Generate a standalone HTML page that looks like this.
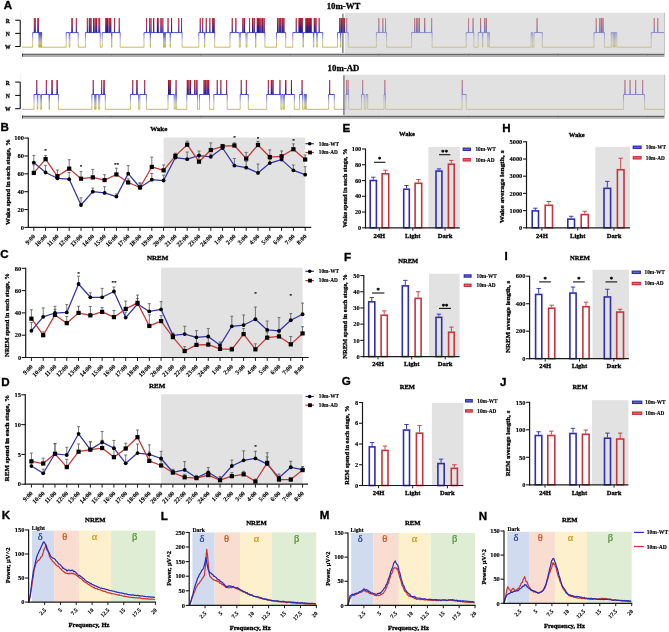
<!DOCTYPE html>
<html><head><meta charset="utf-8"><title>Sleep figure</title>
<style>html,body{margin:0;padding:0;background:#fff;overflow:hidden;width:669px;height:632px;}svg{display:block;will-change:transform;filter:blur(0.35px);}</style>
</head><body>
<svg width="669" height="632" viewBox="0 0 669 632">
<rect x="0" y="0" width="669" height="632" fill="#fff"/>
<text x="3.87" y="9.1" font-size="11.6" font-family="'Liberation Sans', sans-serif" font-weight="bold" text-anchor="start" fill="#000" stroke="#000" stroke-width="0.35">A</text>
<defs><linearGradient id="gA1" gradientUnits="userSpaceOnUse" x1="0" y1="18.1" x2="0" y2="47.2">
<stop offset="0" stop-color="#c02636"/><stop offset="0.22" stop-color="#a82a5c"/><stop offset="0.40" stop-color="#4a2a9c"/><stop offset="0.48" stop-color="#1e1eb0"/><stop offset="0.52" stop-color="#4a4ad2"/><stop offset="0.62" stop-color="#7474c8"/><stop offset="0.74" stop-color="#a4a4bc"/><stop offset="0.86" stop-color="#c4c080"/><stop offset="0.97" stop-color="#bab238"/><stop offset="1" stop-color="#b8b032"/>
</linearGradient></defs>
<line x1="20.7" y1="11" x2="20.7" y2="58.3" stroke="#ececec" stroke-width="0.8"/>
<line x1="20.2" y1="20.2" x2="20.2" y2="46.5" stroke="#000" stroke-width="1"/>
<line x1="15.2" y1="20.2" x2="20.2" y2="20.2" stroke="#000" stroke-width="1"/>
<text x="7.7" y="22.7" font-size="7" font-family="'Liberation Serif', serif" font-weight="bold" text-anchor="middle" fill="#000" transform="translate(7.7 0) scale(0.8 1) translate(-7.7 0)" stroke="#000" stroke-width="0.29">R</text>
<line x1="15.2" y1="33.4" x2="20.2" y2="33.4" stroke="#000" stroke-width="1"/>
<text x="7.7" y="35.9" font-size="7" font-family="'Liberation Serif', serif" font-weight="bold" text-anchor="middle" fill="#000" transform="translate(7.7 0) scale(0.8 1) translate(-7.7 0)" stroke="#000" stroke-width="0.29">N</text>
<line x1="15.2" y1="46.5" x2="20.2" y2="46.5" stroke="#000" stroke-width="1"/>
<text x="7.7" y="49" font-size="7" font-family="'Liberation Serif', serif" font-weight="bold" text-anchor="middle" fill="#000" transform="translate(7.7 0) scale(0.8 1) translate(-7.7 0)" stroke="#000" stroke-width="0.29">W</text>
<path d="M22.2 47.2 L32.7 47.2 L32.7 32.6 L34.3 32.6 L34.3 18.1 L34.42 18.1 L34.42 32.6 L35.2 32.6 L35.2 18.1 L35.32 18.1 L35.32 32.6 L37.8 32.6 L37.8 18.1 L37.92 18.1 L37.92 32.6 L38.4 32.6 L38.4 18.1 L38.52 18.1 L38.52 32.6 L38.9 32.6 L38.9 47.2 L39.2 47.2 L39.2 32.6 L39.5 32.6 L39.5 47.2 L39.8 47.2 L39.8 32.6 L40.1 32.6 L40.1 47.2 L40.4 47.2 L40.4 32.6 L40.7 32.6 L40.7 47.2 L41 47.2 L41 32.6 L41.2 32.6 L41.2 47.2 L41.5 47.2 L41.5 32.6 L41.7 32.6 L41.7 47.2 L66.2 47.2 L66.2 32.6 L69.2 32.6 L69.2 47.2 L69.9 47.2 L69.9 32.6 L72 32.6 L72 18.1 L72.12 18.1 L72.12 32.6 L76.3 32.6 L76.3 18.1 L76.42 18.1 L76.42 32.6 L78.2 32.6 L78.2 47.2 L85.4 47.2 L85.4 32.6 L87.3 32.6 L87.3 18.1 L87.42 18.1 L87.42 32.6 L89.3 32.6 L89.3 18.1 L89.42 18.1 L89.42 32.6 L90.85 32.6 L90.85 18.1 L90.97 18.1 L90.97 32.6 L93.5 32.6 L93.5 18.1 L93.62 18.1 L93.62 32.6 L95.05 32.6 L95.05 18.1 L95.17 18.1 L95.17 32.6 L96.6 32.6 L96.6 18.1 L96.72 18.1 L96.72 32.6 L98.9 32.6 L98.9 18.1 L99.02 18.1 L99.02 32.6 L99.6 32.6 L99.6 18.1 L99.72 18.1 L99.72 32.6 L100.2 32.6 L100.2 47.2 L102.2 47.2 L102.2 32.6 L105.9 32.6 L105.9 18.1 L106.02 18.1 L106.02 32.6 L107.45 32.6 L107.45 18.1 L107.57 18.1 L107.57 32.6 L109.1 32.6 L109.1 18.1 L109.22 18.1 L109.22 32.6 L110.65 32.6 L110.65 18.1 L110.77 18.1 L110.77 32.6 L111.5 32.6 L111.5 47.2 L111.9 47.2 L111.9 32.6 L114.5 32.6 L114.5 18.1 L114.62 18.1 L114.62 32.6 L119.2 32.6 L119.2 18.1 L119.32 18.1 L119.32 32.6 L120.2 32.6 L120.2 47.2 L144 47.2 L144 32.6 L146.5 32.6 L146.5 18.1 L146.62 18.1 L146.62 32.6 L149.6 32.6 L149.6 18.1 L149.72 18.1 L149.72 32.6 L150.2 32.6 L150.2 47.2 L150.5 47.2 L150.5 32.6 L150.9 32.6 L150.9 18.1 L151.02 18.1 L151.02 32.6 L153.6 32.6 L153.6 18.1 L153.72 18.1 L153.72 32.6 L157.4 32.6 L157.4 18.1 L157.52 18.1 L157.52 32.6 L161 32.6 L161 18.1 L161.12 18.1 L161.12 32.6 L162.8 32.6 L162.8 18.1 L162.92 18.1 L162.92 32.6 L163.5 32.6 L163.5 47.2 L163.9 47.2 L163.9 32.6 L164.3 32.6 L164.3 47.2 L164.7 47.2 L164.7 32.6 L165 32.6 L165 47.2 L165.4 47.2 L165.4 32.6 L168 32.6 L168 18.1 L168.12 18.1 L168.12 32.6 L170.1 32.6 L170.1 47.2 L170.6 47.2 L170.6 32.6 L171.5 32.6 L171.5 18.1 L171.62 18.1 L171.62 32.6 L178.7 32.6 L178.7 18.1 L178.82 18.1 L178.82 32.6 L181.5 32.6 L181.5 18.1 L181.62 18.1 L181.62 32.6 L182.1 32.6 L182.1 47.2 L198.8 47.2 L198.8 32.6 L200.2 32.6 L200.2 18.1 L200.32 18.1 L200.32 32.6 L202.6 32.6 L202.6 18.1 L202.72 18.1 L202.72 32.6 L204.4 32.6 L204.4 47.2 L204.8 47.2 L204.8 32.6 L206.2 32.6 L206.2 18.1 L206.32 18.1 L206.32 32.6 L209.8 32.6 L209.8 18.1 L209.92 18.1 L209.92 32.6 L212.8 32.6 L212.8 18.1 L212.92 18.1 L212.92 32.6 L214.7 32.6 L214.7 47.2 L230 47.2 L230 32.6 L232.2 32.6 L232.2 18.1 L232.32 18.1 L232.32 32.6 L235.8 32.6 L235.8 18.1 L235.92 18.1 L235.92 32.6 L239.3 32.6 L239.3 47.2 L240.3 47.2 L240.3 32.6 L242.9 32.6 L242.9 18.1 L243.02 18.1 L243.02 32.6 L244.45 32.6 L244.45 18.1 L244.57 18.1 L244.57 32.6 L246 32.6 L246 47.2 L247 47.2 L247 32.6 L249.5 32.6 L249.5 18.1 L249.62 18.1 L249.62 32.6 L252.5 32.6 L252.5 18.1 L252.62 18.1 L252.62 32.6 L254.05 32.6 L254.05 18.1 L254.17 18.1 L254.17 32.6 L255.5 32.6 L255.5 47.2 L255.9 47.2 L255.9 32.6 L257.3 32.6 L257.3 18.1 L257.42 18.1 L257.42 32.6 L258.85 32.6 L258.85 18.1 L258.97 18.1 L258.97 32.6 L260.9 32.6 L260.9 18.1 L261.02 18.1 L261.02 32.6 L262.45 32.6 L262.45 18.1 L262.57 18.1 L262.57 32.6 L264 32.6 L264 18.1 L264.12 18.1 L264.12 32.6 L264.9 32.6 L264.9 47.2 L276.5 47.2 L276.5 32.6 L277.6 32.6 L277.6 18.1 L277.72 18.1 L277.72 32.6 L279.15 32.6 L279.15 18.1 L279.27 18.1 L279.27 32.6 L280.7 32.6 L280.7 18.1 L280.82 18.1 L280.82 32.6 L282.25 32.6 L282.25 18.1 L282.37 18.1 L282.37 32.6 L283.8 32.6 L283.8 18.1 L283.92 18.1 L283.92 32.6 L285.7 32.6 L285.7 47.2 L292.8 47.2 L292.8 32.6 L296.2 32.6 L296.2 18.1 L296.32 18.1 L296.32 32.6 L299.1 32.6 L299.1 18.1 L299.22 18.1 L299.22 32.6 L300.65 32.6 L300.65 18.1 L300.77 18.1 L300.77 32.6 L302.2 32.6 L302.2 18.1 L302.32 18.1 L302.32 32.6 L303 32.6 L303 47.2 L303.4 47.2 L303.4 32.6 L306 32.6 L306 18.1 L306.12 18.1 L306.12 32.6 L307.55 32.6 L307.55 18.1 L307.67 18.1 L307.67 32.6 L309.1 32.6 L309.1 18.1 L309.22 18.1 L309.22 32.6 L310.65 32.6 L310.65 18.1 L310.77 18.1 L310.77 32.6 L313.4 32.6 L313.4 47.2 L313.8 47.2 L313.8 32.6 L314.3 32.6 L314.3 18.1 L314.42 18.1 L314.42 32.6 L315.85 32.6 L315.85 18.1 L315.97 18.1 L315.97 32.6 L316.8 32.6 L316.8 47.2 L317.2 47.2 L317.2 32.6 L319.1 32.6 L319.1 18.1 L319.22 18.1 L319.22 32.6 L322.7 32.6 L322.7 47.2 L337.5 47.2 L337.5 32.6 L339.5 32.6 L339.5 18.1 L339.62 18.1 L339.62 32.6 L340.4 32.6 L340.4 47.2 L340.8 47.2 L340.8 32.6 L341 32.6 L341 18.1 L341.12 18.1 L341.12 32.6 L342.55 32.6 L342.55 18.1 L342.67 18.1 L342.67 32.6 L344.1 32.6 L344.1 18.1 L344.22 18.1 L344.22 32.6 L346.6 32.6 L346.6 18.1 L346.72 18.1 L346.72 32.6 L348.2 32.6 L348.2 47.2 L376.4 47.2 L376.4 32.6 L378.8 32.6 L378.8 18.1 L378.92 18.1 L378.92 32.6 L382.8 32.6 L382.8 18.1 L382.92 18.1 L382.92 32.6 L385.5 32.6 L385.5 18.1 L385.62 18.1 L385.62 32.6 L386.6 32.6 L386.6 47.2 L411.6 47.2 L411.6 32.6 L414.5 32.6 L414.5 18.1 L414.62 18.1 L414.62 32.6 L416.3 32.6 L416.3 18.1 L416.42 18.1 L416.42 32.6 L417.85 32.6 L417.85 18.1 L417.97 18.1 L417.97 32.6 L419.4 32.6 L419.4 18.1 L419.52 18.1 L419.52 32.6 L424.6 32.6 L424.6 18.1 L424.72 18.1 L424.72 32.6 L431.6 32.6 L431.6 18.1 L431.72 18.1 L431.72 32.6 L432.1 32.6 L432.1 47.2 L466.2 47.2 L466.2 32.6 L468.5 32.6 L468.5 18.1 L468.62 18.1 L468.62 32.6 L473 32.6 L473 18.1 L473.12 18.1 L473.12 32.6 L473.9 32.6 L473.9 47.2 L478.2 47.2 L478.2 32.6 L480.5 32.6 L480.5 18.1 L480.62 18.1 L480.62 32.6 L482.4 32.6 L482.4 47.2 L482.8 47.2 L482.8 32.6 L484.7 32.6 L484.7 18.1 L484.82 18.1 L484.82 32.6 L486.25 32.6 L486.25 18.1 L486.37 18.1 L486.37 32.6 L487.8 32.6 L487.8 47.2 L488.2 47.2 L488.2 32.6 L489.5 32.6 L489.5 47.2 L531.1 47.2 L531.1 32.6 L532.4 32.6 L532.4 47.2 L534 47.2 L534 32.6 L537 32.6 L537 18.1 L537.12 18.1 L537.12 32.6 L542.3 32.6 L542.3 47.2 L594 47.2 L594 32.6 L596.2 32.6 L596.2 18.1 L596.32 18.1 L596.32 32.6 L599.8 32.6 L599.8 18.1 L599.92 18.1 L599.92 32.6 L601.35 32.6 L601.35 18.1 L601.47 18.1 L601.47 32.6 L602.9 32.6 L602.9 18.1 L603.02 18.1 L603.02 32.6 L604.4 32.6 L604.4 47.2 L611.3 47.2 L611.3 32.6 L613 32.6 L613 47.2 L613.7 47.2 L613.7 32.6 L614.6 32.6 L614.6 47.2 L615.3 47.2 L615.3 32.6 L616.8 32.6 L616.8 47.2 L651.2 47.2 L651.2 32.6 L654.2 32.6 L654.2 18.1 L654.32 18.1 L654.32 32.6 L657.7 32.6 L657.7 18.1 L657.82 18.1 L657.82 32.6 L664.2 32.6" fill="none" stroke="url(#gA1)" stroke-width="0.85" stroke-linejoin="miter"/>
<defs><linearGradient id="gA1d" gradientUnits="userSpaceOnUse" x1="0" y1="18.1" x2="0" y2="32.6">
<stop offset="0" stop-color="#a8101c"/><stop offset="0.35" stop-color="#8a0c2c"/><stop offset="0.65" stop-color="#2a0a70"/><stop offset="1" stop-color="#10108e"/></linearGradient></defs>
<path d="M72.06 32.6 V18.1 M89.36 32.6 V18.1 M90.91 32.6 V18.1 M93.56 32.6 V18.1 M95.11 32.6 V18.1 M96.66 32.6 V18.1 M105.9 32.6 V18.1 M106.5 32.6 V18.1 M107.1 32.6 V18.1 M107.7 32.6 V18.1 M109.16 32.6 V18.1 M110.71 32.6 V18.1 M153.66 32.6 V18.1 M157.4 32.6 V18.1 M158 32.6 V18.1 M158.6 32.6 V18.1 M161.06 32.6 V18.1 M171.56 32.6 V18.1 M212.8 32.6 V18.1 M213.4 32.6 V18.1 M214 32.6 V18.1 M214.6 32.6 V18.1 M242.96 32.6 V18.1 M244.51 32.6 V18.1 M252.56 32.6 V18.1 M254.11 32.6 V18.1 M257.3 32.6 V18.1 M257.9 32.6 V18.1 M258.5 32.6 V18.1 M259.1 32.6 V18.1 M259.7 32.6 V18.1 M260.96 32.6 V18.1 M262.51 32.6 V18.1 M264.06 32.6 V18.1 M277.66 32.6 V18.1 M279.21 32.6 V18.1 M280.76 32.6 V18.1 M282.31 32.6 V18.1 M283.86 32.6 V18.1 M299.1 32.6 V18.1 M299.7 32.6 V18.1 M300.3 32.6 V18.1 M300.9 32.6 V18.1 M301.5 32.6 V18.1 M302.1 32.6 V18.1 M306 32.6 V18.1 M306.6 32.6 V18.1 M307.2 32.6 V18.1 M307.8 32.6 V18.1 M308.4 32.6 V18.1 M309 32.6 V18.1 M309.6 32.6 V18.1 M310.2 32.6 V18.1 M310.8 32.6 V18.1 M311.4 32.6 V18.1 M314.36 32.6 V18.1 M315.91 32.6 V18.1 M341 32.6 V18.1 M341.6 32.6 V18.1 M342.2 32.6 V18.1 M342.8 32.6 V18.1 M343.4 32.6 V18.1 M344 32.6 V18.1 M344.6 32.6 V18.1 M416.36 32.6 V18.1 M417.91 32.6 V18.1 M419.46 32.6 V18.1 M424.66 32.6 V18.1 M480.56 32.6 V18.1 M484.76 32.6 V18.1 M486.31 32.6 V18.1 M599.86 32.6 V18.1 M601.41 32.6 V18.1 M602.96 32.6 V18.1" fill="none" stroke="url(#gA1d)" stroke-width="0.75" stroke-opacity="0.85"/>
<rect x="344.8" y="12.8" width="319.4" height="40.8" fill="#c6c6c6" fill-opacity="0.52"/>
<line x1="664.6" y1="12.8" x2="664.6" y2="53.6" stroke="#b8b8b8" stroke-width="0.9"/>
<line x1="342.9" y1="13.4" x2="342.9" y2="53.1" stroke="#6a6a6a" stroke-width="1.2"/>
<line x1="22.1" y1="55.8" x2="664.5" y2="55.8" stroke="#b0b0b0" stroke-width="2.2"/>
<line x1="22.1" y1="54.3" x2="664.5" y2="54.3" stroke="#404040" stroke-width="1.1"/>
<line x1="22.5" y1="53.7" x2="22.5" y2="56.5" stroke="#333" stroke-width="0.9"/>
<line x1="111.2" y1="53.8" x2="111.2" y2="56.1" stroke="#777" stroke-width="0.5"/>
<line x1="200.6" y1="53.8" x2="200.6" y2="56.1" stroke="#777" stroke-width="0.5"/>
<line x1="290.4" y1="53.8" x2="290.4" y2="56.1" stroke="#777" stroke-width="0.5"/>
<line x1="378.6" y1="53.8" x2="378.6" y2="56.1" stroke="#777" stroke-width="0.5"/>
<line x1="468.5" y1="53.8" x2="468.5" y2="56.1" stroke="#777" stroke-width="0.5"/>
<line x1="557.8" y1="53.8" x2="557.8" y2="56.1" stroke="#777" stroke-width="0.5"/>
<line x1="647.2" y1="53.8" x2="647.2" y2="56.1" stroke="#777" stroke-width="0.5"/>
<text x="343.5" y="9.4" font-size="8.8" font-family="'Liberation Serif', serif" font-weight="bold" text-anchor="middle" fill="#000" stroke="#000" stroke-width="0.3">10m-WT</text>
<defs><linearGradient id="gA2" gradientUnits="userSpaceOnUse" x1="0" y1="80" x2="0" y2="109.3">
<stop offset="0" stop-color="#c02636"/><stop offset="0.22" stop-color="#a82a5c"/><stop offset="0.40" stop-color="#4a2a9c"/><stop offset="0.48" stop-color="#1e1eb0"/><stop offset="0.52" stop-color="#4a4ad2"/><stop offset="0.62" stop-color="#7474c8"/><stop offset="0.74" stop-color="#a4a4bc"/><stop offset="0.86" stop-color="#c4c080"/><stop offset="0.97" stop-color="#bab238"/><stop offset="1" stop-color="#b8b032"/>
</linearGradient></defs>
<line x1="20.7" y1="73" x2="20.7" y2="120.2" stroke="#ececec" stroke-width="0.8"/>
<line x1="20.2" y1="82.1" x2="20.2" y2="108.7" stroke="#000" stroke-width="1"/>
<line x1="15.2" y1="82.1" x2="20.2" y2="82.1" stroke="#000" stroke-width="1"/>
<text x="7.7" y="84.6" font-size="7" font-family="'Liberation Serif', serif" font-weight="bold" text-anchor="middle" fill="#000" transform="translate(7.7 0) scale(0.8 1) translate(-7.7 0)" stroke="#000" stroke-width="0.29">R</text>
<line x1="15.2" y1="95.4" x2="20.2" y2="95.4" stroke="#000" stroke-width="1"/>
<text x="7.7" y="97.9" font-size="7" font-family="'Liberation Serif', serif" font-weight="bold" text-anchor="middle" fill="#000" transform="translate(7.7 0) scale(0.8 1) translate(-7.7 0)" stroke="#000" stroke-width="0.29">N</text>
<line x1="15.2" y1="108.7" x2="20.2" y2="108.7" stroke="#000" stroke-width="1"/>
<text x="7.7" y="111.2" font-size="7" font-family="'Liberation Serif', serif" font-weight="bold" text-anchor="middle" fill="#000" transform="translate(7.7 0) scale(0.8 1) translate(-7.7 0)" stroke="#000" stroke-width="0.29">W</text>
<path d="M21.8 109.3 L34 109.3 L34 94.5 L36.7 94.5 L36.7 80 L36.82 80 L36.82 94.5 L37.3 94.5 L37.3 109.3 L37.8 109.3 L37.8 94.5 L40.3 94.5 L40.3 109.3 L41.5 109.3 L41.5 94.5 L46.3 94.5 L46.3 80 L46.42 80 L46.42 94.5 L49.1 94.5 L49.1 109.3 L49.5 109.3 L49.5 94.5 L52 94.5 L52 80 L52.12 80 L52.12 94.5 L57.1 94.5 L57.1 80 L57.22 80 L57.22 94.5 L58.4 94.5 L58.4 109.3 L91.9 109.3 L91.9 94.5 L93.2 94.5 L93.2 80 L93.32 80 L93.32 94.5 L94.7 94.5 L94.7 109.3 L95.2 109.3 L95.2 94.5 L95.6 94.5 L95.6 109.3 L96 109.3 L96 94.5 L98.6 94.5 L98.6 109.3 L99.7 109.3 L99.7 94.5 L101.6 94.5 L101.6 80 L101.72 80 L101.72 94.5 L104 94.5 L104 80 L104.12 80 L104.12 94.5 L105.3 94.5 L105.3 109.3 L130.4 109.3 L130.4 94.5 L132.7 94.5 L132.7 80 L132.82 80 L132.82 94.5 L136.9 94.5 L136.9 80 L137.02 80 L137.02 94.5 L138.6 94.5 L138.6 109.3 L139.8 109.3 L139.8 94.5 L144.6 94.5 L144.6 80 L144.72 80 L144.72 94.5 L146.4 94.5 L146.4 109.3 L168 109.3 L168 94.5 L168.5 94.5 L168.5 80 L168.62 80 L168.62 94.5 L170.05 94.5 L170.05 80 L170.17 80 L170.17 94.5 L174.2 94.5 L174.2 109.3 L175.3 109.3 L175.3 94.5 L176 94.5 L176 80 L176.12 80 L176.12 94.5 L176.6 94.5 L176.6 109.3 L186.8 109.3 L186.8 94.5 L187.3 94.5 L187.3 80 L187.42 80 L187.42 94.5 L188.85 94.5 L188.85 80 L188.97 80 L188.97 94.5 L190.4 94.5 L190.4 80 L190.52 80 L190.52 94.5 L194.5 94.5 L194.5 80 L194.62 80 L194.62 94.5 L196 94.5 L196 80 L196.12 80 L196.12 94.5 L197 94.5 L197 80 L197.12 80 L197.12 94.5 L197.5 94.5 L197.5 109.3 L199.5 109.3 L199.5 94.5 L204.1 94.5 L204.1 80 L204.22 80 L204.22 94.5 L205.65 94.5 L205.65 80 L205.77 80 L205.77 94.5 L207.1 94.5 L207.1 80 L207.22 80 L207.22 94.5 L208.65 94.5 L208.65 80 L208.77 80 L208.77 94.5 L209.6 94.5 L209.6 109.3 L213.8 109.3 L213.8 94.5 L217.2 94.5 L217.2 80 L217.32 80 L217.32 94.5 L220.8 94.5 L220.8 80 L220.92 80 L220.92 94.5 L226.6 94.5 L226.6 80 L226.72 80 L226.72 94.5 L227.2 94.5 L227.2 109.3 L240.2 109.3 L240.2 94.5 L241.2 94.5 L241.2 80 L241.32 80 L241.32 94.5 L246.3 94.5 L246.3 80 L246.42 80 L246.42 94.5 L248.3 94.5 L248.3 109.3 L266.7 109.3 L266.7 94.5 L268.3 94.5 L268.3 80 L268.42 80 L268.42 94.5 L271.3 94.5 L271.3 80 L271.42 80 L271.42 94.5 L272.85 94.5 L272.85 80 L272.97 80 L272.97 94.5 L279.9 94.5 L279.9 80 L280.02 80 L280.02 94.5 L280.9 94.5 L280.9 109.3 L282 109.3 L282 94.5 L283.4 94.5 L283.4 109.3 L284.4 109.3 L284.4 94.5 L285.7 94.5 L285.7 80 L285.82 80 L285.82 94.5 L291.4 94.5 L291.4 80 L291.52 80 L291.52 94.5 L294.3 94.5 L294.3 109.3 L299.6 109.3 L299.6 94.5 L302 94.5 L302 80 L302.12 80 L302.12 94.5 L302.6 94.5 L302.6 109.3 L304.2 109.3 L304.2 94.5 L305 94.5 L305 109.3 L305.5 109.3 L305.5 94.5 L306.4 94.5 L306.4 109.3 L328.6 109.3 L328.6 94.5 L329.6 94.5 L329.6 80 L329.72 80 L329.72 94.5 L334.3 94.5 L334.3 109.3 L345.9 109.3 L345.9 94.5 L346.5 94.5 L346.5 80 L346.62 80 L346.62 94.5 L348.1 94.5 L348.1 80 L348.22 80 L348.22 94.5 L348.7 94.5 L348.7 109.3 L361.5 109.3 L361.5 94.5 L362.6 94.5 L362.6 80 L362.72 80 L362.72 94.5 L364.2 94.5 L364.2 109.3 L366 109.3 L366 94.5 L367.7 94.5 L367.7 109.3 L384 109.3 L384 94.5 L384.8 94.5 L384.8 80 L384.92 80 L384.92 94.5 L385.5 94.5 L385.5 109.3 L462 109.3 L462 94.5 L462.2 94.5 L462.2 80 L462.32 80 L462.32 94.5 L466.2 94.5 L466.2 109.3 L623.5 109.3 L623.5 94.5 L624.9 94.5 L624.9 80 L625.02 80 L625.02 94.5 L630 94.5 L630 80 L630.12 80 L630.12 94.5 L635.6 94.5 L635.6 80 L635.72 80 L635.72 94.5 L642.6 94.5 L642.6 80 L642.72 80 L642.72 94.5 L644.6 94.5 L644.6 109.3 L664.3 109.3" fill="none" stroke="url(#gA2)" stroke-width="0.85" stroke-linejoin="miter"/>
<defs><linearGradient id="gA2d" gradientUnits="userSpaceOnUse" x1="0" y1="80" x2="0" y2="94.5">
<stop offset="0" stop-color="#a8101c"/><stop offset="0.35" stop-color="#8a0c2c"/><stop offset="0.65" stop-color="#2a0a70"/><stop offset="1" stop-color="#10108e"/></linearGradient></defs>
<path d="M52.06 94.5 V80 M57.16 94.5 V80 M104.06 94.5 V80 M136.96 94.5 V80 M168.5 94.5 V80 M169.1 94.5 V80 M169.7 94.5 V80 M170.3 94.5 V80 M187.36 94.5 V80 M188.91 94.5 V80 M190.46 94.5 V80 M204.16 94.5 V80 M205.71 94.5 V80 M207.16 94.5 V80 M208.71 94.5 V80 M271.36 94.5 V80 M272.91 94.5 V80 M285.76 94.5 V80 M291.46 94.5 V80" fill="none" stroke="url(#gA2d)" stroke-width="0.75" stroke-opacity="0.85"/>
<rect x="343.8" y="74.7" width="320.5" height="40.7" fill="#c6c6c6" fill-opacity="0.52"/>
<line x1="664.7" y1="74.7" x2="664.7" y2="115.4" stroke="#b8b8b8" stroke-width="0.9"/>
<line x1="343.9" y1="75.3" x2="343.9" y2="114.9" stroke="#6a6a6a" stroke-width="1.2"/>
<line x1="22.1" y1="117.7" x2="664.5" y2="117.7" stroke="#b0b0b0" stroke-width="2.2"/>
<line x1="22.1" y1="116.2" x2="664.5" y2="116.2" stroke="#404040" stroke-width="1.1"/>
<line x1="22.5" y1="115.6" x2="22.5" y2="118.4" stroke="#333" stroke-width="0.9"/>
<line x1="111.2" y1="115.7" x2="111.2" y2="118" stroke="#777" stroke-width="0.5"/>
<line x1="200.6" y1="115.7" x2="200.6" y2="118" stroke="#777" stroke-width="0.5"/>
<line x1="290.4" y1="115.7" x2="290.4" y2="118" stroke="#777" stroke-width="0.5"/>
<line x1="378.6" y1="115.7" x2="378.6" y2="118" stroke="#777" stroke-width="0.5"/>
<line x1="468.5" y1="115.7" x2="468.5" y2="118" stroke="#777" stroke-width="0.5"/>
<line x1="557.8" y1="115.7" x2="557.8" y2="118" stroke="#777" stroke-width="0.5"/>
<line x1="647.2" y1="115.7" x2="647.2" y2="118" stroke="#777" stroke-width="0.5"/>
<text x="343.5" y="70.6" font-size="8.8" font-family="'Liberation Serif', serif" font-weight="bold" text-anchor="middle" fill="#000" stroke="#000" stroke-width="0.3">10m-AD</text>
<rect x="163.6" y="137.6" width="141.6" height="89.8" fill="#e2e2e2"/>
<line x1="33.8" y1="162.57" x2="33.8" y2="155.42" stroke="#555" stroke-width="0.8"/>
<line x1="32.3" y1="155.42" x2="35.3" y2="155.42" stroke="#555" stroke-width="0.8"/>
<line x1="45.6" y1="172.48" x2="45.6" y2="165.34" stroke="#555" stroke-width="0.8"/>
<line x1="44.1" y1="165.34" x2="47.1" y2="165.34" stroke="#555" stroke-width="0.8"/>
<line x1="57.4" y1="178.28" x2="57.4" y2="174.71" stroke="#555" stroke-width="0.8"/>
<line x1="55.9" y1="174.71" x2="58.9" y2="174.71" stroke="#555" stroke-width="0.8"/>
<line x1="69.2" y1="179.18" x2="69.2" y2="172.48" stroke="#555" stroke-width="0.8"/>
<line x1="67.7" y1="172.48" x2="70.7" y2="172.48" stroke="#555" stroke-width="0.8"/>
<line x1="81" y1="204.99" x2="81" y2="197.84" stroke="#555" stroke-width="0.8"/>
<line x1="79.5" y1="197.84" x2="82.5" y2="197.84" stroke="#555" stroke-width="0.8"/>
<line x1="92.8" y1="191.68" x2="92.8" y2="188.11" stroke="#555" stroke-width="0.8"/>
<line x1="91.3" y1="188.11" x2="94.3" y2="188.11" stroke="#555" stroke-width="0.8"/>
<line x1="104.6" y1="192.93" x2="104.6" y2="186.68" stroke="#555" stroke-width="0.8"/>
<line x1="103.1" y1="186.68" x2="106.1" y2="186.68" stroke="#555" stroke-width="0.8"/>
<line x1="116.4" y1="196.59" x2="116.4" y2="193.91" stroke="#555" stroke-width="0.8"/>
<line x1="114.9" y1="193.91" x2="117.9" y2="193.91" stroke="#555" stroke-width="0.8"/>
<line x1="128.2" y1="173.64" x2="128.2" y2="165.6" stroke="#555" stroke-width="0.8"/>
<line x1="126.7" y1="165.6" x2="129.7" y2="165.6" stroke="#555" stroke-width="0.8"/>
<line x1="140" y1="187.48" x2="140" y2="183.02" stroke="#555" stroke-width="0.8"/>
<line x1="138.5" y1="183.02" x2="141.5" y2="183.02" stroke="#555" stroke-width="0.8"/>
<line x1="151.8" y1="179.71" x2="151.8" y2="173.46" stroke="#555" stroke-width="0.8"/>
<line x1="150.3" y1="173.46" x2="153.3" y2="173.46" stroke="#555" stroke-width="0.8"/>
<line x1="163.6" y1="180.52" x2="163.6" y2="175.16" stroke="#555" stroke-width="0.8"/>
<line x1="162.1" y1="175.16" x2="165.1" y2="175.16" stroke="#555" stroke-width="0.8"/>
<line x1="175.4" y1="157.57" x2="175.4" y2="154.89" stroke="#555" stroke-width="0.8"/>
<line x1="173.9" y1="154.89" x2="176.9" y2="154.89" stroke="#555" stroke-width="0.8"/>
<line x1="187.2" y1="159.17" x2="187.2" y2="152.03" stroke="#555" stroke-width="0.8"/>
<line x1="185.7" y1="152.03" x2="188.7" y2="152.03" stroke="#555" stroke-width="0.8"/>
<line x1="199" y1="155.51" x2="199" y2="151.05" stroke="#555" stroke-width="0.8"/>
<line x1="197.5" y1="151.05" x2="200.5" y2="151.05" stroke="#555" stroke-width="0.8"/>
<line x1="210.8" y1="156.76" x2="210.8" y2="154.08" stroke="#555" stroke-width="0.8"/>
<line x1="209.3" y1="154.08" x2="212.3" y2="154.08" stroke="#555" stroke-width="0.8"/>
<line x1="222.6" y1="148.01" x2="222.6" y2="146.23" stroke="#555" stroke-width="0.8"/>
<line x1="221.1" y1="146.23" x2="224.1" y2="146.23" stroke="#555" stroke-width="0.8"/>
<line x1="234.4" y1="165.6" x2="234.4" y2="158.46" stroke="#555" stroke-width="0.8"/>
<line x1="232.9" y1="158.46" x2="235.9" y2="158.46" stroke="#555" stroke-width="0.8"/>
<line x1="246.2" y1="167.66" x2="246.2" y2="161.41" stroke="#555" stroke-width="0.8"/>
<line x1="244.7" y1="161.41" x2="247.7" y2="161.41" stroke="#555" stroke-width="0.8"/>
<line x1="258" y1="172.93" x2="258" y2="164" stroke="#555" stroke-width="0.8"/>
<line x1="256.5" y1="164" x2="259.5" y2="164" stroke="#555" stroke-width="0.8"/>
<line x1="269.8" y1="163.1" x2="269.8" y2="159.53" stroke="#555" stroke-width="0.8"/>
<line x1="268.3" y1="159.53" x2="271.3" y2="159.53" stroke="#555" stroke-width="0.8"/>
<line x1="281.6" y1="159.62" x2="281.6" y2="156.94" stroke="#555" stroke-width="0.8"/>
<line x1="280.1" y1="156.94" x2="283.1" y2="156.94" stroke="#555" stroke-width="0.8"/>
<line x1="293.4" y1="170.34" x2="293.4" y2="164.98" stroke="#555" stroke-width="0.8"/>
<line x1="291.9" y1="164.98" x2="294.9" y2="164.98" stroke="#555" stroke-width="0.8"/>
<line x1="305.2" y1="174.71" x2="305.2" y2="166.68" stroke="#555" stroke-width="0.8"/>
<line x1="303.7" y1="166.68" x2="306.7" y2="166.68" stroke="#555" stroke-width="0.8"/>
<line x1="33.8" y1="172.93" x2="33.8" y2="164.89" stroke="#555" stroke-width="0.8"/>
<line x1="32.3" y1="164.89" x2="35.3" y2="164.89" stroke="#555" stroke-width="0.8"/>
<line x1="45.6" y1="159.17" x2="45.6" y2="155.6" stroke="#555" stroke-width="0.8"/>
<line x1="44.1" y1="155.6" x2="47.1" y2="155.6" stroke="#555" stroke-width="0.8"/>
<line x1="57.4" y1="176.32" x2="57.4" y2="170.07" stroke="#555" stroke-width="0.8"/>
<line x1="55.9" y1="170.07" x2="58.9" y2="170.07" stroke="#555" stroke-width="0.8"/>
<line x1="69.2" y1="168.64" x2="69.2" y2="159.71" stroke="#555" stroke-width="0.8"/>
<line x1="67.7" y1="159.71" x2="70.7" y2="159.71" stroke="#555" stroke-width="0.8"/>
<line x1="81" y1="178.73" x2="81" y2="171.59" stroke="#555" stroke-width="0.8"/>
<line x1="79.5" y1="171.59" x2="82.5" y2="171.59" stroke="#555" stroke-width="0.8"/>
<line x1="92.8" y1="177.39" x2="92.8" y2="169.36" stroke="#555" stroke-width="0.8"/>
<line x1="91.3" y1="169.36" x2="94.3" y2="169.36" stroke="#555" stroke-width="0.8"/>
<line x1="104.6" y1="180.07" x2="104.6" y2="174.71" stroke="#555" stroke-width="0.8"/>
<line x1="103.1" y1="174.71" x2="106.1" y2="174.71" stroke="#555" stroke-width="0.8"/>
<line x1="116.4" y1="174.45" x2="116.4" y2="168.19" stroke="#555" stroke-width="0.8"/>
<line x1="114.9" y1="168.19" x2="117.9" y2="168.19" stroke="#555" stroke-width="0.8"/>
<line x1="128.2" y1="182.48" x2="128.2" y2="178.91" stroke="#555" stroke-width="0.8"/>
<line x1="126.7" y1="178.91" x2="129.7" y2="178.91" stroke="#555" stroke-width="0.8"/>
<line x1="140" y1="187.48" x2="140" y2="183.02" stroke="#555" stroke-width="0.8"/>
<line x1="138.5" y1="183.02" x2="141.5" y2="183.02" stroke="#555" stroke-width="0.8"/>
<line x1="151.8" y1="166.94" x2="151.8" y2="157.12" stroke="#555" stroke-width="0.8"/>
<line x1="150.3" y1="157.12" x2="153.3" y2="157.12" stroke="#555" stroke-width="0.8"/>
<line x1="163.6" y1="170.34" x2="163.6" y2="164.98" stroke="#555" stroke-width="0.8"/>
<line x1="162.1" y1="164.98" x2="165.1" y2="164.98" stroke="#555" stroke-width="0.8"/>
<line x1="175.4" y1="155.87" x2="175.4" y2="153.19" stroke="#555" stroke-width="0.8"/>
<line x1="173.9" y1="153.19" x2="176.9" y2="153.19" stroke="#555" stroke-width="0.8"/>
<line x1="187.2" y1="144.71" x2="187.2" y2="141.14" stroke="#555" stroke-width="0.8"/>
<line x1="185.7" y1="141.14" x2="188.7" y2="141.14" stroke="#555" stroke-width="0.8"/>
<line x1="199" y1="161.68" x2="199" y2="154.53" stroke="#555" stroke-width="0.8"/>
<line x1="197.5" y1="154.53" x2="200.5" y2="154.53" stroke="#555" stroke-width="0.8"/>
<line x1="210.8" y1="150.07" x2="210.8" y2="142.92" stroke="#555" stroke-width="0.8"/>
<line x1="209.3" y1="142.92" x2="212.3" y2="142.92" stroke="#555" stroke-width="0.8"/>
<line x1="222.6" y1="146.23" x2="222.6" y2="144.44" stroke="#555" stroke-width="0.8"/>
<line x1="221.1" y1="144.44" x2="224.1" y2="144.44" stroke="#555" stroke-width="0.8"/>
<line x1="234.4" y1="145.51" x2="234.4" y2="142.83" stroke="#555" stroke-width="0.8"/>
<line x1="232.9" y1="142.83" x2="235.9" y2="142.83" stroke="#555" stroke-width="0.8"/>
<line x1="246.2" y1="158.64" x2="246.2" y2="152.39" stroke="#555" stroke-width="0.8"/>
<line x1="244.7" y1="152.39" x2="247.7" y2="152.39" stroke="#555" stroke-width="0.8"/>
<line x1="258" y1="144.98" x2="258" y2="141.4" stroke="#555" stroke-width="0.8"/>
<line x1="256.5" y1="141.4" x2="259.5" y2="141.4" stroke="#555" stroke-width="0.8"/>
<line x1="269.8" y1="157.03" x2="269.8" y2="149.89" stroke="#555" stroke-width="0.8"/>
<line x1="268.3" y1="149.89" x2="271.3" y2="149.89" stroke="#555" stroke-width="0.8"/>
<line x1="281.6" y1="156.32" x2="281.6" y2="150.96" stroke="#555" stroke-width="0.8"/>
<line x1="280.1" y1="150.96" x2="283.1" y2="150.96" stroke="#555" stroke-width="0.8"/>
<line x1="293.4" y1="149.26" x2="293.4" y2="143.9" stroke="#555" stroke-width="0.8"/>
<line x1="291.9" y1="143.9" x2="294.9" y2="143.9" stroke="#555" stroke-width="0.8"/>
<line x1="305.2" y1="159.53" x2="305.2" y2="155.07" stroke="#555" stroke-width="0.8"/>
<line x1="303.7" y1="155.07" x2="306.7" y2="155.07" stroke="#555" stroke-width="0.8"/>
<polyline points="33.8,162.57 45.6,172.48 57.4,178.28 69.2,179.18 81,204.99 92.8,191.68 104.6,192.93 116.4,196.59 128.2,173.64 140,187.48 151.8,179.71 163.6,180.52 175.4,157.57 187.2,159.17 199,155.51 210.8,156.76 222.6,148.01 234.4,165.6 246.2,167.66 258,172.93 269.8,163.1 281.6,159.62 293.4,170.34 305.2,174.71" fill="none" stroke="#3333a6" stroke-width="1.25" stroke-linejoin="round"/>
<polyline points="33.8,172.93 45.6,159.17 57.4,176.32 69.2,168.64 81,178.73 92.8,177.39 104.6,180.07 116.4,174.45 128.2,182.48 140,187.48 151.8,166.94 163.6,170.34 175.4,155.87 187.2,144.71 199,161.68 210.8,150.07 222.6,146.23 234.4,145.51 246.2,158.64 258,144.98 269.8,157.03 281.6,156.32 293.4,149.26 305.2,159.53" fill="none" stroke="#c83434" stroke-width="1.25" stroke-linejoin="round"/>
<rect x="31.7" y="170.83" width="4.2" height="4.2" fill="#000"/>
<rect x="43.5" y="157.07" width="4.2" height="4.2" fill="#000"/>
<rect x="55.3" y="174.22" width="4.2" height="4.2" fill="#000"/>
<rect x="67.1" y="166.54" width="4.2" height="4.2" fill="#000"/>
<rect x="78.9" y="176.63" width="4.2" height="4.2" fill="#000"/>
<rect x="90.7" y="175.29" width="4.2" height="4.2" fill="#000"/>
<rect x="102.5" y="177.97" width="4.2" height="4.2" fill="#000"/>
<rect x="114.3" y="172.35" width="4.2" height="4.2" fill="#000"/>
<rect x="126.1" y="180.38" width="4.2" height="4.2" fill="#000"/>
<rect x="137.9" y="185.38" width="4.2" height="4.2" fill="#000"/>
<rect x="149.7" y="164.84" width="4.2" height="4.2" fill="#000"/>
<rect x="161.5" y="168.24" width="4.2" height="4.2" fill="#000"/>
<rect x="173.3" y="153.77" width="4.2" height="4.2" fill="#000"/>
<rect x="185.1" y="142.61" width="4.2" height="4.2" fill="#000"/>
<rect x="196.9" y="159.58" width="4.2" height="4.2" fill="#000"/>
<rect x="208.7" y="147.97" width="4.2" height="4.2" fill="#000"/>
<rect x="220.5" y="144.13" width="4.2" height="4.2" fill="#000"/>
<rect x="232.3" y="143.41" width="4.2" height="4.2" fill="#000"/>
<rect x="244.1" y="156.54" width="4.2" height="4.2" fill="#000"/>
<rect x="255.9" y="142.88" width="4.2" height="4.2" fill="#000"/>
<rect x="267.7" y="154.93" width="4.2" height="4.2" fill="#000"/>
<rect x="279.5" y="154.22" width="4.2" height="4.2" fill="#000"/>
<rect x="291.3" y="147.16" width="4.2" height="4.2" fill="#000"/>
<rect x="303.1" y="157.43" width="4.2" height="4.2" fill="#000"/>
<circle cx="33.8" cy="162.57" r="1.9" fill="#000"/>
<circle cx="45.6" cy="172.48" r="1.9" fill="#000"/>
<circle cx="57.4" cy="178.28" r="1.9" fill="#000"/>
<circle cx="69.2" cy="179.18" r="1.9" fill="#000"/>
<circle cx="81" cy="204.99" r="1.9" fill="#000"/>
<circle cx="92.8" cy="191.68" r="1.9" fill="#000"/>
<circle cx="104.6" cy="192.93" r="1.9" fill="#000"/>
<circle cx="116.4" cy="196.59" r="1.9" fill="#000"/>
<circle cx="128.2" cy="173.64" r="1.9" fill="#000"/>
<circle cx="140" cy="187.48" r="1.9" fill="#000"/>
<circle cx="151.8" cy="179.71" r="1.9" fill="#000"/>
<circle cx="163.6" cy="180.52" r="1.9" fill="#000"/>
<circle cx="175.4" cy="157.57" r="1.9" fill="#000"/>
<circle cx="187.2" cy="159.17" r="1.9" fill="#000"/>
<circle cx="199" cy="155.51" r="1.9" fill="#000"/>
<circle cx="210.8" cy="156.76" r="1.9" fill="#000"/>
<circle cx="222.6" cy="148.01" r="1.9" fill="#000"/>
<circle cx="234.4" cy="165.6" r="1.9" fill="#000"/>
<circle cx="246.2" cy="167.66" r="1.9" fill="#000"/>
<circle cx="258" cy="172.93" r="1.9" fill="#000"/>
<circle cx="269.8" cy="163.1" r="1.9" fill="#000"/>
<circle cx="281.6" cy="159.62" r="1.9" fill="#000"/>
<circle cx="293.4" cy="170.34" r="1.9" fill="#000"/>
<circle cx="305.2" cy="174.71" r="1.9" fill="#000"/>
<line x1="28.3" y1="137.6" x2="28.3" y2="228" stroke="#1a1a1a" stroke-width="1.2"/>
<line x1="27.7" y1="227.4" x2="311.3" y2="227.4" stroke="#1a1a1a" stroke-width="1.2"/>
<line x1="24.3" y1="227.4" x2="28.3" y2="227.4" stroke="#1a1a1a" stroke-width="1.1"/>
<text x="23.9" y="229.6" font-size="6.5" font-family="'Liberation Serif', serif" font-weight="bold" text-anchor="end" fill="#000" stroke="#000" stroke-width="0.14">0</text>
<line x1="24.3" y1="209.54" x2="28.3" y2="209.54" stroke="#1a1a1a" stroke-width="1.1"/>
<text x="23.9" y="211.74" font-size="6.5" font-family="'Liberation Serif', serif" font-weight="bold" text-anchor="end" fill="#000" stroke="#000" stroke-width="0.14">20</text>
<line x1="24.3" y1="191.68" x2="28.3" y2="191.68" stroke="#1a1a1a" stroke-width="1.1"/>
<text x="23.9" y="193.88" font-size="6.5" font-family="'Liberation Serif', serif" font-weight="bold" text-anchor="end" fill="#000" stroke="#000" stroke-width="0.14">40</text>
<line x1="24.3" y1="173.82" x2="28.3" y2="173.82" stroke="#1a1a1a" stroke-width="1.1"/>
<text x="23.9" y="176.02" font-size="6.5" font-family="'Liberation Serif', serif" font-weight="bold" text-anchor="end" fill="#000" stroke="#000" stroke-width="0.14">60</text>
<line x1="24.3" y1="155.96" x2="28.3" y2="155.96" stroke="#1a1a1a" stroke-width="1.1"/>
<text x="23.9" y="158.16" font-size="6.5" font-family="'Liberation Serif', serif" font-weight="bold" text-anchor="end" fill="#000" stroke="#000" stroke-width="0.14">80</text>
<line x1="24.3" y1="138.1" x2="28.3" y2="138.1" stroke="#1a1a1a" stroke-width="1.1"/>
<text x="23.9" y="140.3" font-size="6.5" font-family="'Liberation Serif', serif" font-weight="bold" text-anchor="end" fill="#000" stroke="#000" stroke-width="0.14">100</text>
<line x1="33.8" y1="227.4" x2="33.8" y2="230.8" stroke="#1a1a1a" stroke-width="1"/>
<text x="35.7" y="236.9" font-size="6.2" font-family="'Liberation Serif', serif" font-weight="bold" text-anchor="end" fill="#000" transform="rotate(-45 35.7 236.9)" stroke="#000" stroke-width="0.12">9:00</text>
<line x1="45.6" y1="227.4" x2="45.6" y2="230.8" stroke="#1a1a1a" stroke-width="1"/>
<text x="47.5" y="236.9" font-size="6.2" font-family="'Liberation Serif', serif" font-weight="bold" text-anchor="end" fill="#000" transform="rotate(-45 47.5 236.9)" stroke="#000" stroke-width="0.12">10:00</text>
<line x1="57.4" y1="227.4" x2="57.4" y2="230.8" stroke="#1a1a1a" stroke-width="1"/>
<text x="59.3" y="236.9" font-size="6.2" font-family="'Liberation Serif', serif" font-weight="bold" text-anchor="end" fill="#000" transform="rotate(-45 59.3 236.9)" stroke="#000" stroke-width="0.12">11:00</text>
<line x1="69.2" y1="227.4" x2="69.2" y2="230.8" stroke="#1a1a1a" stroke-width="1"/>
<text x="71.1" y="236.9" font-size="6.2" font-family="'Liberation Serif', serif" font-weight="bold" text-anchor="end" fill="#000" transform="rotate(-45 71.1 236.9)" stroke="#000" stroke-width="0.12">12:00</text>
<line x1="81" y1="227.4" x2="81" y2="230.8" stroke="#1a1a1a" stroke-width="1"/>
<text x="82.9" y="236.9" font-size="6.2" font-family="'Liberation Serif', serif" font-weight="bold" text-anchor="end" fill="#000" transform="rotate(-45 82.9 236.9)" stroke="#000" stroke-width="0.12">13:00</text>
<line x1="92.8" y1="227.4" x2="92.8" y2="230.8" stroke="#1a1a1a" stroke-width="1"/>
<text x="94.7" y="236.9" font-size="6.2" font-family="'Liberation Serif', serif" font-weight="bold" text-anchor="end" fill="#000" transform="rotate(-45 94.7 236.9)" stroke="#000" stroke-width="0.12">14:00</text>
<line x1="104.6" y1="227.4" x2="104.6" y2="230.8" stroke="#1a1a1a" stroke-width="1"/>
<text x="106.5" y="236.9" font-size="6.2" font-family="'Liberation Serif', serif" font-weight="bold" text-anchor="end" fill="#000" transform="rotate(-45 106.5 236.9)" stroke="#000" stroke-width="0.12">15:00</text>
<line x1="116.4" y1="227.4" x2="116.4" y2="230.8" stroke="#1a1a1a" stroke-width="1"/>
<text x="118.3" y="236.9" font-size="6.2" font-family="'Liberation Serif', serif" font-weight="bold" text-anchor="end" fill="#000" transform="rotate(-45 118.3 236.9)" stroke="#000" stroke-width="0.12">16:00</text>
<line x1="128.2" y1="227.4" x2="128.2" y2="230.8" stroke="#1a1a1a" stroke-width="1"/>
<text x="130.1" y="236.9" font-size="6.2" font-family="'Liberation Serif', serif" font-weight="bold" text-anchor="end" fill="#000" transform="rotate(-45 130.1 236.9)" stroke="#000" stroke-width="0.12">17:00</text>
<line x1="140" y1="227.4" x2="140" y2="230.8" stroke="#1a1a1a" stroke-width="1"/>
<text x="141.9" y="236.9" font-size="6.2" font-family="'Liberation Serif', serif" font-weight="bold" text-anchor="end" fill="#000" transform="rotate(-45 141.9 236.9)" stroke="#000" stroke-width="0.12">18:00</text>
<line x1="151.8" y1="227.4" x2="151.8" y2="230.8" stroke="#1a1a1a" stroke-width="1"/>
<text x="153.7" y="236.9" font-size="6.2" font-family="'Liberation Serif', serif" font-weight="bold" text-anchor="end" fill="#000" transform="rotate(-45 153.7 236.9)" stroke="#000" stroke-width="0.12">19:00</text>
<line x1="163.6" y1="227.4" x2="163.6" y2="230.8" stroke="#1a1a1a" stroke-width="1"/>
<text x="165.5" y="236.9" font-size="6.2" font-family="'Liberation Serif', serif" font-weight="bold" text-anchor="end" fill="#000" transform="rotate(-45 165.5 236.9)" stroke="#000" stroke-width="0.12">20:00</text>
<line x1="175.4" y1="227.4" x2="175.4" y2="230.8" stroke="#1a1a1a" stroke-width="1"/>
<text x="177.3" y="236.9" font-size="6.2" font-family="'Liberation Serif', serif" font-weight="bold" text-anchor="end" fill="#000" transform="rotate(-45 177.3 236.9)" stroke="#000" stroke-width="0.12">21:00</text>
<line x1="187.2" y1="227.4" x2="187.2" y2="230.8" stroke="#1a1a1a" stroke-width="1"/>
<text x="189.1" y="236.9" font-size="6.2" font-family="'Liberation Serif', serif" font-weight="bold" text-anchor="end" fill="#000" transform="rotate(-45 189.1 236.9)" stroke="#000" stroke-width="0.12">22:00</text>
<line x1="199" y1="227.4" x2="199" y2="230.8" stroke="#1a1a1a" stroke-width="1"/>
<text x="200.9" y="236.9" font-size="6.2" font-family="'Liberation Serif', serif" font-weight="bold" text-anchor="end" fill="#000" transform="rotate(-45 200.9 236.9)" stroke="#000" stroke-width="0.12">23:00</text>
<line x1="210.8" y1="227.4" x2="210.8" y2="230.8" stroke="#1a1a1a" stroke-width="1"/>
<text x="212.7" y="236.9" font-size="6.2" font-family="'Liberation Serif', serif" font-weight="bold" text-anchor="end" fill="#000" transform="rotate(-45 212.7 236.9)" stroke="#000" stroke-width="0.12">24:00</text>
<line x1="222.6" y1="227.4" x2="222.6" y2="230.8" stroke="#1a1a1a" stroke-width="1"/>
<text x="224.5" y="236.9" font-size="6.2" font-family="'Liberation Serif', serif" font-weight="bold" text-anchor="end" fill="#000" transform="rotate(-45 224.5 236.9)" stroke="#000" stroke-width="0.12">1:00</text>
<line x1="234.4" y1="227.4" x2="234.4" y2="230.8" stroke="#1a1a1a" stroke-width="1"/>
<text x="236.3" y="236.9" font-size="6.2" font-family="'Liberation Serif', serif" font-weight="bold" text-anchor="end" fill="#000" transform="rotate(-45 236.3 236.9)" stroke="#000" stroke-width="0.12">2:00</text>
<line x1="246.2" y1="227.4" x2="246.2" y2="230.8" stroke="#1a1a1a" stroke-width="1"/>
<text x="248.1" y="236.9" font-size="6.2" font-family="'Liberation Serif', serif" font-weight="bold" text-anchor="end" fill="#000" transform="rotate(-45 248.1 236.9)" stroke="#000" stroke-width="0.12">3:00</text>
<line x1="258" y1="227.4" x2="258" y2="230.8" stroke="#1a1a1a" stroke-width="1"/>
<text x="259.9" y="236.9" font-size="6.2" font-family="'Liberation Serif', serif" font-weight="bold" text-anchor="end" fill="#000" transform="rotate(-45 259.9 236.9)" stroke="#000" stroke-width="0.12">4:00</text>
<line x1="269.8" y1="227.4" x2="269.8" y2="230.8" stroke="#1a1a1a" stroke-width="1"/>
<text x="271.7" y="236.9" font-size="6.2" font-family="'Liberation Serif', serif" font-weight="bold" text-anchor="end" fill="#000" transform="rotate(-45 271.7 236.9)" stroke="#000" stroke-width="0.12">5:00</text>
<line x1="281.6" y1="227.4" x2="281.6" y2="230.8" stroke="#1a1a1a" stroke-width="1"/>
<text x="283.5" y="236.9" font-size="6.2" font-family="'Liberation Serif', serif" font-weight="bold" text-anchor="end" fill="#000" transform="rotate(-45 283.5 236.9)" stroke="#000" stroke-width="0.12">6:00</text>
<line x1="293.4" y1="227.4" x2="293.4" y2="230.8" stroke="#1a1a1a" stroke-width="1"/>
<text x="295.3" y="236.9" font-size="6.2" font-family="'Liberation Serif', serif" font-weight="bold" text-anchor="end" fill="#000" transform="rotate(-45 295.3 236.9)" stroke="#000" stroke-width="0.12">7:00</text>
<line x1="305.2" y1="227.4" x2="305.2" y2="230.8" stroke="#1a1a1a" stroke-width="1"/>
<text x="307.1" y="236.9" font-size="6.2" font-family="'Liberation Serif', serif" font-weight="bold" text-anchor="end" fill="#000" transform="rotate(-45 307.1 236.9)" stroke="#000" stroke-width="0.12">8:00</text>
<text x="45.6" y="151.5" font-size="5" font-family="'Liberation Serif', serif" font-weight="bold" text-anchor="middle" fill="#000" stroke="#000" stroke-width="0.12">*</text>
<text x="81" y="167.5" font-size="5" font-family="'Liberation Serif', serif" font-weight="bold" text-anchor="middle" fill="#000" stroke="#000" stroke-width="0.12">*</text>
<text x="116.4" y="165.5" font-size="5" font-family="'Liberation Serif', serif" font-weight="bold" text-anchor="middle" fill="#000" stroke="#000" stroke-width="0.12">**</text>
<text x="234.4" y="139.3" font-size="5" font-family="'Liberation Serif', serif" font-weight="bold" text-anchor="middle" fill="#000" stroke="#000" stroke-width="0.12">*</text>
<text x="258" y="139.5" font-size="5" font-family="'Liberation Serif', serif" font-weight="bold" text-anchor="middle" fill="#000" stroke="#000" stroke-width="0.12">*</text>
<text x="293.4" y="142" font-size="5" font-family="'Liberation Serif', serif" font-weight="bold" text-anchor="middle" fill="#000" stroke="#000" stroke-width="0.12">*</text>
<text x="158.8" y="131" font-size="7" font-family="'Liberation Serif', serif" font-weight="bold" text-anchor="middle" fill="#000" stroke="#000" stroke-width="0.29">Wake</text>
<text x="9.7" y="182" font-size="6.9" font-family="'Liberation Serif', serif" font-weight="bold" text-anchor="middle" fill="#000" transform="rotate(-90 9.7 182)" textLength="85.8" lengthAdjust="spacingAndGlyphs" stroke="#000" stroke-width="0.29">Wake spend in each stage, %</text>
<line x1="305.4" y1="143.7" x2="313.9" y2="143.7" stroke="#3333a6" stroke-width="1.2"/>
<circle cx="309.7" cy="143.7" r="1.8" fill="#000"/>
<text x="318.8" y="145.5" font-size="5.3" font-family="'Liberation Serif', serif" font-weight="bold" text-anchor="start" fill="#000" stroke="#000" stroke-width="0.13">10m-WT</text>
<line x1="305.4" y1="152.5" x2="313.9" y2="152.5" stroke="#c83434" stroke-width="1.2"/>
<rect x="308.1" y="150.6" width="3.8" height="3.8" fill="#000"/>
<text x="318.8" y="154.3" font-size="5.3" font-family="'Liberation Serif', serif" font-weight="bold" text-anchor="start" fill="#000" stroke="#000" stroke-width="0.13">10m-AD</text>
<rect x="161.09" y="267.6" width="141.48" height="89.9" fill="#e2e2e2"/>
<line x1="31.4" y1="330.74" x2="31.4" y2="322.38" stroke="#555" stroke-width="0.8"/>
<line x1="29.9" y1="322.38" x2="32.9" y2="322.38" stroke="#555" stroke-width="0.8"/>
<line x1="43.19" y1="316.8" x2="43.19" y2="307.88" stroke="#555" stroke-width="0.8"/>
<line x1="41.69" y1="307.88" x2="44.69" y2="307.88" stroke="#555" stroke-width="0.8"/>
<line x1="54.98" y1="313.01" x2="54.98" y2="306.32" stroke="#555" stroke-width="0.8"/>
<line x1="53.48" y1="306.32" x2="56.48" y2="306.32" stroke="#555" stroke-width="0.8"/>
<line x1="66.77" y1="312.45" x2="66.77" y2="304.65" stroke="#555" stroke-width="0.8"/>
<line x1="65.27" y1="304.65" x2="68.27" y2="304.65" stroke="#555" stroke-width="0.8"/>
<line x1="78.56" y1="284.02" x2="78.56" y2="276.22" stroke="#555" stroke-width="0.8"/>
<line x1="77.06" y1="276.22" x2="80.06" y2="276.22" stroke="#555" stroke-width="0.8"/>
<line x1="90.35" y1="297.29" x2="90.35" y2="292.83" stroke="#555" stroke-width="0.8"/>
<line x1="88.85" y1="292.83" x2="91.85" y2="292.83" stroke="#555" stroke-width="0.8"/>
<line x1="102.14" y1="297.29" x2="102.14" y2="288.37" stroke="#555" stroke-width="0.8"/>
<line x1="100.64" y1="288.37" x2="103.64" y2="288.37" stroke="#555" stroke-width="0.8"/>
<line x1="113.93" y1="291.49" x2="113.93" y2="287.03" stroke="#555" stroke-width="0.8"/>
<line x1="112.43" y1="287.03" x2="115.43" y2="287.03" stroke="#555" stroke-width="0.8"/>
<line x1="125.72" y1="317.58" x2="125.72" y2="312.01" stroke="#555" stroke-width="0.8"/>
<line x1="124.22" y1="312.01" x2="127.22" y2="312.01" stroke="#555" stroke-width="0.8"/>
<line x1="137.51" y1="303.98" x2="137.51" y2="298.4" stroke="#555" stroke-width="0.8"/>
<line x1="136.01" y1="298.4" x2="139.01" y2="298.4" stroke="#555" stroke-width="0.8"/>
<line x1="149.3" y1="311.45" x2="149.3" y2="303.65" stroke="#555" stroke-width="0.8"/>
<line x1="147.8" y1="303.65" x2="150.8" y2="303.65" stroke="#555" stroke-width="0.8"/>
<line x1="161.09" y1="309.44" x2="161.09" y2="301.64" stroke="#555" stroke-width="0.8"/>
<line x1="159.59" y1="301.64" x2="162.59" y2="301.64" stroke="#555" stroke-width="0.8"/>
<line x1="172.88" y1="335.31" x2="172.88" y2="333.08" stroke="#555" stroke-width="0.8"/>
<line x1="171.38" y1="333.08" x2="174.38" y2="333.08" stroke="#555" stroke-width="0.8"/>
<line x1="184.67" y1="334.08" x2="184.67" y2="326.28" stroke="#555" stroke-width="0.8"/>
<line x1="183.17" y1="326.28" x2="186.17" y2="326.28" stroke="#555" stroke-width="0.8"/>
<line x1="196.46" y1="337.32" x2="196.46" y2="330.63" stroke="#555" stroke-width="0.8"/>
<line x1="194.96" y1="330.63" x2="197.96" y2="330.63" stroke="#555" stroke-width="0.8"/>
<line x1="208.25" y1="336.43" x2="208.25" y2="328.62" stroke="#555" stroke-width="0.8"/>
<line x1="206.75" y1="328.62" x2="209.75" y2="328.62" stroke="#555" stroke-width="0.8"/>
<line x1="220.04" y1="345.35" x2="220.04" y2="342" stroke="#555" stroke-width="0.8"/>
<line x1="218.54" y1="342" x2="221.54" y2="342" stroke="#555" stroke-width="0.8"/>
<line x1="231.83" y1="326.28" x2="231.83" y2="316.25" stroke="#555" stroke-width="0.8"/>
<line x1="230.33" y1="316.25" x2="233.33" y2="316.25" stroke="#555" stroke-width="0.8"/>
<line x1="243.62" y1="325.05" x2="243.62" y2="315.02" stroke="#555" stroke-width="0.8"/>
<line x1="242.12" y1="315.02" x2="245.12" y2="315.02" stroke="#555" stroke-width="0.8"/>
<line x1="255.41" y1="319.26" x2="255.41" y2="306.99" stroke="#555" stroke-width="0.8"/>
<line x1="253.91" y1="306.99" x2="256.91" y2="306.99" stroke="#555" stroke-width="0.8"/>
<line x1="267.2" y1="329.96" x2="267.2" y2="321.04" stroke="#555" stroke-width="0.8"/>
<line x1="265.7" y1="321.04" x2="268.7" y2="321.04" stroke="#555" stroke-width="0.8"/>
<line x1="278.99" y1="330.96" x2="278.99" y2="317.58" stroke="#555" stroke-width="0.8"/>
<line x1="277.49" y1="317.58" x2="280.49" y2="317.58" stroke="#555" stroke-width="0.8"/>
<line x1="290.78" y1="320.26" x2="290.78" y2="313.57" stroke="#555" stroke-width="0.8"/>
<line x1="289.28" y1="313.57" x2="292.28" y2="313.57" stroke="#555" stroke-width="0.8"/>
<line x1="302.57" y1="314.24" x2="302.57" y2="303.09" stroke="#555" stroke-width="0.8"/>
<line x1="301.07" y1="303.09" x2="304.07" y2="303.09" stroke="#555" stroke-width="0.8"/>
<line x1="31.4" y1="318.7" x2="31.4" y2="309.78" stroke="#555" stroke-width="0.8"/>
<line x1="29.9" y1="309.78" x2="32.9" y2="309.78" stroke="#555" stroke-width="0.8"/>
<line x1="43.19" y1="335.2" x2="43.19" y2="331.86" stroke="#555" stroke-width="0.8"/>
<line x1="41.69" y1="331.86" x2="44.69" y2="331.86" stroke="#555" stroke-width="0.8"/>
<line x1="54.98" y1="314.91" x2="54.98" y2="309.33" stroke="#555" stroke-width="0.8"/>
<line x1="53.48" y1="309.33" x2="56.48" y2="309.33" stroke="#555" stroke-width="0.8"/>
<line x1="66.77" y1="323.16" x2="66.77" y2="316.47" stroke="#555" stroke-width="0.8"/>
<line x1="65.27" y1="316.47" x2="68.27" y2="316.47" stroke="#555" stroke-width="0.8"/>
<line x1="78.56" y1="312.9" x2="78.56" y2="306.21" stroke="#555" stroke-width="0.8"/>
<line x1="77.06" y1="306.21" x2="80.06" y2="306.21" stroke="#555" stroke-width="0.8"/>
<line x1="90.35" y1="315.35" x2="90.35" y2="306.43" stroke="#555" stroke-width="0.8"/>
<line x1="88.85" y1="306.43" x2="91.85" y2="306.43" stroke="#555" stroke-width="0.8"/>
<line x1="102.14" y1="311.9" x2="102.14" y2="307.44" stroke="#555" stroke-width="0.8"/>
<line x1="100.64" y1="307.44" x2="103.64" y2="307.44" stroke="#555" stroke-width="0.8"/>
<line x1="113.93" y1="317.14" x2="113.93" y2="310.45" stroke="#555" stroke-width="0.8"/>
<line x1="112.43" y1="310.45" x2="115.43" y2="310.45" stroke="#555" stroke-width="0.8"/>
<line x1="125.72" y1="308.89" x2="125.72" y2="301.08" stroke="#555" stroke-width="0.8"/>
<line x1="124.22" y1="301.08" x2="127.22" y2="301.08" stroke="#555" stroke-width="0.8"/>
<line x1="137.51" y1="302.87" x2="137.51" y2="295.06" stroke="#555" stroke-width="0.8"/>
<line x1="136.01" y1="295.06" x2="139.01" y2="295.06" stroke="#555" stroke-width="0.8"/>
<line x1="149.3" y1="325.95" x2="149.3" y2="314.8" stroke="#555" stroke-width="0.8"/>
<line x1="147.8" y1="314.8" x2="150.8" y2="314.8" stroke="#555" stroke-width="0.8"/>
<line x1="161.09" y1="321.15" x2="161.09" y2="315.58" stroke="#555" stroke-width="0.8"/>
<line x1="159.59" y1="315.58" x2="162.59" y2="315.58" stroke="#555" stroke-width="0.8"/>
<line x1="172.88" y1="337.1" x2="172.88" y2="333.75" stroke="#555" stroke-width="0.8"/>
<line x1="171.38" y1="333.75" x2="174.38" y2="333.75" stroke="#555" stroke-width="0.8"/>
<line x1="184.67" y1="351.03" x2="184.67" y2="346.57" stroke="#555" stroke-width="0.8"/>
<line x1="183.17" y1="346.57" x2="186.17" y2="346.57" stroke="#555" stroke-width="0.8"/>
<line x1="196.46" y1="344.9" x2="196.46" y2="338.21" stroke="#555" stroke-width="0.8"/>
<line x1="194.96" y1="338.21" x2="197.96" y2="338.21" stroke="#555" stroke-width="0.8"/>
<line x1="208.25" y1="344.57" x2="208.25" y2="337.88" stroke="#555" stroke-width="0.8"/>
<line x1="206.75" y1="337.88" x2="209.75" y2="337.88" stroke="#555" stroke-width="0.8"/>
<line x1="220.04" y1="348.91" x2="220.04" y2="346.68" stroke="#555" stroke-width="0.8"/>
<line x1="218.54" y1="346.68" x2="221.54" y2="346.68" stroke="#555" stroke-width="0.8"/>
<line x1="231.83" y1="349.36" x2="231.83" y2="347.13" stroke="#555" stroke-width="0.8"/>
<line x1="230.33" y1="347.13" x2="233.33" y2="347.13" stroke="#555" stroke-width="0.8"/>
<line x1="243.62" y1="334.08" x2="243.62" y2="328.51" stroke="#555" stroke-width="0.8"/>
<line x1="242.12" y1="328.51" x2="245.12" y2="328.51" stroke="#555" stroke-width="0.8"/>
<line x1="255.41" y1="349.36" x2="255.41" y2="343.79" stroke="#555" stroke-width="0.8"/>
<line x1="253.91" y1="343.79" x2="256.91" y2="343.79" stroke="#555" stroke-width="0.8"/>
<line x1="267.2" y1="337.65" x2="267.2" y2="332.08" stroke="#555" stroke-width="0.8"/>
<line x1="265.7" y1="332.08" x2="268.7" y2="332.08" stroke="#555" stroke-width="0.8"/>
<line x1="278.99" y1="336.43" x2="278.99" y2="330.85" stroke="#555" stroke-width="0.8"/>
<line x1="277.49" y1="330.85" x2="280.49" y2="330.85" stroke="#555" stroke-width="0.8"/>
<line x1="290.78" y1="344.34" x2="290.78" y2="336.54" stroke="#555" stroke-width="0.8"/>
<line x1="289.28" y1="336.54" x2="292.28" y2="336.54" stroke="#555" stroke-width="0.8"/>
<line x1="302.57" y1="333.42" x2="302.57" y2="326.73" stroke="#555" stroke-width="0.8"/>
<line x1="301.07" y1="326.73" x2="304.07" y2="326.73" stroke="#555" stroke-width="0.8"/>
<polyline points="31.4,330.74 43.19,316.8 54.98,313.01 66.77,312.45 78.56,284.02 90.35,297.29 102.14,297.29 113.93,291.49 125.72,317.58 137.51,303.98 149.3,311.45 161.09,309.44 172.88,335.31 184.67,334.08 196.46,337.32 208.25,336.43 220.04,345.35 231.83,326.28 243.62,325.05 255.41,319.26 267.2,329.96 278.99,330.96 290.78,320.26 302.57,314.24" fill="none" stroke="#3333a6" stroke-width="1.25" stroke-linejoin="round"/>
<polyline points="31.4,318.7 43.19,335.2 54.98,314.91 66.77,323.16 78.56,312.9 90.35,315.35 102.14,311.9 113.93,317.14 125.72,308.89 137.51,302.87 149.3,325.95 161.09,321.15 172.88,337.1 184.67,351.03 196.46,344.9 208.25,344.57 220.04,348.91 231.83,349.36 243.62,334.08 255.41,349.36 267.2,337.65 278.99,336.43 290.78,344.34 302.57,333.42" fill="none" stroke="#c83434" stroke-width="1.25" stroke-linejoin="round"/>
<rect x="29.3" y="316.6" width="4.2" height="4.2" fill="#000"/>
<rect x="41.09" y="333.1" width="4.2" height="4.2" fill="#000"/>
<rect x="52.88" y="312.81" width="4.2" height="4.2" fill="#000"/>
<rect x="64.67" y="321.06" width="4.2" height="4.2" fill="#000"/>
<rect x="76.46" y="310.8" width="4.2" height="4.2" fill="#000"/>
<rect x="88.25" y="313.25" width="4.2" height="4.2" fill="#000"/>
<rect x="100.04" y="309.8" width="4.2" height="4.2" fill="#000"/>
<rect x="111.83" y="315.04" width="4.2" height="4.2" fill="#000"/>
<rect x="123.62" y="306.79" width="4.2" height="4.2" fill="#000"/>
<rect x="135.41" y="300.76" width="4.2" height="4.2" fill="#000"/>
<rect x="147.2" y="323.85" width="4.2" height="4.2" fill="#000"/>
<rect x="158.99" y="319.05" width="4.2" height="4.2" fill="#000"/>
<rect x="170.78" y="335" width="4.2" height="4.2" fill="#000"/>
<rect x="182.57" y="348.93" width="4.2" height="4.2" fill="#000"/>
<rect x="194.36" y="342.8" width="4.2" height="4.2" fill="#000"/>
<rect x="206.15" y="342.47" width="4.2" height="4.2" fill="#000"/>
<rect x="217.94" y="346.81" width="4.2" height="4.2" fill="#000"/>
<rect x="229.73" y="347.26" width="4.2" height="4.2" fill="#000"/>
<rect x="241.52" y="331.98" width="4.2" height="4.2" fill="#000"/>
<rect x="253.31" y="347.26" width="4.2" height="4.2" fill="#000"/>
<rect x="265.1" y="335.55" width="4.2" height="4.2" fill="#000"/>
<rect x="276.89" y="334.33" width="4.2" height="4.2" fill="#000"/>
<rect x="288.68" y="342.24" width="4.2" height="4.2" fill="#000"/>
<rect x="300.47" y="331.32" width="4.2" height="4.2" fill="#000"/>
<circle cx="31.4" cy="330.74" r="1.9" fill="#000"/>
<circle cx="43.19" cy="316.8" r="1.9" fill="#000"/>
<circle cx="54.98" cy="313.01" r="1.9" fill="#000"/>
<circle cx="66.77" cy="312.45" r="1.9" fill="#000"/>
<circle cx="78.56" cy="284.02" r="1.9" fill="#000"/>
<circle cx="90.35" cy="297.29" r="1.9" fill="#000"/>
<circle cx="102.14" cy="297.29" r="1.9" fill="#000"/>
<circle cx="113.93" cy="291.49" r="1.9" fill="#000"/>
<circle cx="125.72" cy="317.58" r="1.9" fill="#000"/>
<circle cx="137.51" cy="303.98" r="1.9" fill="#000"/>
<circle cx="149.3" cy="311.45" r="1.9" fill="#000"/>
<circle cx="161.09" cy="309.44" r="1.9" fill="#000"/>
<circle cx="172.88" cy="335.31" r="1.9" fill="#000"/>
<circle cx="184.67" cy="334.08" r="1.9" fill="#000"/>
<circle cx="196.46" cy="337.32" r="1.9" fill="#000"/>
<circle cx="208.25" cy="336.43" r="1.9" fill="#000"/>
<circle cx="220.04" cy="345.35" r="1.9" fill="#000"/>
<circle cx="231.83" cy="326.28" r="1.9" fill="#000"/>
<circle cx="243.62" cy="325.05" r="1.9" fill="#000"/>
<circle cx="255.41" cy="319.26" r="1.9" fill="#000"/>
<circle cx="267.2" cy="329.96" r="1.9" fill="#000"/>
<circle cx="278.99" cy="330.96" r="1.9" fill="#000"/>
<circle cx="290.78" cy="320.26" r="1.9" fill="#000"/>
<circle cx="302.57" cy="314.24" r="1.9" fill="#000"/>
<line x1="25.7" y1="267.8" x2="25.7" y2="358.1" stroke="#1a1a1a" stroke-width="1.2"/>
<line x1="25.1" y1="357.5" x2="308.7" y2="357.5" stroke="#1a1a1a" stroke-width="1.2"/>
<line x1="21.7" y1="357.5" x2="25.7" y2="357.5" stroke="#1a1a1a" stroke-width="1.1"/>
<text x="21.3" y="359.7" font-size="6.5" font-family="'Liberation Serif', serif" font-weight="bold" text-anchor="end" fill="#000" stroke="#000" stroke-width="0.14">0</text>
<line x1="21.7" y1="335.2" x2="25.7" y2="335.2" stroke="#1a1a1a" stroke-width="1.1"/>
<text x="21.3" y="337.4" font-size="6.5" font-family="'Liberation Serif', serif" font-weight="bold" text-anchor="end" fill="#000" stroke="#000" stroke-width="0.14">20</text>
<line x1="21.7" y1="312.9" x2="25.7" y2="312.9" stroke="#1a1a1a" stroke-width="1.1"/>
<text x="21.3" y="315.1" font-size="6.5" font-family="'Liberation Serif', serif" font-weight="bold" text-anchor="end" fill="#000" stroke="#000" stroke-width="0.14">40</text>
<line x1="21.7" y1="290.6" x2="25.7" y2="290.6" stroke="#1a1a1a" stroke-width="1.1"/>
<text x="21.3" y="292.8" font-size="6.5" font-family="'Liberation Serif', serif" font-weight="bold" text-anchor="end" fill="#000" stroke="#000" stroke-width="0.14">60</text>
<line x1="21.7" y1="268.3" x2="25.7" y2="268.3" stroke="#1a1a1a" stroke-width="1.1"/>
<text x="21.3" y="270.5" font-size="6.5" font-family="'Liberation Serif', serif" font-weight="bold" text-anchor="end" fill="#000" stroke="#000" stroke-width="0.14">80</text>
<line x1="31.4" y1="357.5" x2="31.4" y2="360.9" stroke="#1a1a1a" stroke-width="1"/>
<text x="33.3" y="367" font-size="6.2" font-family="'Liberation Serif', serif" font-weight="bold" text-anchor="end" fill="#000" transform="rotate(-45 33.3 367)" stroke="#000" stroke-width="0.12">9:00</text>
<line x1="43.19" y1="357.5" x2="43.19" y2="360.9" stroke="#1a1a1a" stroke-width="1"/>
<text x="45.09" y="367" font-size="6.2" font-family="'Liberation Serif', serif" font-weight="bold" text-anchor="end" fill="#000" transform="rotate(-45 45.09 367)" stroke="#000" stroke-width="0.12">10:00</text>
<line x1="54.98" y1="357.5" x2="54.98" y2="360.9" stroke="#1a1a1a" stroke-width="1"/>
<text x="56.88" y="367" font-size="6.2" font-family="'Liberation Serif', serif" font-weight="bold" text-anchor="end" fill="#000" transform="rotate(-45 56.88 367)" stroke="#000" stroke-width="0.12">11:00</text>
<line x1="66.77" y1="357.5" x2="66.77" y2="360.9" stroke="#1a1a1a" stroke-width="1"/>
<text x="68.67" y="367" font-size="6.2" font-family="'Liberation Serif', serif" font-weight="bold" text-anchor="end" fill="#000" transform="rotate(-45 68.67 367)" stroke="#000" stroke-width="0.12">12:00</text>
<line x1="78.56" y1="357.5" x2="78.56" y2="360.9" stroke="#1a1a1a" stroke-width="1"/>
<text x="80.46" y="367" font-size="6.2" font-family="'Liberation Serif', serif" font-weight="bold" text-anchor="end" fill="#000" transform="rotate(-45 80.46 367)" stroke="#000" stroke-width="0.12">13:00</text>
<line x1="90.35" y1="357.5" x2="90.35" y2="360.9" stroke="#1a1a1a" stroke-width="1"/>
<text x="92.25" y="367" font-size="6.2" font-family="'Liberation Serif', serif" font-weight="bold" text-anchor="end" fill="#000" transform="rotate(-45 92.25 367)" stroke="#000" stroke-width="0.12">14:00</text>
<line x1="102.14" y1="357.5" x2="102.14" y2="360.9" stroke="#1a1a1a" stroke-width="1"/>
<text x="104.04" y="367" font-size="6.2" font-family="'Liberation Serif', serif" font-weight="bold" text-anchor="end" fill="#000" transform="rotate(-45 104.04 367)" stroke="#000" stroke-width="0.12">15:00</text>
<line x1="113.93" y1="357.5" x2="113.93" y2="360.9" stroke="#1a1a1a" stroke-width="1"/>
<text x="115.83" y="367" font-size="6.2" font-family="'Liberation Serif', serif" font-weight="bold" text-anchor="end" fill="#000" transform="rotate(-45 115.83 367)" stroke="#000" stroke-width="0.12">16:00</text>
<line x1="125.72" y1="357.5" x2="125.72" y2="360.9" stroke="#1a1a1a" stroke-width="1"/>
<text x="127.62" y="367" font-size="6.2" font-family="'Liberation Serif', serif" font-weight="bold" text-anchor="end" fill="#000" transform="rotate(-45 127.62 367)" stroke="#000" stroke-width="0.12">17:00</text>
<line x1="137.51" y1="357.5" x2="137.51" y2="360.9" stroke="#1a1a1a" stroke-width="1"/>
<text x="139.41" y="367" font-size="6.2" font-family="'Liberation Serif', serif" font-weight="bold" text-anchor="end" fill="#000" transform="rotate(-45 139.41 367)" stroke="#000" stroke-width="0.12">18:00</text>
<line x1="149.3" y1="357.5" x2="149.3" y2="360.9" stroke="#1a1a1a" stroke-width="1"/>
<text x="151.2" y="367" font-size="6.2" font-family="'Liberation Serif', serif" font-weight="bold" text-anchor="end" fill="#000" transform="rotate(-45 151.2 367)" stroke="#000" stroke-width="0.12">19:00</text>
<line x1="161.09" y1="357.5" x2="161.09" y2="360.9" stroke="#1a1a1a" stroke-width="1"/>
<text x="162.99" y="367" font-size="6.2" font-family="'Liberation Serif', serif" font-weight="bold" text-anchor="end" fill="#000" transform="rotate(-45 162.99 367)" stroke="#000" stroke-width="0.12">20:00</text>
<line x1="172.88" y1="357.5" x2="172.88" y2="360.9" stroke="#1a1a1a" stroke-width="1"/>
<text x="174.78" y="367" font-size="6.2" font-family="'Liberation Serif', serif" font-weight="bold" text-anchor="end" fill="#000" transform="rotate(-45 174.78 367)" stroke="#000" stroke-width="0.12">21:00</text>
<line x1="184.67" y1="357.5" x2="184.67" y2="360.9" stroke="#1a1a1a" stroke-width="1"/>
<text x="186.57" y="367" font-size="6.2" font-family="'Liberation Serif', serif" font-weight="bold" text-anchor="end" fill="#000" transform="rotate(-45 186.57 367)" stroke="#000" stroke-width="0.12">22:00</text>
<line x1="196.46" y1="357.5" x2="196.46" y2="360.9" stroke="#1a1a1a" stroke-width="1"/>
<text x="198.36" y="367" font-size="6.2" font-family="'Liberation Serif', serif" font-weight="bold" text-anchor="end" fill="#000" transform="rotate(-45 198.36 367)" stroke="#000" stroke-width="0.12">23:00</text>
<line x1="208.25" y1="357.5" x2="208.25" y2="360.9" stroke="#1a1a1a" stroke-width="1"/>
<text x="210.15" y="367" font-size="6.2" font-family="'Liberation Serif', serif" font-weight="bold" text-anchor="end" fill="#000" transform="rotate(-45 210.15 367)" stroke="#000" stroke-width="0.12">24:00</text>
<line x1="220.04" y1="357.5" x2="220.04" y2="360.9" stroke="#1a1a1a" stroke-width="1"/>
<text x="221.94" y="367" font-size="6.2" font-family="'Liberation Serif', serif" font-weight="bold" text-anchor="end" fill="#000" transform="rotate(-45 221.94 367)" stroke="#000" stroke-width="0.12">1:00</text>
<line x1="231.83" y1="357.5" x2="231.83" y2="360.9" stroke="#1a1a1a" stroke-width="1"/>
<text x="233.73" y="367" font-size="6.2" font-family="'Liberation Serif', serif" font-weight="bold" text-anchor="end" fill="#000" transform="rotate(-45 233.73 367)" stroke="#000" stroke-width="0.12">2:00</text>
<line x1="243.62" y1="357.5" x2="243.62" y2="360.9" stroke="#1a1a1a" stroke-width="1"/>
<text x="245.52" y="367" font-size="6.2" font-family="'Liberation Serif', serif" font-weight="bold" text-anchor="end" fill="#000" transform="rotate(-45 245.52 367)" stroke="#000" stroke-width="0.12">3:00</text>
<line x1="255.41" y1="357.5" x2="255.41" y2="360.9" stroke="#1a1a1a" stroke-width="1"/>
<text x="257.31" y="367" font-size="6.2" font-family="'Liberation Serif', serif" font-weight="bold" text-anchor="end" fill="#000" transform="rotate(-45 257.31 367)" stroke="#000" stroke-width="0.12">4:00</text>
<line x1="267.2" y1="357.5" x2="267.2" y2="360.9" stroke="#1a1a1a" stroke-width="1"/>
<text x="269.1" y="367" font-size="6.2" font-family="'Liberation Serif', serif" font-weight="bold" text-anchor="end" fill="#000" transform="rotate(-45 269.1 367)" stroke="#000" stroke-width="0.12">5:00</text>
<line x1="278.99" y1="357.5" x2="278.99" y2="360.9" stroke="#1a1a1a" stroke-width="1"/>
<text x="280.89" y="367" font-size="6.2" font-family="'Liberation Serif', serif" font-weight="bold" text-anchor="end" fill="#000" transform="rotate(-45 280.89 367)" stroke="#000" stroke-width="0.12">6:00</text>
<line x1="290.78" y1="357.5" x2="290.78" y2="360.9" stroke="#1a1a1a" stroke-width="1"/>
<text x="292.68" y="367" font-size="6.2" font-family="'Liberation Serif', serif" font-weight="bold" text-anchor="end" fill="#000" transform="rotate(-45 292.68 367)" stroke="#000" stroke-width="0.12">7:00</text>
<line x1="302.57" y1="357.5" x2="302.57" y2="360.9" stroke="#1a1a1a" stroke-width="1"/>
<text x="304.47" y="367" font-size="6.2" font-family="'Liberation Serif', serif" font-weight="bold" text-anchor="end" fill="#000" transform="rotate(-45 304.47 367)" stroke="#000" stroke-width="0.12">8:00</text>
<text x="78.56" y="275" font-size="5" font-family="'Liberation Serif', serif" font-weight="bold" text-anchor="middle" fill="#000" stroke="#000" stroke-width="0.12">*</text>
<text x="113.93" y="283.6" font-size="5" font-family="'Liberation Serif', serif" font-weight="bold" text-anchor="middle" fill="#000" stroke="#000" stroke-width="0.12">**</text>
<text x="255.41" y="295" font-size="5" font-family="'Liberation Serif', serif" font-weight="bold" text-anchor="middle" fill="#000" stroke="#000" stroke-width="0.12">*</text>
<text x="290.78" y="297" font-size="5" font-family="'Liberation Serif', serif" font-weight="bold" text-anchor="middle" fill="#000" stroke="#000" stroke-width="0.12">*</text>
<text x="157.7" y="259.6" font-size="7" font-family="'Liberation Serif', serif" font-weight="bold" text-anchor="middle" fill="#000" stroke="#000" stroke-width="0.29">NREM</text>
<text x="9.2" y="315.2" font-size="6.9" font-family="'Liberation Serif', serif" font-weight="bold" text-anchor="middle" fill="#000" transform="rotate(-90 9.2 315.2)" textLength="83.6" lengthAdjust="spacingAndGlyphs" stroke="#000" stroke-width="0.29">NREM spend in each stage, %</text>
<line x1="305.4" y1="271.3" x2="313.9" y2="271.3" stroke="#3333a6" stroke-width="1.2"/>
<circle cx="309.7" cy="271.3" r="1.8" fill="#000"/>
<text x="318.8" y="273.1" font-size="5.3" font-family="'Liberation Serif', serif" font-weight="bold" text-anchor="start" fill="#000" stroke="#000" stroke-width="0.13">10m-WT</text>
<line x1="305.4" y1="280.6" x2="313.9" y2="280.6" stroke="#c83434" stroke-width="1.2"/>
<rect x="308.1" y="278.7" width="3.8" height="3.8" fill="#000"/>
<text x="318.8" y="282.4" font-size="5.3" font-family="'Liberation Serif', serif" font-weight="bold" text-anchor="start" fill="#000" stroke="#000" stroke-width="0.13">10m-AD</text>
<rect x="161.09" y="394.2" width="141.48" height="90" fill="#e2e2e2"/>
<line x1="31.4" y1="466.08" x2="31.4" y2="460.12" stroke="#555" stroke-width="0.8"/>
<line x1="29.9" y1="460.12" x2="32.9" y2="460.12" stroke="#555" stroke-width="0.8"/>
<line x1="43.19" y1="473.29" x2="43.19" y2="469.12" stroke="#555" stroke-width="0.8"/>
<line x1="41.69" y1="469.12" x2="44.69" y2="469.12" stroke="#555" stroke-width="0.8"/>
<line x1="54.98" y1="453.8" x2="54.98" y2="443.67" stroke="#555" stroke-width="0.8"/>
<line x1="53.48" y1="443.67" x2="56.48" y2="443.67" stroke="#555" stroke-width="0.8"/>
<line x1="66.77" y1="455" x2="66.77" y2="447.25" stroke="#555" stroke-width="0.8"/>
<line x1="65.27" y1="447.25" x2="68.27" y2="447.25" stroke="#555" stroke-width="0.8"/>
<line x1="78.56" y1="433.78" x2="78.56" y2="426.63" stroke="#555" stroke-width="0.8"/>
<line x1="77.06" y1="426.63" x2="80.06" y2="426.63" stroke="#555" stroke-width="0.8"/>
<line x1="90.35" y1="449.63" x2="90.35" y2="441.88" stroke="#555" stroke-width="0.8"/>
<line x1="88.85" y1="441.88" x2="91.85" y2="441.88" stroke="#555" stroke-width="0.8"/>
<line x1="102.14" y1="442.18" x2="102.14" y2="431.45" stroke="#555" stroke-width="0.8"/>
<line x1="100.64" y1="431.45" x2="103.64" y2="431.45" stroke="#555" stroke-width="0.8"/>
<line x1="113.93" y1="448.2" x2="113.93" y2="440.45" stroke="#555" stroke-width="0.8"/>
<line x1="112.43" y1="440.45" x2="115.43" y2="440.45" stroke="#555" stroke-width="0.8"/>
<line x1="125.72" y1="463.34" x2="125.72" y2="455" stroke="#555" stroke-width="0.8"/>
<line x1="124.22" y1="455" x2="127.22" y2="455" stroke="#555" stroke-width="0.8"/>
<line x1="137.51" y1="453.03" x2="137.51" y2="444.09" stroke="#555" stroke-width="0.8"/>
<line x1="136.01" y1="444.09" x2="139.01" y2="444.09" stroke="#555" stroke-width="0.8"/>
<line x1="149.3" y1="454.4" x2="149.3" y2="444.86" stroke="#555" stroke-width="0.8"/>
<line x1="147.8" y1="444.86" x2="150.8" y2="444.86" stroke="#555" stroke-width="0.8"/>
<line x1="161.09" y1="458.51" x2="161.09" y2="451.36" stroke="#555" stroke-width="0.8"/>
<line x1="159.59" y1="451.36" x2="162.59" y2="451.36" stroke="#555" stroke-width="0.8"/>
<line x1="172.88" y1="472.28" x2="172.88" y2="469.3" stroke="#555" stroke-width="0.8"/>
<line x1="171.38" y1="469.3" x2="174.38" y2="469.3" stroke="#555" stroke-width="0.8"/>
<line x1="184.67" y1="469.9" x2="184.67" y2="461.55" stroke="#555" stroke-width="0.8"/>
<line x1="183.17" y1="461.55" x2="186.17" y2="461.55" stroke="#555" stroke-width="0.8"/>
<line x1="196.46" y1="477.82" x2="196.46" y2="475.44" stroke="#555" stroke-width="0.8"/>
<line x1="194.96" y1="475.44" x2="197.96" y2="475.44" stroke="#555" stroke-width="0.8"/>
<line x1="208.25" y1="472.28" x2="208.25" y2="467.51" stroke="#555" stroke-width="0.8"/>
<line x1="206.75" y1="467.51" x2="209.75" y2="467.51" stroke="#555" stroke-width="0.8"/>
<line x1="220.04" y1="479.43" x2="220.04" y2="476.45" stroke="#555" stroke-width="0.8"/>
<line x1="218.54" y1="476.45" x2="221.54" y2="476.45" stroke="#555" stroke-width="0.8"/>
<line x1="231.83" y1="466.02" x2="231.83" y2="460.06" stroke="#555" stroke-width="0.8"/>
<line x1="230.33" y1="460.06" x2="233.33" y2="460.06" stroke="#555" stroke-width="0.8"/>
<line x1="243.62" y1="460.36" x2="243.62" y2="450.82" stroke="#555" stroke-width="0.8"/>
<line x1="242.12" y1="450.82" x2="245.12" y2="450.82" stroke="#555" stroke-width="0.8"/>
<line x1="255.41" y1="458.39" x2="255.41" y2="451.24" stroke="#555" stroke-width="0.8"/>
<line x1="253.91" y1="451.24" x2="256.91" y2="451.24" stroke="#555" stroke-width="0.8"/>
<line x1="267.2" y1="464.11" x2="267.2" y2="456.96" stroke="#555" stroke-width="0.8"/>
<line x1="265.7" y1="456.96" x2="268.7" y2="456.96" stroke="#555" stroke-width="0.8"/>
<line x1="278.99" y1="477.7" x2="278.99" y2="474.13" stroke="#555" stroke-width="0.8"/>
<line x1="277.49" y1="474.13" x2="280.49" y2="474.13" stroke="#555" stroke-width="0.8"/>
<line x1="290.78" y1="467.27" x2="290.78" y2="461.31" stroke="#555" stroke-width="0.8"/>
<line x1="289.28" y1="461.31" x2="292.28" y2="461.31" stroke="#555" stroke-width="0.8"/>
<line x1="302.57" y1="469.6" x2="302.57" y2="466.62" stroke="#555" stroke-width="0.8"/>
<line x1="301.07" y1="466.62" x2="304.07" y2="466.62" stroke="#555" stroke-width="0.8"/>
<line x1="31.4" y1="461.37" x2="31.4" y2="453.03" stroke="#555" stroke-width="0.8"/>
<line x1="29.9" y1="453.03" x2="32.9" y2="453.03" stroke="#555" stroke-width="0.8"/>
<line x1="43.19" y1="463.52" x2="43.19" y2="458.15" stroke="#555" stroke-width="0.8"/>
<line x1="41.69" y1="458.15" x2="44.69" y2="458.15" stroke="#555" stroke-width="0.8"/>
<line x1="54.98" y1="453.8" x2="54.98" y2="443.67" stroke="#555" stroke-width="0.8"/>
<line x1="53.48" y1="443.67" x2="56.48" y2="443.67" stroke="#555" stroke-width="0.8"/>
<line x1="66.77" y1="467.09" x2="66.77" y2="459.35" stroke="#555" stroke-width="0.8"/>
<line x1="65.27" y1="459.35" x2="68.27" y2="459.35" stroke="#555" stroke-width="0.8"/>
<line x1="78.56" y1="451.72" x2="78.56" y2="443.97" stroke="#555" stroke-width="0.8"/>
<line x1="77.06" y1="443.97" x2="80.06" y2="443.97" stroke="#555" stroke-width="0.8"/>
<line x1="90.35" y1="449.63" x2="90.35" y2="441.88" stroke="#555" stroke-width="0.8"/>
<line x1="88.85" y1="441.88" x2="91.85" y2="441.88" stroke="#555" stroke-width="0.8"/>
<line x1="102.14" y1="448.08" x2="102.14" y2="440.33" stroke="#555" stroke-width="0.8"/>
<line x1="100.64" y1="440.33" x2="103.64" y2="440.33" stroke="#555" stroke-width="0.8"/>
<line x1="113.93" y1="457.2" x2="113.93" y2="449.45" stroke="#555" stroke-width="0.8"/>
<line x1="112.43" y1="449.45" x2="115.43" y2="449.45" stroke="#555" stroke-width="0.8"/>
<line x1="125.72" y1="448.5" x2="125.72" y2="443.14" stroke="#555" stroke-width="0.8"/>
<line x1="124.22" y1="443.14" x2="127.22" y2="443.14" stroke="#555" stroke-width="0.8"/>
<line x1="137.51" y1="437.18" x2="137.51" y2="430.02" stroke="#555" stroke-width="0.8"/>
<line x1="136.01" y1="430.02" x2="139.01" y2="430.02" stroke="#555" stroke-width="0.8"/>
<line x1="149.3" y1="460.9" x2="149.3" y2="451.96" stroke="#555" stroke-width="0.8"/>
<line x1="147.8" y1="451.96" x2="150.8" y2="451.96" stroke="#555" stroke-width="0.8"/>
<line x1="161.09" y1="465.49" x2="161.09" y2="460.72" stroke="#555" stroke-width="0.8"/>
<line x1="159.59" y1="460.72" x2="162.59" y2="460.72" stroke="#555" stroke-width="0.8"/>
<line x1="172.88" y1="472.58" x2="172.88" y2="470.19" stroke="#555" stroke-width="0.8"/>
<line x1="171.38" y1="470.19" x2="174.38" y2="470.19" stroke="#555" stroke-width="0.8"/>
<line x1="184.67" y1="477.29" x2="184.67" y2="474.31" stroke="#555" stroke-width="0.8"/>
<line x1="183.17" y1="474.31" x2="186.17" y2="474.31" stroke="#555" stroke-width="0.8"/>
<line x1="196.46" y1="478.12" x2="196.46" y2="475.74" stroke="#555" stroke-width="0.8"/>
<line x1="194.96" y1="475.74" x2="197.96" y2="475.74" stroke="#555" stroke-width="0.8"/>
<line x1="208.25" y1="475.08" x2="208.25" y2="472.1" stroke="#555" stroke-width="0.8"/>
<line x1="206.75" y1="472.1" x2="209.75" y2="472.1" stroke="#555" stroke-width="0.8"/>
<line x1="220.04" y1="480.21" x2="220.04" y2="478.42" stroke="#555" stroke-width="0.8"/>
<line x1="218.54" y1="478.42" x2="221.54" y2="478.42" stroke="#555" stroke-width="0.8"/>
<line x1="231.83" y1="476.21" x2="231.83" y2="472.64" stroke="#555" stroke-width="0.8"/>
<line x1="230.33" y1="472.64" x2="233.33" y2="472.64" stroke="#555" stroke-width="0.8"/>
<line x1="243.62" y1="474.31" x2="243.62" y2="471.33" stroke="#555" stroke-width="0.8"/>
<line x1="242.12" y1="471.33" x2="245.12" y2="471.33" stroke="#555" stroke-width="0.8"/>
<line x1="255.41" y1="481.52" x2="255.41" y2="479.13" stroke="#555" stroke-width="0.8"/>
<line x1="253.91" y1="479.13" x2="256.91" y2="479.13" stroke="#555" stroke-width="0.8"/>
<line x1="267.2" y1="462.92" x2="267.2" y2="452.79" stroke="#555" stroke-width="0.8"/>
<line x1="265.7" y1="452.79" x2="268.7" y2="452.79" stroke="#555" stroke-width="0.8"/>
<line x1="278.99" y1="479.61" x2="278.99" y2="477.23" stroke="#555" stroke-width="0.8"/>
<line x1="277.49" y1="477.23" x2="280.49" y2="477.23" stroke="#555" stroke-width="0.8"/>
<line x1="290.78" y1="479.61" x2="290.78" y2="477.82" stroke="#555" stroke-width="0.8"/>
<line x1="289.28" y1="477.82" x2="292.28" y2="477.82" stroke="#555" stroke-width="0.8"/>
<line x1="302.57" y1="470.07" x2="302.57" y2="467.09" stroke="#555" stroke-width="0.8"/>
<line x1="301.07" y1="467.09" x2="304.07" y2="467.09" stroke="#555" stroke-width="0.8"/>
<polyline points="31.4,466.08 43.19,473.29 54.98,453.8 66.77,455 78.56,433.78 90.35,449.63 102.14,442.18 113.93,448.2 125.72,463.34 137.51,453.03 149.3,454.4 161.09,458.51 172.88,472.28 184.67,469.9 196.46,477.82 208.25,472.28 220.04,479.43 231.83,466.02 243.62,460.36 255.41,458.39 267.2,464.11 278.99,477.7 290.78,467.27 302.57,469.6" fill="none" stroke="#3333a6" stroke-width="1.25" stroke-linejoin="round"/>
<polyline points="31.4,461.37 43.19,463.52 54.98,453.8 66.77,467.09 78.56,451.72 90.35,449.63 102.14,448.08 113.93,457.2 125.72,448.5 137.51,437.18 149.3,460.9 161.09,465.49 172.88,472.58 184.67,477.29 196.46,478.12 208.25,475.08 220.04,480.21 231.83,476.21 243.62,474.31 255.41,481.52 267.2,462.92 278.99,479.61 290.78,479.61 302.57,470.07" fill="none" stroke="#c83434" stroke-width="1.25" stroke-linejoin="round"/>
<rect x="29.3" y="459.27" width="4.2" height="4.2" fill="#000"/>
<rect x="41.09" y="461.42" width="4.2" height="4.2" fill="#000"/>
<rect x="52.88" y="451.7" width="4.2" height="4.2" fill="#000"/>
<rect x="64.67" y="464.99" width="4.2" height="4.2" fill="#000"/>
<rect x="76.46" y="449.62" width="4.2" height="4.2" fill="#000"/>
<rect x="88.25" y="447.53" width="4.2" height="4.2" fill="#000"/>
<rect x="100.04" y="445.98" width="4.2" height="4.2" fill="#000"/>
<rect x="111.83" y="455.1" width="4.2" height="4.2" fill="#000"/>
<rect x="123.62" y="446.4" width="4.2" height="4.2" fill="#000"/>
<rect x="135.41" y="435.08" width="4.2" height="4.2" fill="#000"/>
<rect x="147.2" y="458.8" width="4.2" height="4.2" fill="#000"/>
<rect x="158.99" y="463.39" width="4.2" height="4.2" fill="#000"/>
<rect x="170.78" y="470.48" width="4.2" height="4.2" fill="#000"/>
<rect x="182.57" y="475.19" width="4.2" height="4.2" fill="#000"/>
<rect x="194.36" y="476.02" width="4.2" height="4.2" fill="#000"/>
<rect x="206.15" y="472.98" width="4.2" height="4.2" fill="#000"/>
<rect x="217.94" y="478.11" width="4.2" height="4.2" fill="#000"/>
<rect x="229.73" y="474.11" width="4.2" height="4.2" fill="#000"/>
<rect x="241.52" y="472.21" width="4.2" height="4.2" fill="#000"/>
<rect x="253.31" y="479.42" width="4.2" height="4.2" fill="#000"/>
<rect x="265.1" y="460.82" width="4.2" height="4.2" fill="#000"/>
<rect x="276.89" y="477.51" width="4.2" height="4.2" fill="#000"/>
<rect x="288.68" y="477.51" width="4.2" height="4.2" fill="#000"/>
<rect x="300.47" y="467.97" width="4.2" height="4.2" fill="#000"/>
<circle cx="31.4" cy="466.08" r="1.9" fill="#000"/>
<circle cx="43.19" cy="473.29" r="1.9" fill="#000"/>
<circle cx="54.98" cy="453.8" r="1.9" fill="#000"/>
<circle cx="66.77" cy="455" r="1.9" fill="#000"/>
<circle cx="78.56" cy="433.78" r="1.9" fill="#000"/>
<circle cx="90.35" cy="449.63" r="1.9" fill="#000"/>
<circle cx="102.14" cy="442.18" r="1.9" fill="#000"/>
<circle cx="113.93" cy="448.2" r="1.9" fill="#000"/>
<circle cx="125.72" cy="463.34" r="1.9" fill="#000"/>
<circle cx="137.51" cy="453.03" r="1.9" fill="#000"/>
<circle cx="149.3" cy="454.4" r="1.9" fill="#000"/>
<circle cx="161.09" cy="458.51" r="1.9" fill="#000"/>
<circle cx="172.88" cy="472.28" r="1.9" fill="#000"/>
<circle cx="184.67" cy="469.9" r="1.9" fill="#000"/>
<circle cx="196.46" cy="477.82" r="1.9" fill="#000"/>
<circle cx="208.25" cy="472.28" r="1.9" fill="#000"/>
<circle cx="220.04" cy="479.43" r="1.9" fill="#000"/>
<circle cx="231.83" cy="466.02" r="1.9" fill="#000"/>
<circle cx="243.62" cy="460.36" r="1.9" fill="#000"/>
<circle cx="255.41" cy="458.39" r="1.9" fill="#000"/>
<circle cx="267.2" cy="464.11" r="1.9" fill="#000"/>
<circle cx="278.99" cy="477.7" r="1.9" fill="#000"/>
<circle cx="290.78" cy="467.27" r="1.9" fill="#000"/>
<circle cx="302.57" cy="469.6" r="1.9" fill="#000"/>
<line x1="25.3" y1="394.3" x2="25.3" y2="484.8" stroke="#1a1a1a" stroke-width="1.2"/>
<line x1="24.7" y1="484.2" x2="308" y2="484.2" stroke="#1a1a1a" stroke-width="1.2"/>
<line x1="21.3" y1="484.2" x2="25.3" y2="484.2" stroke="#1a1a1a" stroke-width="1.1"/>
<text x="20.9" y="486.4" font-size="6.5" font-family="'Liberation Serif', serif" font-weight="bold" text-anchor="end" fill="#000" stroke="#000" stroke-width="0.14">0</text>
<line x1="21.3" y1="454.4" x2="25.3" y2="454.4" stroke="#1a1a1a" stroke-width="1.1"/>
<text x="20.9" y="456.6" font-size="6.5" font-family="'Liberation Serif', serif" font-weight="bold" text-anchor="end" fill="#000" stroke="#000" stroke-width="0.14">5</text>
<line x1="21.3" y1="424.6" x2="25.3" y2="424.6" stroke="#1a1a1a" stroke-width="1.1"/>
<text x="20.9" y="426.8" font-size="6.5" font-family="'Liberation Serif', serif" font-weight="bold" text-anchor="end" fill="#000" stroke="#000" stroke-width="0.14">10</text>
<line x1="21.3" y1="394.8" x2="25.3" y2="394.8" stroke="#1a1a1a" stroke-width="1.1"/>
<text x="20.9" y="397" font-size="6.5" font-family="'Liberation Serif', serif" font-weight="bold" text-anchor="end" fill="#000" stroke="#000" stroke-width="0.14">15</text>
<line x1="31.4" y1="484.2" x2="31.4" y2="487.6" stroke="#1a1a1a" stroke-width="1"/>
<text x="33.3" y="493.7" font-size="6.2" font-family="'Liberation Serif', serif" font-weight="bold" text-anchor="end" fill="#000" transform="rotate(-45 33.3 493.7)" stroke="#000" stroke-width="0.12">9:00</text>
<line x1="43.19" y1="484.2" x2="43.19" y2="487.6" stroke="#1a1a1a" stroke-width="1"/>
<text x="45.09" y="493.7" font-size="6.2" font-family="'Liberation Serif', serif" font-weight="bold" text-anchor="end" fill="#000" transform="rotate(-45 45.09 493.7)" stroke="#000" stroke-width="0.12">10:00</text>
<line x1="54.98" y1="484.2" x2="54.98" y2="487.6" stroke="#1a1a1a" stroke-width="1"/>
<text x="56.88" y="493.7" font-size="6.2" font-family="'Liberation Serif', serif" font-weight="bold" text-anchor="end" fill="#000" transform="rotate(-45 56.88 493.7)" stroke="#000" stroke-width="0.12">11:00</text>
<line x1="66.77" y1="484.2" x2="66.77" y2="487.6" stroke="#1a1a1a" stroke-width="1"/>
<text x="68.67" y="493.7" font-size="6.2" font-family="'Liberation Serif', serif" font-weight="bold" text-anchor="end" fill="#000" transform="rotate(-45 68.67 493.7)" stroke="#000" stroke-width="0.12">12:00</text>
<line x1="78.56" y1="484.2" x2="78.56" y2="487.6" stroke="#1a1a1a" stroke-width="1"/>
<text x="80.46" y="493.7" font-size="6.2" font-family="'Liberation Serif', serif" font-weight="bold" text-anchor="end" fill="#000" transform="rotate(-45 80.46 493.7)" stroke="#000" stroke-width="0.12">13:00</text>
<line x1="90.35" y1="484.2" x2="90.35" y2="487.6" stroke="#1a1a1a" stroke-width="1"/>
<text x="92.25" y="493.7" font-size="6.2" font-family="'Liberation Serif', serif" font-weight="bold" text-anchor="end" fill="#000" transform="rotate(-45 92.25 493.7)" stroke="#000" stroke-width="0.12">14:00</text>
<line x1="102.14" y1="484.2" x2="102.14" y2="487.6" stroke="#1a1a1a" stroke-width="1"/>
<text x="104.04" y="493.7" font-size="6.2" font-family="'Liberation Serif', serif" font-weight="bold" text-anchor="end" fill="#000" transform="rotate(-45 104.04 493.7)" stroke="#000" stroke-width="0.12">15:00</text>
<line x1="113.93" y1="484.2" x2="113.93" y2="487.6" stroke="#1a1a1a" stroke-width="1"/>
<text x="115.83" y="493.7" font-size="6.2" font-family="'Liberation Serif', serif" font-weight="bold" text-anchor="end" fill="#000" transform="rotate(-45 115.83 493.7)" stroke="#000" stroke-width="0.12">16:00</text>
<line x1="125.72" y1="484.2" x2="125.72" y2="487.6" stroke="#1a1a1a" stroke-width="1"/>
<text x="127.62" y="493.7" font-size="6.2" font-family="'Liberation Serif', serif" font-weight="bold" text-anchor="end" fill="#000" transform="rotate(-45 127.62 493.7)" stroke="#000" stroke-width="0.12">17:00</text>
<line x1="137.51" y1="484.2" x2="137.51" y2="487.6" stroke="#1a1a1a" stroke-width="1"/>
<text x="139.41" y="493.7" font-size="6.2" font-family="'Liberation Serif', serif" font-weight="bold" text-anchor="end" fill="#000" transform="rotate(-45 139.41 493.7)" stroke="#000" stroke-width="0.12">18:00</text>
<line x1="149.3" y1="484.2" x2="149.3" y2="487.6" stroke="#1a1a1a" stroke-width="1"/>
<text x="151.2" y="493.7" font-size="6.2" font-family="'Liberation Serif', serif" font-weight="bold" text-anchor="end" fill="#000" transform="rotate(-45 151.2 493.7)" stroke="#000" stroke-width="0.12">19:00</text>
<line x1="161.09" y1="484.2" x2="161.09" y2="487.6" stroke="#1a1a1a" stroke-width="1"/>
<text x="162.99" y="493.7" font-size="6.2" font-family="'Liberation Serif', serif" font-weight="bold" text-anchor="end" fill="#000" transform="rotate(-45 162.99 493.7)" stroke="#000" stroke-width="0.12">20:00</text>
<line x1="172.88" y1="484.2" x2="172.88" y2="487.6" stroke="#1a1a1a" stroke-width="1"/>
<text x="174.78" y="493.7" font-size="6.2" font-family="'Liberation Serif', serif" font-weight="bold" text-anchor="end" fill="#000" transform="rotate(-45 174.78 493.7)" stroke="#000" stroke-width="0.12">21:00</text>
<line x1="184.67" y1="484.2" x2="184.67" y2="487.6" stroke="#1a1a1a" stroke-width="1"/>
<text x="186.57" y="493.7" font-size="6.2" font-family="'Liberation Serif', serif" font-weight="bold" text-anchor="end" fill="#000" transform="rotate(-45 186.57 493.7)" stroke="#000" stroke-width="0.12">22:00</text>
<line x1="196.46" y1="484.2" x2="196.46" y2="487.6" stroke="#1a1a1a" stroke-width="1"/>
<text x="198.36" y="493.7" font-size="6.2" font-family="'Liberation Serif', serif" font-weight="bold" text-anchor="end" fill="#000" transform="rotate(-45 198.36 493.7)" stroke="#000" stroke-width="0.12">23:00</text>
<line x1="208.25" y1="484.2" x2="208.25" y2="487.6" stroke="#1a1a1a" stroke-width="1"/>
<text x="210.15" y="493.7" font-size="6.2" font-family="'Liberation Serif', serif" font-weight="bold" text-anchor="end" fill="#000" transform="rotate(-45 210.15 493.7)" stroke="#000" stroke-width="0.12">24:00</text>
<line x1="220.04" y1="484.2" x2="220.04" y2="487.6" stroke="#1a1a1a" stroke-width="1"/>
<text x="221.94" y="493.7" font-size="6.2" font-family="'Liberation Serif', serif" font-weight="bold" text-anchor="end" fill="#000" transform="rotate(-45 221.94 493.7)" stroke="#000" stroke-width="0.12">1:00</text>
<line x1="231.83" y1="484.2" x2="231.83" y2="487.6" stroke="#1a1a1a" stroke-width="1"/>
<text x="233.73" y="493.7" font-size="6.2" font-family="'Liberation Serif', serif" font-weight="bold" text-anchor="end" fill="#000" transform="rotate(-45 233.73 493.7)" stroke="#000" stroke-width="0.12">2:00</text>
<line x1="243.62" y1="484.2" x2="243.62" y2="487.6" stroke="#1a1a1a" stroke-width="1"/>
<text x="245.52" y="493.7" font-size="6.2" font-family="'Liberation Serif', serif" font-weight="bold" text-anchor="end" fill="#000" transform="rotate(-45 245.52 493.7)" stroke="#000" stroke-width="0.12">3:00</text>
<line x1="255.41" y1="484.2" x2="255.41" y2="487.6" stroke="#1a1a1a" stroke-width="1"/>
<text x="257.31" y="493.7" font-size="6.2" font-family="'Liberation Serif', serif" font-weight="bold" text-anchor="end" fill="#000" transform="rotate(-45 257.31 493.7)" stroke="#000" stroke-width="0.12">4:00</text>
<line x1="267.2" y1="484.2" x2="267.2" y2="487.6" stroke="#1a1a1a" stroke-width="1"/>
<text x="269.1" y="493.7" font-size="6.2" font-family="'Liberation Serif', serif" font-weight="bold" text-anchor="end" fill="#000" transform="rotate(-45 269.1 493.7)" stroke="#000" stroke-width="0.12">5:00</text>
<line x1="278.99" y1="484.2" x2="278.99" y2="487.6" stroke="#1a1a1a" stroke-width="1"/>
<text x="280.89" y="493.7" font-size="6.2" font-family="'Liberation Serif', serif" font-weight="bold" text-anchor="end" fill="#000" transform="rotate(-45 280.89 493.7)" stroke="#000" stroke-width="0.12">6:00</text>
<line x1="290.78" y1="484.2" x2="290.78" y2="487.6" stroke="#1a1a1a" stroke-width="1"/>
<text x="292.68" y="493.7" font-size="6.2" font-family="'Liberation Serif', serif" font-weight="bold" text-anchor="end" fill="#000" transform="rotate(-45 292.68 493.7)" stroke="#000" stroke-width="0.12">7:00</text>
<line x1="302.57" y1="484.2" x2="302.57" y2="487.6" stroke="#1a1a1a" stroke-width="1"/>
<text x="304.47" y="493.7" font-size="6.2" font-family="'Liberation Serif', serif" font-weight="bold" text-anchor="end" fill="#000" transform="rotate(-45 304.47 493.7)" stroke="#000" stroke-width="0.12">8:00</text>
<text x="255.41" y="448.3" font-size="5" font-family="'Liberation Serif', serif" font-weight="bold" text-anchor="middle" fill="#000" stroke="#000" stroke-width="0.12">*</text>
<text x="157.2" y="387.6" font-size="7" font-family="'Liberation Serif', serif" font-weight="bold" text-anchor="middle" fill="#000" stroke="#000" stroke-width="0.29">REM</text>
<text x="9.2" y="438.2" font-size="6.9" font-family="'Liberation Serif', serif" font-weight="bold" text-anchor="middle" fill="#000" transform="rotate(-90 9.2 438.2)" textLength="86.4" lengthAdjust="spacingAndGlyphs" stroke="#000" stroke-width="0.29">REM spend in each stage, %</text>
<line x1="305.4" y1="396.5" x2="313.9" y2="396.5" stroke="#3333a6" stroke-width="1.2"/>
<circle cx="309.7" cy="396.5" r="1.8" fill="#000"/>
<text x="318.8" y="398.3" font-size="5.3" font-family="'Liberation Serif', serif" font-weight="bold" text-anchor="start" fill="#000" stroke="#000" stroke-width="0.13">10m-WT</text>
<line x1="305.4" y1="405.2" x2="313.9" y2="405.2" stroke="#c83434" stroke-width="1.2"/>
<rect x="308.1" y="403.3" width="3.8" height="3.8" fill="#000"/>
<text x="318.8" y="407" font-size="5.3" font-family="'Liberation Serif', serif" font-weight="bold" text-anchor="start" fill="#000" stroke="#000" stroke-width="0.13">10m-AD</text>
<rect x="428.4" y="147" width="31.4" height="80.8" fill="#e2e2e2"/>
<line x1="373.3" y1="179.73" x2="373.3" y2="177.21" stroke="#2e2eae" stroke-width="0.9"/>
<line x1="371.1" y1="177.21" x2="375.5" y2="177.21" stroke="#2e2eae" stroke-width="0.9"/>
<rect x="370.2" y="180.53" width="6.2" height="47.27" fill="none" stroke="#2e2eae" stroke-width="1.6"/>
<line x1="385.4" y1="173.03" x2="385.4" y2="170.2" stroke="#c8343c" stroke-width="0.9"/>
<line x1="383.2" y1="170.2" x2="387.6" y2="170.2" stroke="#c8343c" stroke-width="0.9"/>
<rect x="382.1" y="173.83" width="6.6" height="53.97" fill="none" stroke="#c8343c" stroke-width="1.6"/>
<line x1="406.5" y1="188.4" x2="406.5" y2="185.48" stroke="#2e2eae" stroke-width="0.9"/>
<line x1="404.3" y1="185.48" x2="408.7" y2="185.48" stroke="#2e2eae" stroke-width="0.9"/>
<rect x="403.7" y="189.2" width="5.6" height="38.6" fill="none" stroke="#2e2eae" stroke-width="1.6"/>
<line x1="418.4" y1="182.49" x2="418.4" y2="179.57" stroke="#c8343c" stroke-width="0.9"/>
<line x1="416.2" y1="179.57" x2="420.6" y2="179.57" stroke="#c8343c" stroke-width="0.9"/>
<rect x="415.1" y="183.29" width="6.6" height="44.51" fill="none" stroke="#c8343c" stroke-width="1.6"/>
<line x1="438.95" y1="170.28" x2="438.95" y2="168.86" stroke="#2e2eae" stroke-width="0.9"/>
<line x1="436.75" y1="168.86" x2="441.15" y2="168.86" stroke="#2e2eae" stroke-width="0.9"/>
<rect x="436" y="171.08" width="5.9" height="56.72" fill="none" stroke="#2e2eae" stroke-width="1.6"/>
<line x1="451.3" y1="163.42" x2="451.3" y2="160.43" stroke="#c8343c" stroke-width="0.9"/>
<line x1="449.1" y1="160.43" x2="453.5" y2="160.43" stroke="#c8343c" stroke-width="0.9"/>
<rect x="448.4" y="164.22" width="5.8" height="63.58" fill="none" stroke="#c8343c" stroke-width="1.6"/>
<line x1="365.5" y1="148.5" x2="365.5" y2="228.4" stroke="#1a1a1a" stroke-width="1.2"/>
<line x1="364.9" y1="227.8" x2="459.8" y2="227.8" stroke="#1a1a1a" stroke-width="1.2"/>
<line x1="362" y1="227.8" x2="365.5" y2="227.8" stroke="#1a1a1a" stroke-width="1.1"/>
<text x="361.3" y="230" font-size="6.4" font-family="'Liberation Serif', serif" font-weight="bold" text-anchor="end" fill="#000" stroke="#000" stroke-width="0.14">0</text>
<line x1="362" y1="212.04" x2="365.5" y2="212.04" stroke="#1a1a1a" stroke-width="1.1"/>
<text x="361.3" y="214.24" font-size="6.4" font-family="'Liberation Serif', serif" font-weight="bold" text-anchor="end" fill="#000" stroke="#000" stroke-width="0.14">20</text>
<line x1="362" y1="196.28" x2="365.5" y2="196.28" stroke="#1a1a1a" stroke-width="1.1"/>
<text x="361.3" y="198.48" font-size="6.4" font-family="'Liberation Serif', serif" font-weight="bold" text-anchor="end" fill="#000" stroke="#000" stroke-width="0.14">40</text>
<line x1="362" y1="180.52" x2="365.5" y2="180.52" stroke="#1a1a1a" stroke-width="1.1"/>
<text x="361.3" y="182.72" font-size="6.4" font-family="'Liberation Serif', serif" font-weight="bold" text-anchor="end" fill="#000" stroke="#000" stroke-width="0.14">60</text>
<line x1="362" y1="164.76" x2="365.5" y2="164.76" stroke="#1a1a1a" stroke-width="1.1"/>
<text x="361.3" y="166.96" font-size="6.4" font-family="'Liberation Serif', serif" font-weight="bold" text-anchor="end" fill="#000" stroke="#000" stroke-width="0.14">80</text>
<line x1="362" y1="149" x2="365.5" y2="149" stroke="#1a1a1a" stroke-width="1.1"/>
<text x="361.3" y="151.2" font-size="6.4" font-family="'Liberation Serif', serif" font-weight="bold" text-anchor="end" fill="#000" stroke="#000" stroke-width="0.14">100</text>
<line x1="379.3" y1="227.8" x2="379.3" y2="230.6" stroke="#1a1a1a" stroke-width="1"/>
<text x="379.3" y="237.6" font-size="6.6" font-family="'Liberation Serif', serif" font-weight="bold" text-anchor="middle" fill="#000" stroke="#000" stroke-width="0.28">24H</text>
<line x1="412.8" y1="227.8" x2="412.8" y2="230.6" stroke="#1a1a1a" stroke-width="1"/>
<text x="412.8" y="237.6" font-size="6.6" font-family="'Liberation Serif', serif" font-weight="bold" text-anchor="middle" fill="#000" stroke="#000" stroke-width="0.28">Light</text>
<line x1="445.1" y1="227.8" x2="445.1" y2="230.6" stroke="#1a1a1a" stroke-width="1"/>
<text x="445.1" y="237.6" font-size="6.6" font-family="'Liberation Serif', serif" font-weight="bold" text-anchor="middle" fill="#000" stroke="#000" stroke-width="0.28">Dark</text>
<line x1="374.1" y1="162.3" x2="385.4" y2="162.3" stroke="#111" stroke-width="1.1"/>
<text x="379.75" y="161.4" font-size="6.6" font-family="'Liberation Serif', serif" font-weight="bold" text-anchor="middle" fill="#000" stroke="#000" stroke-width="0.28">*</text>
<line x1="439" y1="154.7" x2="450.3" y2="154.7" stroke="#111" stroke-width="1.1"/>
<text x="444.65" y="153.6" font-size="6.6" font-family="'Liberation Serif', serif" font-weight="bold" text-anchor="middle" fill="#000" stroke="#000" stroke-width="0.28">**</text>
<text x="407" y="136.2" font-size="6.5" font-family="'Liberation Serif', serif" font-weight="bold" text-anchor="middle" fill="#000" stroke="#000" stroke-width="0.27">Wake</text>
<text x="346.6" y="188.1" font-size="6.9" font-family="'Liberation Serif', serif" font-weight="bold" text-anchor="middle" fill="#000" transform="rotate(-90 346.6 188.1)" textLength="78.8" lengthAdjust="spacingAndGlyphs" stroke="#000" stroke-width="0.29">Wake spend in each stage, %</text>
<rect x="463.3" y="148.2" width="7" height="2.2" fill="#7a7ad6" stroke="#2e2eae" stroke-width="1.3"/>
<rect x="463.3" y="158.7" width="7" height="2.2" fill="#e07a7e" stroke="#c8343c" stroke-width="1.3"/>
<text x="475.4" y="151.1" font-size="5.3" font-family="'Liberation Serif', serif" font-weight="bold" text-anchor="start" fill="#000" stroke="#000" stroke-width="0.13">10m-WT</text>
<text x="475.4" y="161.6" font-size="5.3" font-family="'Liberation Serif', serif" font-weight="bold" text-anchor="start" fill="#000" stroke="#000" stroke-width="0.13">10m-AD</text>
<rect x="595.3" y="146.9" width="34.7" height="80.9" fill="#e2e2e2"/>
<line x1="535.35" y1="210.08" x2="535.35" y2="208.19" stroke="#2e2eae" stroke-width="0.9"/>
<line x1="533.15" y1="208.19" x2="537.55" y2="208.19" stroke="#2e2eae" stroke-width="0.9"/>
<rect x="532.2" y="210.88" width="6.3" height="16.92" fill="none" stroke="#2e2eae" stroke-width="1.6"/>
<line x1="548.85" y1="204.49" x2="548.85" y2="201.48" stroke="#c8343c" stroke-width="0.9"/>
<line x1="546.65" y1="201.48" x2="551.05" y2="201.48" stroke="#c8343c" stroke-width="0.9"/>
<rect x="545.2" y="205.29" width="7.3" height="22.51" fill="none" stroke="#c8343c" stroke-width="1.6"/>
<line x1="571.15" y1="218.34" x2="571.15" y2="216.28" stroke="#2e2eae" stroke-width="0.9"/>
<line x1="568.95" y1="216.28" x2="573.35" y2="216.28" stroke="#2e2eae" stroke-width="0.9"/>
<rect x="567.8" y="219.14" width="6.7" height="8.66" fill="none" stroke="#2e2eae" stroke-width="1.6"/>
<line x1="584.75" y1="213.78" x2="584.75" y2="211.29" stroke="#c8343c" stroke-width="0.9"/>
<line x1="582.55" y1="211.29" x2="586.95" y2="211.29" stroke="#c8343c" stroke-width="0.9"/>
<rect x="581.2" y="214.58" width="7.1" height="13.22" fill="none" stroke="#c8343c" stroke-width="1.6"/>
<line x1="607.3" y1="187.55" x2="607.3" y2="181.36" stroke="#2e2eae" stroke-width="0.9"/>
<line x1="605.1" y1="181.36" x2="609.5" y2="181.36" stroke="#2e2eae" stroke-width="0.9"/>
<rect x="604" y="188.35" width="6.6" height="39.45" fill="none" stroke="#2e2eae" stroke-width="1.6"/>
<line x1="620.7" y1="168.91" x2="620.7" y2="158.21" stroke="#c8343c" stroke-width="0.9"/>
<line x1="618.5" y1="158.21" x2="622.9" y2="158.21" stroke="#c8343c" stroke-width="0.9"/>
<rect x="617.4" y="169.71" width="6.6" height="58.09" fill="none" stroke="#c8343c" stroke-width="1.6"/>
<line x1="526.5" y1="141.3" x2="526.5" y2="228.4" stroke="#1a1a1a" stroke-width="1.2"/>
<line x1="525.9" y1="227.8" x2="630" y2="227.8" stroke="#1a1a1a" stroke-width="1.2"/>
<line x1="523" y1="227.8" x2="526.5" y2="227.8" stroke="#1a1a1a" stroke-width="1.1"/>
<text x="522.3" y="230" font-size="6.4" font-family="'Liberation Serif', serif" font-weight="bold" text-anchor="end" fill="#000" stroke="#000" stroke-width="0.14">0</text>
<line x1="523" y1="210.6" x2="526.5" y2="210.6" stroke="#1a1a1a" stroke-width="1.1"/>
<text x="522.3" y="212.8" font-size="6.4" font-family="'Liberation Serif', serif" font-weight="bold" text-anchor="end" fill="#000" stroke="#000" stroke-width="0.14">1000</text>
<line x1="523" y1="193.4" x2="526.5" y2="193.4" stroke="#1a1a1a" stroke-width="1.1"/>
<text x="522.3" y="195.6" font-size="6.4" font-family="'Liberation Serif', serif" font-weight="bold" text-anchor="end" fill="#000" stroke="#000" stroke-width="0.14">2000</text>
<line x1="523" y1="176.2" x2="526.5" y2="176.2" stroke="#1a1a1a" stroke-width="1.1"/>
<text x="522.3" y="178.4" font-size="6.4" font-family="'Liberation Serif', serif" font-weight="bold" text-anchor="end" fill="#000" stroke="#000" stroke-width="0.14">3000</text>
<line x1="523" y1="159" x2="526.5" y2="159" stroke="#1a1a1a" stroke-width="1.1"/>
<text x="522.3" y="161.2" font-size="6.4" font-family="'Liberation Serif', serif" font-weight="bold" text-anchor="end" fill="#000" stroke="#000" stroke-width="0.14">4000</text>
<line x1="523" y1="141.8" x2="526.5" y2="141.8" stroke="#1a1a1a" stroke-width="1.1"/>
<text x="522.3" y="144" font-size="6.4" font-family="'Liberation Serif', serif" font-weight="bold" text-anchor="end" fill="#000" stroke="#000" stroke-width="0.14">5000</text>
<line x1="541.9" y1="227.8" x2="541.9" y2="230.6" stroke="#1a1a1a" stroke-width="1"/>
<text x="541.9" y="237.6" font-size="6.6" font-family="'Liberation Serif', serif" font-weight="bold" text-anchor="middle" fill="#000" stroke="#000" stroke-width="0.28">24H</text>
<line x1="577.7" y1="227.8" x2="577.7" y2="230.6" stroke="#1a1a1a" stroke-width="1"/>
<text x="577.7" y="237.6" font-size="6.6" font-family="'Liberation Serif', serif" font-weight="bold" text-anchor="middle" fill="#000" stroke="#000" stroke-width="0.28">Light</text>
<line x1="614" y1="227.8" x2="614" y2="230.6" stroke="#1a1a1a" stroke-width="1"/>
<text x="614" y="237.6" font-size="6.6" font-family="'Liberation Serif', serif" font-weight="bold" text-anchor="middle" fill="#000" stroke="#000" stroke-width="0.28">Dark</text>
<text x="576.7" y="136.6" font-size="6.5" font-family="'Liberation Serif', serif" font-weight="bold" text-anchor="middle" fill="#000" stroke="#000" stroke-width="0.27">Wake</text>
<text x="504.2" y="186.9" font-size="6.9" font-family="'Liberation Serif', serif" font-weight="bold" text-anchor="middle" fill="#000" transform="rotate(-90 504.2 186.9)" textLength="72.9" lengthAdjust="spacingAndGlyphs" stroke="#000" stroke-width="0.29">Wake average length, s</text>
<rect x="633.3" y="146.2" width="7.7" height="2.2" fill="#7a7ad6" stroke="#2e2eae" stroke-width="1.3"/>
<rect x="633.3" y="156.7" width="7.7" height="2.2" fill="#e07a7e" stroke="#c8343c" stroke-width="1.3"/>
<text x="645.8" y="149.1" font-size="5.3" font-family="'Liberation Serif', serif" font-weight="bold" text-anchor="start" fill="#000" stroke="#000" stroke-width="0.13">10m-WT</text>
<text x="645.8" y="159.6" font-size="5.3" font-family="'Liberation Serif', serif" font-weight="bold" text-anchor="start" fill="#000" stroke="#000" stroke-width="0.13">10m-AD</text>
<rect x="429.1" y="273.8" width="30.5" height="82.8" fill="#e2e2e2"/>
<line x1="371.75" y1="300.97" x2="371.75" y2="297.56" stroke="#2e2eae" stroke-width="0.9"/>
<line x1="369.55" y1="297.56" x2="373.95" y2="297.56" stroke="#2e2eae" stroke-width="0.9"/>
<rect x="368.7" y="301.77" width="6.1" height="54.83" fill="none" stroke="#2e2eae" stroke-width="1.6"/>
<line x1="384.2" y1="314.43" x2="384.2" y2="310.86" stroke="#c8343c" stroke-width="0.9"/>
<line x1="382" y1="310.86" x2="386.4" y2="310.86" stroke="#c8343c" stroke-width="0.9"/>
<rect x="381.1" y="315.23" width="6.2" height="41.37" fill="none" stroke="#c8343c" stroke-width="1.6"/>
<line x1="405.3" y1="285.07" x2="405.3" y2="280.37" stroke="#2e2eae" stroke-width="0.9"/>
<line x1="403.1" y1="280.37" x2="407.5" y2="280.37" stroke="#2e2eae" stroke-width="0.9"/>
<rect x="402.3" y="285.87" width="6" height="70.73" fill="none" stroke="#2e2eae" stroke-width="1.6"/>
<line x1="418.1" y1="297.56" x2="418.1" y2="291.72" stroke="#c8343c" stroke-width="0.9"/>
<line x1="415.9" y1="291.72" x2="420.3" y2="291.72" stroke="#c8343c" stroke-width="0.9"/>
<rect x="415.1" y="298.36" width="6" height="58.24" fill="none" stroke="#c8343c" stroke-width="1.6"/>
<line x1="438.85" y1="316.54" x2="438.85" y2="314.1" stroke="#2e2eae" stroke-width="0.9"/>
<line x1="436.65" y1="314.1" x2="441.05" y2="314.1" stroke="#2e2eae" stroke-width="0.9"/>
<rect x="436" y="317.34" width="5.7" height="39.26" fill="none" stroke="#2e2eae" stroke-width="1.6"/>
<line x1="451.4" y1="331.46" x2="451.4" y2="327.08" stroke="#c8343c" stroke-width="0.9"/>
<line x1="449.2" y1="327.08" x2="453.6" y2="327.08" stroke="#c8343c" stroke-width="0.9"/>
<rect x="448.6" y="332.26" width="5.6" height="24.34" fill="none" stroke="#c8343c" stroke-width="1.6"/>
<line x1="363.8" y1="275" x2="363.8" y2="357.2" stroke="#1a1a1a" stroke-width="1.2"/>
<line x1="363.2" y1="356.6" x2="459.6" y2="356.6" stroke="#1a1a1a" stroke-width="1.2"/>
<line x1="360.3" y1="356.6" x2="363.8" y2="356.6" stroke="#1a1a1a" stroke-width="1.1"/>
<text x="359.6" y="358.8" font-size="6.4" font-family="'Liberation Serif', serif" font-weight="bold" text-anchor="end" fill="#000" stroke="#000" stroke-width="0.14">0</text>
<line x1="360.3" y1="340.38" x2="363.8" y2="340.38" stroke="#1a1a1a" stroke-width="1.1"/>
<text x="359.6" y="342.58" font-size="6.4" font-family="'Liberation Serif', serif" font-weight="bold" text-anchor="end" fill="#000" stroke="#000" stroke-width="0.14">10</text>
<line x1="360.3" y1="324.16" x2="363.8" y2="324.16" stroke="#1a1a1a" stroke-width="1.1"/>
<text x="359.6" y="326.36" font-size="6.4" font-family="'Liberation Serif', serif" font-weight="bold" text-anchor="end" fill="#000" stroke="#000" stroke-width="0.14">20</text>
<line x1="360.3" y1="307.94" x2="363.8" y2="307.94" stroke="#1a1a1a" stroke-width="1.1"/>
<text x="359.6" y="310.14" font-size="6.4" font-family="'Liberation Serif', serif" font-weight="bold" text-anchor="end" fill="#000" stroke="#000" stroke-width="0.14">30</text>
<line x1="360.3" y1="291.72" x2="363.8" y2="291.72" stroke="#1a1a1a" stroke-width="1.1"/>
<text x="359.6" y="293.92" font-size="6.4" font-family="'Liberation Serif', serif" font-weight="bold" text-anchor="end" fill="#000" stroke="#000" stroke-width="0.14">40</text>
<line x1="360.3" y1="275.5" x2="363.8" y2="275.5" stroke="#1a1a1a" stroke-width="1.1"/>
<text x="359.6" y="277.7" font-size="6.4" font-family="'Liberation Serif', serif" font-weight="bold" text-anchor="end" fill="#000" stroke="#000" stroke-width="0.14">50</text>
<line x1="378" y1="356.6" x2="378" y2="359.4" stroke="#1a1a1a" stroke-width="1"/>
<text x="378" y="366.3" font-size="6.6" font-family="'Liberation Serif', serif" font-weight="bold" text-anchor="middle" fill="#000" stroke="#000" stroke-width="0.28">24H</text>
<line x1="411.7" y1="356.6" x2="411.7" y2="359.4" stroke="#1a1a1a" stroke-width="1"/>
<text x="411.7" y="366.3" font-size="6.6" font-family="'Liberation Serif', serif" font-weight="bold" text-anchor="middle" fill="#000" stroke="#000" stroke-width="0.28">Light</text>
<line x1="445.2" y1="356.6" x2="445.2" y2="359.4" stroke="#1a1a1a" stroke-width="1"/>
<text x="445.2" y="366.3" font-size="6.6" font-family="'Liberation Serif', serif" font-weight="bold" text-anchor="middle" fill="#000" stroke="#000" stroke-width="0.28">Dark</text>
<line x1="372" y1="293" x2="384.4" y2="293" stroke="#111" stroke-width="1.1"/>
<text x="378.2" y="291.8" font-size="6.6" font-family="'Liberation Serif', serif" font-weight="bold" text-anchor="middle" fill="#000" stroke="#000" stroke-width="0.28">*</text>
<line x1="439" y1="308.4" x2="451" y2="308.4" stroke="#111" stroke-width="1.1"/>
<text x="445" y="307.6" font-size="6.6" font-family="'Liberation Serif', serif" font-weight="bold" text-anchor="middle" fill="#000" stroke="#000" stroke-width="0.28">**</text>
<text x="408.3" y="263.2" font-size="6.5" font-family="'Liberation Serif', serif" font-weight="bold" text-anchor="middle" fill="#000" stroke="#000" stroke-width="0.27">NREM</text>
<text x="347.2" y="316.4" font-size="6.9" font-family="'Liberation Serif', serif" font-weight="bold" text-anchor="middle" fill="#000" transform="rotate(-90 347.2 316.4)" textLength="84.6" lengthAdjust="spacingAndGlyphs" stroke="#000" stroke-width="0.29">NREM spend in each stage, %</text>
<rect x="464.3" y="274.9" width="6.7" height="2.2" fill="#7a7ad6" stroke="#2e2eae" stroke-width="1.3"/>
<rect x="464.3" y="284.2" width="6.7" height="2.2" fill="#e07a7e" stroke="#c8343c" stroke-width="1.3"/>
<text x="476.5" y="277.8" font-size="5.3" font-family="'Liberation Serif', serif" font-weight="bold" text-anchor="start" fill="#000" stroke="#000" stroke-width="0.13">10m-WT</text>
<text x="476.5" y="287.1" font-size="5.3" font-family="'Liberation Serif', serif" font-weight="bold" text-anchor="start" fill="#000" stroke="#000" stroke-width="0.13">10m-AD</text>
<rect x="592.5" y="269.7" width="36.4" height="89" fill="#e2e2e2"/>
<line x1="538.7" y1="293.66" x2="538.7" y2="288.44" stroke="#2e2eae" stroke-width="0.9"/>
<line x1="536.5" y1="288.44" x2="540.9" y2="288.44" stroke="#2e2eae" stroke-width="0.9"/>
<rect x="535.6" y="294.46" width="6.2" height="64.24" fill="none" stroke="#2e2eae" stroke-width="1.6"/>
<line x1="551.7" y1="307.41" x2="551.7" y2="305.21" stroke="#c8343c" stroke-width="0.9"/>
<line x1="549.5" y1="305.21" x2="553.9" y2="305.21" stroke="#c8343c" stroke-width="0.9"/>
<rect x="548.6" y="308.21" width="6.2" height="50.49" fill="none" stroke="#c8343c" stroke-width="1.6"/>
<line x1="573" y1="292.29" x2="573" y2="287.06" stroke="#2e2eae" stroke-width="0.9"/>
<line x1="570.8" y1="287.06" x2="575.2" y2="287.06" stroke="#2e2eae" stroke-width="0.9"/>
<rect x="569.9" y="293.09" width="6.2" height="65.61" fill="none" stroke="#2e2eae" stroke-width="1.6"/>
<line x1="586" y1="305.9" x2="586" y2="302.19" stroke="#c8343c" stroke-width="0.9"/>
<line x1="583.8" y1="302.19" x2="588.2" y2="302.19" stroke="#c8343c" stroke-width="0.9"/>
<rect x="582.9" y="306.7" width="6.2" height="52" fill="none" stroke="#c8343c" stroke-width="1.6"/>
<line x1="607.4" y1="296.14" x2="607.4" y2="289.26" stroke="#2e2eae" stroke-width="0.9"/>
<line x1="605.2" y1="289.26" x2="609.6" y2="289.26" stroke="#2e2eae" stroke-width="0.9"/>
<rect x="604.3" y="296.94" width="6.2" height="61.76" fill="none" stroke="#2e2eae" stroke-width="1.6"/>
<line x1="620.1" y1="311.26" x2="620.1" y2="309.2" stroke="#c8343c" stroke-width="0.9"/>
<line x1="617.9" y1="309.2" x2="622.3" y2="309.2" stroke="#c8343c" stroke-width="0.9"/>
<rect x="616.7" y="312.06" width="6.8" height="46.64" fill="none" stroke="#c8343c" stroke-width="1.6"/>
<line x1="529.6" y1="275.7" x2="529.6" y2="359.3" stroke="#1a1a1a" stroke-width="1.2"/>
<line x1="529" y1="358.7" x2="628.9" y2="358.7" stroke="#1a1a1a" stroke-width="1.2"/>
<line x1="526.1" y1="358.7" x2="529.6" y2="358.7" stroke="#1a1a1a" stroke-width="1.1"/>
<text x="525.4" y="360.9" font-size="6.4" font-family="'Liberation Serif', serif" font-weight="bold" text-anchor="end" fill="#000" stroke="#000" stroke-width="0.14">0</text>
<line x1="526.1" y1="331.2" x2="529.6" y2="331.2" stroke="#1a1a1a" stroke-width="1.1"/>
<text x="525.4" y="333.4" font-size="6.4" font-family="'Liberation Serif', serif" font-weight="bold" text-anchor="end" fill="#000" stroke="#000" stroke-width="0.14">200</text>
<line x1="526.1" y1="303.7" x2="529.6" y2="303.7" stroke="#1a1a1a" stroke-width="1.1"/>
<text x="525.4" y="305.9" font-size="6.4" font-family="'Liberation Serif', serif" font-weight="bold" text-anchor="end" fill="#000" stroke="#000" stroke-width="0.14">400</text>
<line x1="526.1" y1="276.2" x2="529.6" y2="276.2" stroke="#1a1a1a" stroke-width="1.1"/>
<text x="525.4" y="278.4" font-size="6.4" font-family="'Liberation Serif', serif" font-weight="bold" text-anchor="end" fill="#000" stroke="#000" stroke-width="0.14">600</text>
<line x1="545.2" y1="358.7" x2="545.2" y2="361.5" stroke="#1a1a1a" stroke-width="1"/>
<text x="545.2" y="368.4" font-size="6.6" font-family="'Liberation Serif', serif" font-weight="bold" text-anchor="middle" fill="#000" stroke="#000" stroke-width="0.28">24H</text>
<line x1="579.5" y1="358.7" x2="579.5" y2="361.5" stroke="#1a1a1a" stroke-width="1"/>
<text x="579.5" y="368.4" font-size="6.6" font-family="'Liberation Serif', serif" font-weight="bold" text-anchor="middle" fill="#000" stroke="#000" stroke-width="0.28">Light</text>
<line x1="613.9" y1="358.7" x2="613.9" y2="361.5" stroke="#1a1a1a" stroke-width="1"/>
<text x="613.9" y="368.4" font-size="6.6" font-family="'Liberation Serif', serif" font-weight="bold" text-anchor="middle" fill="#000" stroke="#000" stroke-width="0.28">Dark</text>
<line x1="539.2" y1="281.9" x2="550.9" y2="281.9" stroke="#111" stroke-width="1.1"/>
<text x="545.05" y="280.6" font-size="6.6" font-family="'Liberation Serif', serif" font-weight="bold" text-anchor="middle" fill="#000" stroke="#000" stroke-width="0.28">*</text>
<line x1="573" y1="281.9" x2="584.7" y2="281.9" stroke="#111" stroke-width="1.1"/>
<text x="578.85" y="280.6" font-size="6.6" font-family="'Liberation Serif', serif" font-weight="bold" text-anchor="middle" fill="#000" stroke="#000" stroke-width="0.28">*</text>
<line x1="605.5" y1="281.9" x2="617.2" y2="281.9" stroke="#111" stroke-width="1.1"/>
<text x="611.35" y="280.6" font-size="6.6" font-family="'Liberation Serif', serif" font-weight="bold" text-anchor="middle" fill="#000" stroke="#000" stroke-width="0.28">*</text>
<text x="580" y="260.3" font-size="6.5" font-family="'Liberation Serif', serif" font-weight="bold" text-anchor="middle" fill="#000" stroke="#000" stroke-width="0.27">NREM</text>
<text x="509.7" y="316.9" font-size="6.9" font-family="'Liberation Serif', serif" font-weight="bold" text-anchor="middle" fill="#000" transform="rotate(-90 509.7 316.9)" textLength="72.4" lengthAdjust="spacingAndGlyphs" stroke="#000" stroke-width="0.29">NREM average length, s</text>
<rect x="632.3" y="271.2" width="8" height="2.2" fill="#7a7ad6" stroke="#2e2eae" stroke-width="1.3"/>
<rect x="632.3" y="282.4" width="8" height="2.2" fill="#e07a7e" stroke="#c8343c" stroke-width="1.3"/>
<text x="644.5" y="274.1" font-size="5.3" font-family="'Liberation Serif', serif" font-weight="bold" text-anchor="start" fill="#000" stroke="#000" stroke-width="0.13">10m-WT</text>
<text x="644.5" y="285.3" font-size="5.3" font-family="'Liberation Serif', serif" font-weight="bold" text-anchor="start" fill="#000" stroke="#000" stroke-width="0.13">10m-AD</text>
<rect x="431.9" y="403" width="31.5" height="82.5" fill="#e2e2e2"/>
<line x1="372.1" y1="446.07" x2="372.1" y2="442.44" stroke="#2e2eae" stroke-width="0.9"/>
<line x1="369.9" y1="442.44" x2="374.3" y2="442.44" stroke="#2e2eae" stroke-width="0.9"/>
<rect x="369.3" y="446.88" width="5.6" height="38.63" fill="none" stroke="#2e2eae" stroke-width="1.6"/>
<line x1="385" y1="449.6" x2="385" y2="446.07" stroke="#c8343c" stroke-width="0.9"/>
<line x1="382.8" y1="446.07" x2="387.2" y2="446.07" stroke="#c8343c" stroke-width="0.9"/>
<rect x="382" y="450.4" width="6" height="35.1" fill="none" stroke="#c8343c" stroke-width="1.6"/>
<line x1="406.5" y1="429.27" x2="406.5" y2="424.5" stroke="#2e2eae" stroke-width="0.9"/>
<line x1="404.3" y1="424.5" x2="408.7" y2="424.5" stroke="#2e2eae" stroke-width="0.9"/>
<rect x="403.5" y="430.07" width="6" height="55.43" fill="none" stroke="#2e2eae" stroke-width="1.6"/>
<line x1="419.55" y1="432.38" x2="419.55" y2="425.64" stroke="#c8343c" stroke-width="0.9"/>
<line x1="417.35" y1="425.64" x2="421.75" y2="425.64" stroke="#c8343c" stroke-width="0.9"/>
<rect x="416.4" y="433.18" width="6.3" height="52.32" fill="none" stroke="#c8343c" stroke-width="1.6"/>
<line x1="441.05" y1="462.78" x2="441.05" y2="459.15" stroke="#2e2eae" stroke-width="0.9"/>
<line x1="438.85" y1="459.15" x2="443.25" y2="459.15" stroke="#2e2eae" stroke-width="0.9"/>
<rect x="437.9" y="463.58" width="6.3" height="21.92" fill="none" stroke="#2e2eae" stroke-width="1.6"/>
<line x1="454.35" y1="467.55" x2="454.35" y2="464.75" stroke="#c8343c" stroke-width="0.9"/>
<line x1="452.15" y1="464.75" x2="456.55" y2="464.75" stroke="#c8343c" stroke-width="0.9"/>
<rect x="451.3" y="468.35" width="6.1" height="17.15" fill="none" stroke="#c8343c" stroke-width="1.6"/>
<line x1="362.5" y1="402" x2="362.5" y2="486.1" stroke="#1a1a1a" stroke-width="1.2"/>
<line x1="361.9" y1="485.5" x2="463.4" y2="485.5" stroke="#1a1a1a" stroke-width="1.2"/>
<line x1="359" y1="485.5" x2="362.5" y2="485.5" stroke="#1a1a1a" stroke-width="1.1"/>
<text x="358.3" y="487.7" font-size="6.4" font-family="'Liberation Serif', serif" font-weight="bold" text-anchor="end" fill="#000" stroke="#000" stroke-width="0.14">0</text>
<line x1="359" y1="464.75" x2="362.5" y2="464.75" stroke="#1a1a1a" stroke-width="1.1"/>
<text x="358.3" y="466.95" font-size="6.4" font-family="'Liberation Serif', serif" font-weight="bold" text-anchor="end" fill="#000" stroke="#000" stroke-width="0.14">2</text>
<line x1="359" y1="444" x2="362.5" y2="444" stroke="#1a1a1a" stroke-width="1.1"/>
<text x="358.3" y="446.2" font-size="6.4" font-family="'Liberation Serif', serif" font-weight="bold" text-anchor="end" fill="#000" stroke="#000" stroke-width="0.14">4</text>
<line x1="359" y1="423.25" x2="362.5" y2="423.25" stroke="#1a1a1a" stroke-width="1.1"/>
<text x="358.3" y="425.45" font-size="6.4" font-family="'Liberation Serif', serif" font-weight="bold" text-anchor="end" fill="#000" stroke="#000" stroke-width="0.14">6</text>
<line x1="359" y1="402.5" x2="362.5" y2="402.5" stroke="#1a1a1a" stroke-width="1.1"/>
<text x="358.3" y="404.7" font-size="6.4" font-family="'Liberation Serif', serif" font-weight="bold" text-anchor="end" fill="#000" stroke="#000" stroke-width="0.14">8</text>
<line x1="378.6" y1="485.5" x2="378.6" y2="488.3" stroke="#1a1a1a" stroke-width="1"/>
<text x="378.6" y="495" font-size="6.6" font-family="'Liberation Serif', serif" font-weight="bold" text-anchor="middle" fill="#000" stroke="#000" stroke-width="0.28">24H</text>
<line x1="412.7" y1="485.5" x2="412.7" y2="488.3" stroke="#1a1a1a" stroke-width="1"/>
<text x="412.7" y="495" font-size="6.6" font-family="'Liberation Serif', serif" font-weight="bold" text-anchor="middle" fill="#000" stroke="#000" stroke-width="0.28">Light</text>
<line x1="447.4" y1="485.5" x2="447.4" y2="488.3" stroke="#1a1a1a" stroke-width="1"/>
<text x="447.4" y="495" font-size="6.6" font-family="'Liberation Serif', serif" font-weight="bold" text-anchor="middle" fill="#000" stroke="#000" stroke-width="0.28">Dark</text>
<text x="407.3" y="389" font-size="6.5" font-family="'Liberation Serif', serif" font-weight="bold" text-anchor="middle" fill="#000" stroke="#000" stroke-width="0.27">REM</text>
<text x="349.1" y="445.2" font-size="6.9" font-family="'Liberation Serif', serif" font-weight="bold" text-anchor="middle" fill="#000" transform="rotate(-90 349.1 445.2)" textLength="79.1" lengthAdjust="spacingAndGlyphs" stroke="#000" stroke-width="0.29">REM spend in each stage, %</text>
<rect x="465.7" y="399.7" width="6.5" height="2.2" fill="#7a7ad6" stroke="#2e2eae" stroke-width="1.3"/>
<rect x="465.7" y="409.8" width="6.5" height="2.2" fill="#e07a7e" stroke="#c8343c" stroke-width="1.3"/>
<text x="477.3" y="402.6" font-size="5.3" font-family="'Liberation Serif', serif" font-weight="bold" text-anchor="start" fill="#000" stroke="#000" stroke-width="0.13">10m-WT</text>
<text x="477.3" y="412.7" font-size="5.3" font-family="'Liberation Serif', serif" font-weight="bold" text-anchor="start" fill="#000" stroke="#000" stroke-width="0.13">10m-AD</text>
<rect x="592" y="400.2" width="36.4" height="84.6" fill="#e2e2e2"/>
<line x1="538.55" y1="434.75" x2="538.55" y2="431.73" stroke="#2e2eae" stroke-width="0.9"/>
<line x1="536.35" y1="431.73" x2="540.75" y2="431.73" stroke="#2e2eae" stroke-width="0.9"/>
<rect x="535.3" y="435.55" width="6.5" height="49.25" fill="none" stroke="#2e2eae" stroke-width="1.6"/>
<line x1="551.3" y1="434.75" x2="551.3" y2="431.18" stroke="#c8343c" stroke-width="0.9"/>
<line x1="549.1" y1="431.18" x2="553.5" y2="431.18" stroke="#c8343c" stroke-width="0.9"/>
<rect x="547.8" y="435.55" width="7" height="49.25" fill="none" stroke="#c8343c" stroke-width="1.6"/>
<line x1="573" y1="432.72" x2="573" y2="428.31" stroke="#2e2eae" stroke-width="0.9"/>
<line x1="570.8" y1="428.31" x2="575.2" y2="428.31" stroke="#2e2eae" stroke-width="0.9"/>
<rect x="569.9" y="433.52" width="6.2" height="51.28" fill="none" stroke="#2e2eae" stroke-width="1.6"/>
<line x1="585.75" y1="433.49" x2="585.75" y2="430.07" stroke="#c8343c" stroke-width="0.9"/>
<line x1="583.55" y1="430.07" x2="587.95" y2="430.07" stroke="#c8343c" stroke-width="0.9"/>
<rect x="582.4" y="434.29" width="6.7" height="50.52" fill="none" stroke="#c8343c" stroke-width="1.6"/>
<line x1="607.5" y1="437.39" x2="607.5" y2="433.1" stroke="#2e2eae" stroke-width="0.9"/>
<line x1="605.3" y1="433.1" x2="609.7" y2="433.1" stroke="#2e2eae" stroke-width="0.9"/>
<rect x="604.5" y="438.19" width="6" height="46.61" fill="none" stroke="#2e2eae" stroke-width="1.6"/>
<line x1="620.2" y1="438.22" x2="620.2" y2="433.1" stroke="#c8343c" stroke-width="0.9"/>
<line x1="618" y1="433.1" x2="622.4" y2="433.1" stroke="#c8343c" stroke-width="0.9"/>
<rect x="616.7" y="439.02" width="7" height="45.78" fill="none" stroke="#c8343c" stroke-width="1.6"/>
<line x1="529.6" y1="401.8" x2="529.6" y2="485.4" stroke="#1a1a1a" stroke-width="1.2"/>
<line x1="529" y1="484.8" x2="628.4" y2="484.8" stroke="#1a1a1a" stroke-width="1.2"/>
<line x1="526.1" y1="484.8" x2="529.6" y2="484.8" stroke="#1a1a1a" stroke-width="1.1"/>
<text x="525.4" y="487" font-size="6.4" font-family="'Liberation Serif', serif" font-weight="bold" text-anchor="end" fill="#000" stroke="#000" stroke-width="0.14">0</text>
<line x1="526.1" y1="457.3" x2="529.6" y2="457.3" stroke="#1a1a1a" stroke-width="1.1"/>
<text x="525.4" y="459.5" font-size="6.4" font-family="'Liberation Serif', serif" font-weight="bold" text-anchor="end" fill="#000" stroke="#000" stroke-width="0.14">50</text>
<line x1="526.1" y1="429.8" x2="529.6" y2="429.8" stroke="#1a1a1a" stroke-width="1.1"/>
<text x="525.4" y="432" font-size="6.4" font-family="'Liberation Serif', serif" font-weight="bold" text-anchor="end" fill="#000" stroke="#000" stroke-width="0.14">100</text>
<line x1="526.1" y1="402.3" x2="529.6" y2="402.3" stroke="#1a1a1a" stroke-width="1.1"/>
<text x="525.4" y="404.5" font-size="6.4" font-family="'Liberation Serif', serif" font-weight="bold" text-anchor="end" fill="#000" stroke="#000" stroke-width="0.14">150</text>
<line x1="545" y1="484.8" x2="545" y2="487.6" stroke="#1a1a1a" stroke-width="1"/>
<text x="545" y="494.6" font-size="6.6" font-family="'Liberation Serif', serif" font-weight="bold" text-anchor="middle" fill="#000" stroke="#000" stroke-width="0.28">24H</text>
<line x1="579.5" y1="484.8" x2="579.5" y2="487.6" stroke="#1a1a1a" stroke-width="1"/>
<text x="579.5" y="494.6" font-size="6.6" font-family="'Liberation Serif', serif" font-weight="bold" text-anchor="middle" fill="#000" stroke="#000" stroke-width="0.28">Light</text>
<line x1="614.1" y1="484.8" x2="614.1" y2="487.6" stroke="#1a1a1a" stroke-width="1"/>
<text x="614.1" y="494.6" font-size="6.6" font-family="'Liberation Serif', serif" font-weight="bold" text-anchor="middle" fill="#000" stroke="#000" stroke-width="0.28">Dark</text>
<text x="580" y="388.6" font-size="6.5" font-family="'Liberation Serif', serif" font-weight="bold" text-anchor="middle" fill="#000" stroke="#000" stroke-width="0.27">REM</text>
<text x="510.3" y="443.5" font-size="6.9" font-family="'Liberation Serif', serif" font-weight="bold" text-anchor="middle" fill="#000" transform="rotate(-90 510.3 443.5)" textLength="65.7" lengthAdjust="spacingAndGlyphs" stroke="#000" stroke-width="0.29">REM average length, s</text>
<rect x="632.6" y="401.2" width="9.1" height="2.2" fill="#7a7ad6" stroke="#2e2eae" stroke-width="1.3"/>
<rect x="632.6" y="412.1" width="9.1" height="2.2" fill="#e07a7e" stroke="#c8343c" stroke-width="1.3"/>
<text x="645.3" y="404.1" font-size="5.3" font-family="'Liberation Serif', serif" font-weight="bold" text-anchor="start" fill="#000" stroke="#000" stroke-width="0.13">10m-WT</text>
<text x="645.3" y="415" font-size="5.3" font-family="'Liberation Serif', serif" font-weight="bold" text-anchor="start" fill="#000" stroke="#000" stroke-width="0.13">10m-AD</text>
<rect x="31.96" y="530.6" width="22.16" height="71.5" fill="#d1dbf0"/>
<rect x="54.12" y="530.6" width="25.32" height="71.5" fill="#f9ddd0"/>
<rect x="79.44" y="530.6" width="31.65" height="71.5" fill="#fdf0cd"/>
<rect x="111.09" y="530.6" width="44.31" height="71.5" fill="#dfedd5"/>
<text x="40.2" y="539.8" font-size="10.5" font-family="'Liberation Serif', serif" font-weight="normal" text-anchor="middle" fill="#22408e" stroke="#22408e" stroke-width="0.2">&#948;</text>
<text x="64.8" y="539.8" font-size="10.5" font-family="'Liberation Serif', serif" font-weight="normal" text-anchor="middle" fill="#c8521e" stroke="#c8521e" stroke-width="0.2">&#952;</text>
<text x="94.5" y="539.8" font-size="10.5" font-family="'Liberation Serif', serif" font-weight="normal" text-anchor="middle" fill="#cf9514" stroke="#cf9514" stroke-width="0.2">&#945;</text>
<text x="134.7" y="539.8" font-size="10.5" font-family="'Liberation Serif', serif" font-weight="normal" text-anchor="middle" fill="#4a8e30" stroke="#4a8e30" stroke-width="0.2">&#946;</text>
<text x="31.8" y="529.8" font-size="5.6" font-family="'Liberation Serif', serif" font-weight="bold" text-anchor="start" fill="#000" stroke="#000" stroke-width="0.14">Light</text>
<polyline points="28.8,602.1 29.56,599.21 30.32,595.62 31.08,590.74 31.84,585.91 32.6,580.24 33.36,575.58 34.12,569.79 34.88,567.01 35.64,564.59 36.4,562.65 37.16,562.04 37.92,560.6 38.67,560.38 39.43,559.71 40.19,558.56 40.95,557.07 41.71,556.87 42.47,555.09 43.23,552.31 43.99,549.64 44.75,548.22 45.51,546.58 46.27,545.09 47.03,547.64 47.79,549.74 48.55,553.02 49.31,555.67 50.07,557.45 50.83,558.86 51.59,559.51 52.35,561.26 53.11,561.6 53.87,562.34 54.63,563.45 55.39,564.05 56.15,565.19 56.91,565.78 57.66,566.2 58.42,566.24 59.18,567.14 59.94,568.12 60.7,568.66 61.46,569.67 62.22,570.7 62.98,570.98 63.74,571.56 64.5,572.56 65.26,572.66 66.02,573.19 66.78,573.27 67.54,573.49 68.3,573.91 69.06,573.03 69.82,573.93 70.58,573.54 71.34,573.11 72.1,573.76 72.86,573.33 73.62,573.95 74.38,573.74 75.14,574.15 75.9,574.88 76.65,575.06 77.41,576.26 78.17,576.46 78.93,577.18 79.69,577.81 80.45,578.55 81.21,578.78 81.97,579.3 82.73,580.39 83.49,580.83 84.25,582.02 85.01,582.05 85.77,582.73 86.53,582.84 87.29,583.42 88.05,584.3 88.81,584.63 89.57,584.81 90.33,585.77 91.09,585.86 91.85,586.56 92.61,587.05 93.37,587.55 94.13,587.46 94.89,588.36 95.64,588.55 96.4,588.72 97.16,588.65 97.92,589.51 98.68,589.52 99.44,589.73 100.2,589.77 100.96,590.1 101.72,590.34 102.48,590.98 103.24,591.11 104,591.38 104.76,591.26 105.52,591.45 106.28,592.21 107.04,592.42 107.8,592.61 108.56,592.82 109.32,592.86 110.08,593 110.84,593.4 111.6,593.76 112.36,593.71 113.12,593.94 113.88,594.02 114.63,593.97 115.39,594.28 116.15,594.54 116.91,594.63 117.67,594.75 118.43,595.27 119.19,594.94 119.95,595.16 120.71,595.26 121.47,595.46 122.23,595.84 122.99,595.99 123.75,596.3 124.51,596.13 125.27,596.55 126.03,596.67 126.79,596.7 127.55,596.84 128.31,596.86 129.07,597.13 129.83,597.27 130.59,597.31 131.35,597.45 132.11,597.43 132.87,597.71 133.62,597.37 134.38,597.56 135.14,597.85 135.9,597.86 136.66,597.87 137.42,597.92 138.18,598.09 138.94,597.79 139.7,597.78 140.46,598.13 141.22,598.21 141.98,598.49 142.74,598.56 143.5,598.53 144.26,598.66 145.02,598.48 145.78,598.88 146.54,599.01 147.3,598.63 148.06,598.89 148.82,599.13 149.58,599.01 150.34,599.31 151.1,599.14 151.86,598.99 152.61,599.11 153.37,599.25 154.13,599.51 154.89,599.52" fill="none" stroke="#d03030" stroke-width="1.2" stroke-linejoin="round"/>
<polyline points="28.8,602.1 29.56,598.64 30.32,594.12 31.08,587.74 31.84,581.55 32.6,576.57 33.36,571.38 34.12,568.43 34.88,565.09 35.64,561.34 36.4,558.25 37.16,555.7 37.92,553.95 38.67,552.14 39.43,550.47 40.19,549.4 40.95,547.4 41.71,545.81 42.47,544.2 43.23,542.22 43.99,541.91 44.75,543.05 45.51,544.48 46.27,546.66 47.03,549.79 47.79,550.7 48.55,551.9 49.31,553.2 50.07,555.12 50.83,556.52 51.59,557.15 52.35,557.7 53.11,558.21 53.87,558.4 54.63,558.85 55.39,559.7 56.15,560.9 56.91,561.52 57.66,562.17 58.42,563.82 59.18,563.98 59.94,564.45 60.7,565.35 61.46,566.15 62.22,567.22 62.98,568.32 63.74,568.16 64.5,569.24 65.26,569.25 66.02,569.6 66.78,570.82 67.54,570.79 68.3,569.95 69.06,570.02 69.82,570.53 70.58,570.47 71.34,570.66 72.1,570.02 72.86,570.45 73.62,571.64 74.38,571.33 75.14,571.75 75.9,572.72 76.65,573.66 77.41,574.03 78.17,575.09 78.93,575.8 79.69,575.35 80.45,576.28 81.21,577 81.97,577.17 82.73,578.25 83.49,578.38 84.25,579 85.01,580.17 85.77,580.69 86.53,581.13 87.29,581.65 88.05,581.8 88.81,582.57 89.57,582.9 90.33,583.63 91.09,583.37 91.85,584.28 92.61,584.61 93.37,584.93 94.13,585.09 94.89,585.88 95.64,585.74 96.4,586.34 97.16,586.58 97.92,586.85 98.68,587.51 99.44,587.45 100.2,587.91 100.96,588.31 101.72,587.96 102.48,588.63 103.24,588.61 104,588.62 104.76,588.95 105.52,589.32 106.28,589.38 107.04,589.56 107.8,589.6 108.56,590.28 109.32,590.16 110.08,590.58 110.84,590.76 111.6,590.62 112.36,591.01 113.12,591.17 113.88,591.24 114.63,591.33 115.39,591.82 116.15,591.88 116.91,592.12 117.67,592.29 118.43,592.35 119.19,592.67 119.95,592.8 120.71,593 121.47,592.89 122.23,593.21 122.99,593.28 123.75,593.41 124.51,593.94 125.27,593.88 126.03,593.76 126.79,593.94 127.55,594.48 128.31,594.6 129.07,594.52 129.83,594.86 130.59,594.87 131.35,595.08 132.11,594.85 132.87,594.91 133.62,594.94 134.38,595.45 135.14,595.22 135.9,595.34 136.66,595.72 137.42,595.39 138.18,595.43 138.94,595.93 139.7,595.61 140.46,596 141.22,596.04 141.98,595.85 142.74,596.03 143.5,596.48 144.26,596.42 145.02,596.46 145.78,596.64 146.54,596.78 147.3,596.77 148.06,596.61 148.82,597.04 149.58,596.82 150.34,596.94 151.1,597.21 151.86,597.11 152.61,597.01 153.37,597.13 154.13,597.42 154.89,597" fill="none" stroke="#2a2ab4" stroke-width="1.2" stroke-linejoin="round"/>
<line x1="28.6" y1="529.5" x2="28.6" y2="602.7" stroke="#1a1a1a" stroke-width="1.2"/>
<line x1="28" y1="602.1" x2="156" y2="602.1" stroke="#1a1a1a" stroke-width="1.2"/>
<line x1="25.1" y1="602.1" x2="28.6" y2="602.1" stroke="#1a1a1a" stroke-width="1.1"/>
<text x="24.4" y="604.3" font-size="6.4" font-family="'Liberation Serif', serif" font-weight="bold" text-anchor="end" fill="#000" stroke="#000" stroke-width="0.14">0</text>
<line x1="25.1" y1="578.05" x2="28.6" y2="578.05" stroke="#1a1a1a" stroke-width="1.1"/>
<text x="24.4" y="580.25" font-size="6.4" font-family="'Liberation Serif', serif" font-weight="bold" text-anchor="end" fill="#000" stroke="#000" stroke-width="0.14">50</text>
<line x1="25.1" y1="554" x2="28.6" y2="554" stroke="#1a1a1a" stroke-width="1.1"/>
<text x="24.4" y="556.2" font-size="6.4" font-family="'Liberation Serif', serif" font-weight="bold" text-anchor="end" fill="#000" stroke="#000" stroke-width="0.14">100</text>
<line x1="25.1" y1="529.95" x2="28.6" y2="529.95" stroke="#1a1a1a" stroke-width="1.1"/>
<text x="24.4" y="532.15" font-size="6.4" font-family="'Liberation Serif', serif" font-weight="bold" text-anchor="end" fill="#000" stroke="#000" stroke-width="0.14">150</text>
<line x1="44.62" y1="602.1" x2="44.62" y2="604.9" stroke="#1a1a1a" stroke-width="1"/>
<text x="46.42" y="610.5" font-size="5.7" font-family="'Liberation Serif', serif" font-weight="bold" text-anchor="end" fill="#000" transform="rotate(-45 46.42 610.5)" stroke="#000" stroke-width="0.14">2.5</text>
<line x1="60.45" y1="602.1" x2="60.45" y2="604.9" stroke="#1a1a1a" stroke-width="1"/>
<text x="62.25" y="610.5" font-size="5.7" font-family="'Liberation Serif', serif" font-weight="bold" text-anchor="end" fill="#000" transform="rotate(-45 62.25 610.5)" stroke="#000" stroke-width="0.14">5</text>
<line x1="76.28" y1="602.1" x2="76.28" y2="604.9" stroke="#1a1a1a" stroke-width="1"/>
<text x="78.08" y="610.5" font-size="5.7" font-family="'Liberation Serif', serif" font-weight="bold" text-anchor="end" fill="#000" transform="rotate(-45 78.08 610.5)" stroke="#000" stroke-width="0.14">7.5</text>
<line x1="92.1" y1="602.1" x2="92.1" y2="604.9" stroke="#1a1a1a" stroke-width="1"/>
<text x="93.9" y="610.5" font-size="5.7" font-family="'Liberation Serif', serif" font-weight="bold" text-anchor="end" fill="#000" transform="rotate(-45 93.9 610.5)" stroke="#000" stroke-width="0.14">10</text>
<line x1="107.92" y1="602.1" x2="107.92" y2="604.9" stroke="#1a1a1a" stroke-width="1"/>
<text x="109.72" y="610.5" font-size="5.7" font-family="'Liberation Serif', serif" font-weight="bold" text-anchor="end" fill="#000" transform="rotate(-45 109.72 610.5)" stroke="#000" stroke-width="0.14">12.5</text>
<line x1="123.75" y1="602.1" x2="123.75" y2="604.9" stroke="#1a1a1a" stroke-width="1"/>
<text x="125.55" y="610.5" font-size="5.7" font-family="'Liberation Serif', serif" font-weight="bold" text-anchor="end" fill="#000" transform="rotate(-45 125.55 610.5)" stroke="#000" stroke-width="0.14">15</text>
<line x1="139.58" y1="602.1" x2="139.58" y2="604.9" stroke="#1a1a1a" stroke-width="1"/>
<text x="141.38" y="610.5" font-size="5.7" font-family="'Liberation Serif', serif" font-weight="bold" text-anchor="end" fill="#000" transform="rotate(-45 141.38 610.5)" stroke="#000" stroke-width="0.14">17.5</text>
<line x1="155.4" y1="602.1" x2="155.4" y2="604.9" stroke="#1a1a1a" stroke-width="1"/>
<text x="157.2" y="610.5" font-size="5.7" font-family="'Liberation Serif', serif" font-weight="bold" text-anchor="end" fill="#000" transform="rotate(-45 157.2 610.5)" stroke="#000" stroke-width="0.14">20</text>
<text x="95.3" y="521.6" font-size="6.7" font-family="'Liberation Serif', serif" font-weight="bold" text-anchor="middle" fill="#000" stroke="#000" stroke-width="0.28">NREM</text>
<text x="89" y="627.2" font-size="6.6" font-family="'Liberation Serif', serif" font-weight="bold" text-anchor="middle" fill="#000" stroke="#000" stroke-width="0.28">Frequency, Hz</text>
<text x="10.5" y="565.4" font-size="6.6" font-family="'Liberation Serif', serif" font-weight="bold" text-anchor="middle" fill="#000" transform="rotate(-90 10.5 565.4)" textLength="35.6" lengthAdjust="spacingAndGlyphs" stroke="#000" stroke-width="0.28">Power, &#956;V^2</text>
<rect x="192.38" y="532.4" width="22.24" height="73" fill="#d1dbf0"/>
<rect x="214.62" y="532.4" width="25.42" height="73" fill="#f9ddd0"/>
<rect x="240.04" y="532.4" width="31.78" height="73" fill="#fdf0cd"/>
<rect x="271.81" y="532.4" width="44.49" height="73" fill="#dfedd5"/>
<text x="201.9" y="542.3" font-size="10.5" font-family="'Liberation Serif', serif" font-weight="normal" text-anchor="middle" fill="#22408e" stroke="#22408e" stroke-width="0.2">&#948;</text>
<text x="226.6" y="542.3" font-size="10.5" font-family="'Liberation Serif', serif" font-weight="normal" text-anchor="middle" fill="#c8521e" stroke="#c8521e" stroke-width="0.2">&#952;</text>
<text x="256.6" y="542.3" font-size="10.5" font-family="'Liberation Serif', serif" font-weight="normal" text-anchor="middle" fill="#cf9514" stroke="#cf9514" stroke-width="0.2">&#945;</text>
<text x="296.7" y="542.3" font-size="10.5" font-family="'Liberation Serif', serif" font-weight="normal" text-anchor="middle" fill="#4a8e30" stroke="#4a8e30" stroke-width="0.2">&#946;</text>
<text x="192.5" y="532.2" font-size="5.6" font-family="'Liberation Serif', serif" font-weight="bold" text-anchor="start" fill="#000" stroke="#000" stroke-width="0.14">Dark</text>
<polyline points="189.2,605.4 189.96,604.34 190.73,602.05 191.49,599.79 192.25,597.57 193.01,595.5 193.78,593.02 194.54,592.09 195.3,589.76 196.06,587.47 196.83,586.66 197.59,584.84 198.35,583.81 199.11,583.56 199.88,582.19 200.64,580.83 201.4,580.12 202.16,578.46 202.93,577.82 203.69,576.39 204.45,575.22 205.21,567.72 205.98,557.45 206.74,549.35 207.5,554.84 208.26,563.92 209.03,572.42 209.79,576.1 210.55,577.04 211.32,577.74 212.08,578.62 212.84,579.27 213.6,579.96 214.37,580.02 215.13,580.37 215.89,580.56 216.65,580.36 217.42,581.56 218.18,581.17 218.94,581.64 219.7,583.1 220.47,583.16 221.23,583.47 221.99,584.61 222.75,584.7 223.52,584.68 224.28,586.24 225.04,586.22 225.8,587.38 226.57,587.4 227.33,587.02 228.09,587.78 228.86,587.92 229.62,587.74 230.38,587.08 231.14,587.63 231.91,587.62 232.67,587.27 233.43,586.91 234.19,587.68 234.96,587.86 235.72,587.72 236.48,588.63 237.24,588.46 238.01,589.36 238.77,589.27 239.53,589.3 240.29,590.74 241.06,590.6 241.82,590.92 242.58,591.76 243.34,591.98 244.11,591.57 244.87,591.93 245.63,593.16 246.39,592.93 247.16,593.05 247.92,594.09 248.68,594.06 249.45,594.88 250.21,594.88 250.97,594.91 251.73,595.28 252.5,595.43 253.26,596.32 254.02,596.39 254.78,596.27 255.55,596.73 256.31,597.05 257.07,597.3 257.83,597.06 258.6,597.6 259.36,598.23 260.12,597.86 260.88,598.42 261.65,598.55 262.41,598.92 263.17,598.92 263.93,599.17 264.7,599.5 265.46,599.3 266.22,599.82 266.99,599.53 267.75,600.21 268.51,599.87 269.27,600.03 270.04,600.4 270.8,600.43 271.56,600.89 272.32,600.7 273.09,600.98 273.85,601.19 274.61,600.83 275.37,601.26 276.14,601.37 276.9,601.16 277.66,601.54 278.42,601.46 279.19,601.84 279.95,601.53 280.71,601.96 281.47,602.16 282.24,601.7 283,602.22 283.76,601.84 284.52,601.88 285.29,602.16 286.05,602.55 286.81,602.58 287.58,602.56 288.34,602.52 289.1,602.46 289.86,602.33 290.63,602.73 291.39,602.9 292.15,602.74 292.91,603.01 293.68,603.09 294.44,602.89 295.2,602.86 295.96,603.24 296.73,603.09 297.49,603.01 298.25,603.03 299.01,603.27 299.78,603.06 300.54,603.47 301.3,603.25 302.06,603.27 302.83,603.26 303.59,603.5 304.35,603.74 305.12,603.8 305.88,603.59 306.64,603.8 307.4,603.61 308.17,603.91 308.93,603.61 309.69,603.92 310.45,604.05 311.22,604.01 311.98,603.91 312.74,603.89 313.5,604.01 314.27,604.15 315.03,604.04 315.79,603.85" fill="none" stroke="#d03030" stroke-width="1.2" stroke-linejoin="round"/>
<polyline points="189.2,605.4 189.96,604.23 190.73,601.6 191.49,598.95 192.25,595.98 193.01,594.17 193.78,590.38 194.54,587.64 195.3,585.26 196.06,582.93 196.83,580.78 197.59,578.19 198.35,577.09 199.11,574.96 199.88,573.81 200.64,572.83 201.4,571.05 202.16,569.83 202.93,569.36 203.69,567.4 204.45,564.87 205.21,561.43 205.98,557.42 206.74,562.57 207.5,566.36 208.26,569.93 209.03,571.18 209.79,572.91 210.55,572.81 211.32,573.54 212.08,574.29 212.84,574.6 213.6,576.24 214.37,576.17 215.13,576.76 215.89,577.3 216.65,578.18 217.42,579.16 218.18,579.56 218.94,579.61 219.7,580.69 220.47,581.39 221.23,581.59 221.99,582.21 222.75,582.91 223.52,584.32 224.28,584.19 225.04,585.51 225.8,585.74 226.57,587.48 227.33,586.3 228.09,586.57 228.86,585.92 229.62,585.77 230.38,585.86 231.14,586.65 231.91,586.44 232.67,586.78 233.43,586.3 234.19,587.26 234.96,587.49 235.72,587.89 236.48,588.19 237.24,587.58 238.01,587.94 238.77,589.05 239.53,589.02 240.29,589.73 241.06,590.06 241.82,590.61 242.58,590.7 243.34,591.5 244.11,591.86 244.87,591.96 245.63,592.66 246.39,592.79 247.16,592.67 247.92,593.95 248.68,594.24 249.45,593.96 250.21,594.95 250.97,595.06 251.73,594.81 252.5,595.32 253.26,595.94 254.02,596.36 254.78,596.46 255.55,596.67 256.31,596.48 257.07,596.55 257.83,596.92 258.6,597.05 259.36,597.24 260.12,597.5 260.88,597.68 261.65,597.87 262.41,598.72 263.17,598.72 263.93,598.93 264.7,598.84 265.46,599.08 266.22,599.34 266.99,599.17 267.75,599.63 268.51,599.92 269.27,600.04 270.04,600.08 270.8,600.15 271.56,600.34 272.32,600.53 273.09,600.77 273.85,600.72 274.61,600.85 275.37,601.02 276.14,600.87 276.9,601.17 277.66,600.93 278.42,601.05 279.19,601.45 279.95,601.23 280.71,601.49 281.47,601.5 282.24,601.46 283,601.42 283.76,601.4 284.52,601.54 285.29,601.89 286.05,601.75 286.81,601.92 287.58,602.15 288.34,601.9 289.1,602 289.86,601.83 290.63,602.18 291.39,601.95 292.15,602.18 292.91,602.47 293.68,602.18 294.44,602.48 295.2,602.4 295.96,602.71 296.73,602.8 297.49,602.37 298.25,602.9 299.01,602.9 299.78,602.95 300.54,603.04 301.3,602.72 302.06,602.69 302.83,602.93 303.59,603.12 304.35,602.9 305.12,603.13 305.88,603.36 306.64,603.11 307.4,603.31 308.17,603.39 308.93,603.4 309.69,603.4 310.45,603.54 311.22,603.36 311.98,603.27 312.74,603.45 313.5,603.76 314.27,603.46 315.03,603.83 315.79,603.64" fill="none" stroke="#2a2ab4" stroke-width="1.2" stroke-linejoin="round"/>
<line x1="189.2" y1="531.9" x2="189.2" y2="606" stroke="#1a1a1a" stroke-width="1.2"/>
<line x1="188.6" y1="605.4" x2="316.9" y2="605.4" stroke="#1a1a1a" stroke-width="1.2"/>
<line x1="185.7" y1="605.4" x2="189.2" y2="605.4" stroke="#1a1a1a" stroke-width="1.1"/>
<text x="185" y="607.6" font-size="6.4" font-family="'Liberation Serif', serif" font-weight="bold" text-anchor="end" fill="#000" stroke="#000" stroke-width="0.14">0</text>
<line x1="185.7" y1="590.8" x2="189.2" y2="590.8" stroke="#1a1a1a" stroke-width="1.1"/>
<text x="185" y="593" font-size="6.4" font-family="'Liberation Serif', serif" font-weight="bold" text-anchor="end" fill="#000" stroke="#000" stroke-width="0.14">50</text>
<line x1="185.7" y1="576.2" x2="189.2" y2="576.2" stroke="#1a1a1a" stroke-width="1.1"/>
<text x="185" y="578.4" font-size="6.4" font-family="'Liberation Serif', serif" font-weight="bold" text-anchor="end" fill="#000" stroke="#000" stroke-width="0.14">100</text>
<line x1="185.7" y1="561.6" x2="189.2" y2="561.6" stroke="#1a1a1a" stroke-width="1.1"/>
<text x="185" y="563.8" font-size="6.4" font-family="'Liberation Serif', serif" font-weight="bold" text-anchor="end" fill="#000" stroke="#000" stroke-width="0.14">150</text>
<line x1="185.7" y1="547" x2="189.2" y2="547" stroke="#1a1a1a" stroke-width="1.1"/>
<text x="185" y="549.2" font-size="6.4" font-family="'Liberation Serif', serif" font-weight="bold" text-anchor="end" fill="#000" stroke="#000" stroke-width="0.14">200</text>
<line x1="185.7" y1="532.4" x2="189.2" y2="532.4" stroke="#1a1a1a" stroke-width="1.1"/>
<text x="185" y="534.6" font-size="6.4" font-family="'Liberation Serif', serif" font-weight="bold" text-anchor="end" fill="#000" stroke="#000" stroke-width="0.14">250</text>
<line x1="205.09" y1="605.4" x2="205.09" y2="608.2" stroke="#1a1a1a" stroke-width="1"/>
<text x="206.89" y="613.8" font-size="5.7" font-family="'Liberation Serif', serif" font-weight="bold" text-anchor="end" fill="#000" transform="rotate(-45 206.89 613.8)" stroke="#000" stroke-width="0.14">2.5</text>
<line x1="220.97" y1="605.4" x2="220.97" y2="608.2" stroke="#1a1a1a" stroke-width="1"/>
<text x="222.78" y="613.8" font-size="5.7" font-family="'Liberation Serif', serif" font-weight="bold" text-anchor="end" fill="#000" transform="rotate(-45 222.78 613.8)" stroke="#000" stroke-width="0.14">5</text>
<line x1="236.86" y1="605.4" x2="236.86" y2="608.2" stroke="#1a1a1a" stroke-width="1"/>
<text x="238.66" y="613.8" font-size="5.7" font-family="'Liberation Serif', serif" font-weight="bold" text-anchor="end" fill="#000" transform="rotate(-45 238.66 613.8)" stroke="#000" stroke-width="0.14">7.5</text>
<line x1="252.75" y1="605.4" x2="252.75" y2="608.2" stroke="#1a1a1a" stroke-width="1"/>
<text x="254.55" y="613.8" font-size="5.7" font-family="'Liberation Serif', serif" font-weight="bold" text-anchor="end" fill="#000" transform="rotate(-45 254.55 613.8)" stroke="#000" stroke-width="0.14">10</text>
<line x1="268.64" y1="605.4" x2="268.64" y2="608.2" stroke="#1a1a1a" stroke-width="1"/>
<text x="270.44" y="613.8" font-size="5.7" font-family="'Liberation Serif', serif" font-weight="bold" text-anchor="end" fill="#000" transform="rotate(-45 270.44 613.8)" stroke="#000" stroke-width="0.14">12.5</text>
<line x1="284.52" y1="605.4" x2="284.52" y2="608.2" stroke="#1a1a1a" stroke-width="1"/>
<text x="286.32" y="613.8" font-size="5.7" font-family="'Liberation Serif', serif" font-weight="bold" text-anchor="end" fill="#000" transform="rotate(-45 286.32 613.8)" stroke="#000" stroke-width="0.14">15</text>
<line x1="300.41" y1="605.4" x2="300.41" y2="608.2" stroke="#1a1a1a" stroke-width="1"/>
<text x="302.21" y="613.8" font-size="5.7" font-family="'Liberation Serif', serif" font-weight="bold" text-anchor="end" fill="#000" transform="rotate(-45 302.21 613.8)" stroke="#000" stroke-width="0.14">17.5</text>
<line x1="316.3" y1="605.4" x2="316.3" y2="608.2" stroke="#1a1a1a" stroke-width="1"/>
<text x="318.1" y="613.8" font-size="5.7" font-family="'Liberation Serif', serif" font-weight="bold" text-anchor="end" fill="#000" transform="rotate(-45 318.1 613.8)" stroke="#000" stroke-width="0.14">20</text>
<text x="256.5" y="524.9" font-size="6.7" font-family="'Liberation Serif', serif" font-weight="bold" text-anchor="middle" fill="#000" stroke="#000" stroke-width="0.28">NREM</text>
<text x="250.2" y="630.2" font-size="6.6" font-family="'Liberation Serif', serif" font-weight="bold" text-anchor="middle" fill="#000" stroke="#000" stroke-width="0.28">Frequency, Hz</text>
<text x="171.2" y="568.4" font-size="6.6" font-family="'Liberation Serif', serif" font-weight="bold" text-anchor="middle" fill="#000" transform="rotate(-90 171.2 568.4)" textLength="34.9" lengthAdjust="spacingAndGlyphs" stroke="#000" stroke-width="0.28">Power, &#956;V^2</text>
<rect x="351.18" y="533" width="22.22" height="72.4" fill="#d1dbf0"/>
<rect x="373.4" y="533" width="25.4" height="72.4" fill="#f9ddd0"/>
<rect x="398.8" y="533" width="31.75" height="72.4" fill="#fdf0cd"/>
<rect x="430.55" y="533" width="44.45" height="72.4" fill="#dfedd5"/>
<text x="360.2" y="542.3" font-size="10.5" font-family="'Liberation Serif', serif" font-weight="normal" text-anchor="middle" fill="#22408e" stroke="#22408e" stroke-width="0.2">&#948;</text>
<text x="384.8" y="542.3" font-size="10.5" font-family="'Liberation Serif', serif" font-weight="normal" text-anchor="middle" fill="#c8521e" stroke="#c8521e" stroke-width="0.2">&#952;</text>
<text x="414.5" y="542.3" font-size="10.5" font-family="'Liberation Serif', serif" font-weight="normal" text-anchor="middle" fill="#cf9514" stroke="#cf9514" stroke-width="0.2">&#945;</text>
<text x="454.7" y="542.3" font-size="10.5" font-family="'Liberation Serif', serif" font-weight="normal" text-anchor="middle" fill="#4a8e30" stroke="#4a8e30" stroke-width="0.2">&#946;</text>
<text x="350.5" y="532.2" font-size="5.6" font-family="'Liberation Serif', serif" font-weight="bold" text-anchor="start" fill="#000" stroke="#000" stroke-width="0.14">Light</text>
<polyline points="348,605.4 348.76,602.31 349.52,599.51 350.29,597.93 351.05,596.67 351.81,595.88 352.57,595.35 353.33,595.03 354.1,595.35 354.86,595.12 355.62,593.92 356.38,594.28 357.14,594.02 357.91,592.86 358.67,593.14 359.43,592.36 360.19,592.43 360.95,591.89 361.72,592.19 362.48,591.37 363.24,590.85 364,591.04 364.76,590.69 365.53,591.02 366.29,592 367.05,591.38 367.81,591.85 368.57,592.66 369.34,593.44 370.1,592.93 370.86,593.85 371.62,593.86 372.38,593.98 373.15,594.45 373.91,594.52 374.67,595.38 375.43,595.24 376.19,595.76 376.96,595.09 377.72,595.01 378.48,595.69 379.24,595.51 380,595.28 380.77,594.32 381.53,594.46 382.29,593.67 383.05,593.47 383.81,592.41 384.58,591.25 385.34,590 386.1,588.39 386.86,586.65 387.62,584.42 388.39,583 389.15,580.35 389.91,577.97 390.67,575.22 391.43,573.61 392.2,572.82 392.96,569.77 393.72,568.52 394.48,567.7 395.24,567.79 396.01,567.75 396.77,569.16 397.53,568.57 398.29,571.57 399.05,574.62 399.82,577.83 400.58,579.5 401.34,582.42 402.1,585.56 402.86,586.24 403.63,588.53 404.39,590.6 405.15,591.56 405.91,592.03 406.67,592.96 407.44,594.94 408.2,594.98 408.96,596.06 409.72,595.84 410.48,596.72 411.25,596.66 412.01,596.89 412.77,597.61 413.53,597.39 414.29,598.3 415.06,598.77 415.82,598.54 416.58,599.31 417.34,599.25 418.1,599.16 418.87,599.07 419.63,599.58 420.39,599.77 421.15,599.14 421.91,599.72 422.68,599.25 423.44,599.41 424.2,599.96 424.96,599.94 425.72,599.94 426.49,599.88 427.25,599.98 428.01,600.06 428.77,600.06 429.53,599.84 430.3,600.26 431.06,600.34 431.82,600.1 432.58,600.52 433.34,600.47 434.11,599.9 434.87,600.29 435.63,600.27 436.39,600.73 437.15,600.39 437.92,600.25 438.68,600.73 439.44,600.23 440.2,600.22 440.96,600.67 441.73,600.17 442.49,600.28 443.25,600.07 444.01,600.32 444.77,599.99 445.54,599.94 446.3,600.53 447.06,600.47 447.82,599.97 448.58,599.76 449.35,600.4 450.11,600.26 450.87,600.17 451.63,600.44 452.39,600.43 453.16,600.55 453.92,600.62 454.68,600.54 455.44,600.9 456.2,600.95 456.97,600.75 457.73,601.47 458.49,601.14 459.25,601.12 460.01,601.55 460.78,601.71 461.54,601.33 462.3,601.87 463.06,601.99 463.82,601.88 464.59,601.77 465.35,602.32 466.11,602.2 466.87,602.24 467.63,601.91 468.4,602.26 469.16,601.99 469.92,602.57 470.68,602.49 471.44,602.3 472.21,602.17 472.97,602.55 473.73,602.77 474.49,602.9" fill="none" stroke="#d03030" stroke-width="1.2" stroke-linejoin="round"/>
<polyline points="348,605.4 348.76,601.54 349.52,597.68 350.29,595.52 351.05,595.5 351.81,594.45 352.57,594.19 353.33,594.7 354.1,594.38 354.86,593.55 355.62,593.49 356.38,593.06 357.14,593.35 357.91,593.36 358.67,592.79 359.43,591.72 360.19,591.89 360.95,591.34 361.72,590.79 362.48,590.33 363.24,589.88 364,588.74 364.76,589.6 365.53,590.26 366.29,589.5 367.05,590.05 367.81,590.39 368.57,591.54 369.34,591.38 370.1,591.88 370.86,593.18 371.62,592.74 372.38,592.81 373.15,593.18 373.91,593.52 374.67,593.96 375.43,594.07 376.19,594.26 376.96,594.27 377.72,593.5 378.48,593.67 379.24,592.9 380,593.61 380.77,592.44 381.53,592.04 382.29,590.88 383.05,590.03 383.81,588.94 384.58,587.92 385.34,587.28 386.1,584.76 386.86,583.77 387.62,581.7 388.39,579.19 389.15,577.26 389.91,575.15 390.67,571.85 391.43,570.14 392.2,568.34 392.96,566.19 393.72,563.21 394.48,562.19 395.24,560.85 396.01,562.82 396.77,564.26 397.53,564.79 398.29,566.96 399.05,570.88 399.82,572.74 400.58,575.86 401.34,579.48 402.1,581.4 402.86,584.62 403.63,585.59 404.39,587.2 405.15,589.59 405.91,590.44 406.67,591.59 407.44,592.43 408.2,593.32 408.96,593.85 409.72,594.09 410.48,595.51 411.25,596.02 412.01,596.34 412.77,596.64 413.53,596.99 414.29,596.39 415.06,596.82 415.82,597.87 416.58,597.77 417.34,598.06 418.1,598.17 418.87,598.25 419.63,598.08 420.39,598.25 421.15,598.57 421.91,598.84 422.68,598.82 423.44,599.12 424.2,598.83 424.96,598.76 425.72,599.14 426.49,599.49 427.25,599.47 428.01,599.37 428.77,599.24 429.53,599.16 430.3,599.59 431.06,599.27 431.82,599.47 432.58,599.67 433.34,599.76 434.11,599.69 434.87,599.55 435.63,599.84 436.39,599.64 437.15,599.88 437.92,600.11 438.68,599.89 439.44,599.79 440.2,600.37 440.96,600.1 441.73,600.13 442.49,599.77 443.25,599.75 444.01,600.26 444.77,599.85 445.54,599.97 446.3,600.45 447.06,600.31 447.82,600.55 448.58,599.9 449.35,599.97 450.11,599.72 450.87,599.74 451.63,599.79 452.39,599.68 453.16,599.84 453.92,600.32 454.68,599.99 455.44,600.58 456.2,600.54 456.97,600.09 457.73,600.8 458.49,600.84 459.25,600.92 460.01,600.36 460.78,601.03 461.54,601.24 462.3,600.65 463.06,601.33 463.82,600.83 464.59,601.06 465.35,601.01 466.11,600.98 466.87,601.34 467.63,601.22 468.4,601.89 469.16,601.36 469.92,601.63 470.68,601.52 471.44,602.06 472.21,601.61 472.97,601.53 473.73,602.27 474.49,602.12" fill="none" stroke="#2a2ab4" stroke-width="1.2" stroke-linejoin="round"/>
<line x1="348" y1="532.5" x2="348" y2="606" stroke="#1a1a1a" stroke-width="1.2"/>
<line x1="347.4" y1="605.4" x2="475.6" y2="605.4" stroke="#1a1a1a" stroke-width="1.2"/>
<line x1="344.5" y1="605.4" x2="348" y2="605.4" stroke="#1a1a1a" stroke-width="1.1"/>
<text x="343.8" y="607.6" font-size="6.4" font-family="'Liberation Serif', serif" font-weight="bold" text-anchor="end" fill="#000" stroke="#000" stroke-width="0.14">0</text>
<line x1="344.5" y1="581.26" x2="348" y2="581.26" stroke="#1a1a1a" stroke-width="1.1"/>
<text x="343.8" y="583.47" font-size="6.4" font-family="'Liberation Serif', serif" font-weight="bold" text-anchor="end" fill="#000" stroke="#000" stroke-width="0.14">50</text>
<line x1="344.5" y1="557.13" x2="348" y2="557.13" stroke="#1a1a1a" stroke-width="1.1"/>
<text x="343.8" y="559.33" font-size="6.4" font-family="'Liberation Serif', serif" font-weight="bold" text-anchor="end" fill="#000" stroke="#000" stroke-width="0.14">100</text>
<line x1="344.5" y1="533" x2="348" y2="533" stroke="#1a1a1a" stroke-width="1.1"/>
<text x="343.8" y="535.2" font-size="6.4" font-family="'Liberation Serif', serif" font-weight="bold" text-anchor="end" fill="#000" stroke="#000" stroke-width="0.14">150</text>
<line x1="363.88" y1="605.4" x2="363.88" y2="608.2" stroke="#1a1a1a" stroke-width="1"/>
<text x="365.68" y="613.8" font-size="5.7" font-family="'Liberation Serif', serif" font-weight="bold" text-anchor="end" fill="#000" transform="rotate(-45 365.68 613.8)" stroke="#000" stroke-width="0.14">2.5</text>
<line x1="379.75" y1="605.4" x2="379.75" y2="608.2" stroke="#1a1a1a" stroke-width="1"/>
<text x="381.55" y="613.8" font-size="5.7" font-family="'Liberation Serif', serif" font-weight="bold" text-anchor="end" fill="#000" transform="rotate(-45 381.55 613.8)" stroke="#000" stroke-width="0.14">5</text>
<line x1="395.62" y1="605.4" x2="395.62" y2="608.2" stroke="#1a1a1a" stroke-width="1"/>
<text x="397.43" y="613.8" font-size="5.7" font-family="'Liberation Serif', serif" font-weight="bold" text-anchor="end" fill="#000" transform="rotate(-45 397.43 613.8)" stroke="#000" stroke-width="0.14">7.5</text>
<line x1="411.5" y1="605.4" x2="411.5" y2="608.2" stroke="#1a1a1a" stroke-width="1"/>
<text x="413.3" y="613.8" font-size="5.7" font-family="'Liberation Serif', serif" font-weight="bold" text-anchor="end" fill="#000" transform="rotate(-45 413.3 613.8)" stroke="#000" stroke-width="0.14">10</text>
<line x1="427.38" y1="605.4" x2="427.38" y2="608.2" stroke="#1a1a1a" stroke-width="1"/>
<text x="429.18" y="613.8" font-size="5.7" font-family="'Liberation Serif', serif" font-weight="bold" text-anchor="end" fill="#000" transform="rotate(-45 429.18 613.8)" stroke="#000" stroke-width="0.14">12.5</text>
<line x1="443.25" y1="605.4" x2="443.25" y2="608.2" stroke="#1a1a1a" stroke-width="1"/>
<text x="445.05" y="613.8" font-size="5.7" font-family="'Liberation Serif', serif" font-weight="bold" text-anchor="end" fill="#000" transform="rotate(-45 445.05 613.8)" stroke="#000" stroke-width="0.14">15</text>
<line x1="459.12" y1="605.4" x2="459.12" y2="608.2" stroke="#1a1a1a" stroke-width="1"/>
<text x="460.93" y="613.8" font-size="5.7" font-family="'Liberation Serif', serif" font-weight="bold" text-anchor="end" fill="#000" transform="rotate(-45 460.93 613.8)" stroke="#000" stroke-width="0.14">17.5</text>
<line x1="475" y1="605.4" x2="475" y2="608.2" stroke="#1a1a1a" stroke-width="1"/>
<text x="476.8" y="613.8" font-size="5.7" font-family="'Liberation Serif', serif" font-weight="bold" text-anchor="end" fill="#000" transform="rotate(-45 476.8 613.8)" stroke="#000" stroke-width="0.14">20</text>
<text x="412.7" y="524.9" font-size="6.7" font-family="'Liberation Serif', serif" font-weight="bold" text-anchor="middle" fill="#000" stroke="#000" stroke-width="0.28">REM</text>
<text x="408.4" y="630.2" font-size="6.6" font-family="'Liberation Serif', serif" font-weight="bold" text-anchor="middle" fill="#000" stroke="#000" stroke-width="0.28">Frequency, Hz</text>
<text x="329.8" y="568.7" font-size="6.6" font-family="'Liberation Serif', serif" font-weight="bold" text-anchor="middle" fill="#000" transform="rotate(-90 329.8 568.7)" textLength="34.2" lengthAdjust="spacingAndGlyphs" stroke="#000" stroke-width="0.28">Power, &#956;V^2</text>
<rect x="507.19" y="531.8" width="22.35" height="71.5" fill="#d1dbf0"/>
<rect x="529.54" y="531.8" width="25.54" height="71.5" fill="#f9ddd0"/>
<rect x="555.08" y="531.8" width="31.92" height="71.5" fill="#fdf0cd"/>
<rect x="587" y="531.8" width="44.7" height="71.5" fill="#dfedd5"/>
<text x="515.9" y="541.3" font-size="10.5" font-family="'Liberation Serif', serif" font-weight="normal" text-anchor="middle" fill="#22408e" stroke="#22408e" stroke-width="0.2">&#948;</text>
<text x="540.2" y="541.3" font-size="10.5" font-family="'Liberation Serif', serif" font-weight="normal" text-anchor="middle" fill="#c8521e" stroke="#c8521e" stroke-width="0.2">&#952;</text>
<text x="570.4" y="541.3" font-size="10.5" font-family="'Liberation Serif', serif" font-weight="normal" text-anchor="middle" fill="#cf9514" stroke="#cf9514" stroke-width="0.2">&#945;</text>
<text x="610.5" y="541.3" font-size="10.5" font-family="'Liberation Serif', serif" font-weight="normal" text-anchor="middle" fill="#4a8e30" stroke="#4a8e30" stroke-width="0.2">&#946;</text>
<text x="507.4" y="531" font-size="5.6" font-family="'Liberation Serif', serif" font-weight="bold" text-anchor="start" fill="#000" stroke="#000" stroke-width="0.14">Dark</text>
<polyline points="504,603.3 504.77,600.41 505.53,597.19 506.3,593.17 507.06,588.66 507.83,586.71 508.6,588.17 509.36,589.71 510.13,590.08 510.9,591.7 511.66,590.33 512.43,588.58 513.19,588.43 513.96,588.89 514.73,590.62 515.49,590.16 516.26,590.24 517.03,589.49 517.79,588.68 518.56,588.63 519.32,587.29 520.09,586.06 520.86,583.93 521.62,582.79 522.39,582.36 523.15,579.52 523.92,578.25 524.69,576.52 525.45,579.95 526.22,581.67 526.99,581.71 527.75,584.1 528.52,585.98 529.28,587.03 530.05,588.35 530.82,589.77 531.58,589.66 532.35,590.86 533.12,591.19 533.88,592.02 534.65,591.48 535.41,592.05 536.18,592.04 536.95,592.42 537.71,593.34 538.48,593.01 539.25,592.84 540.01,592.48 540.78,592.19 541.54,591.54 542.31,590.55 543.08,590.58 543.84,589.06 544.61,588.79 545.37,586.97 546.14,583.8 546.91,581.83 547.67,579.6 548.44,576.73 549.21,573.71 549.97,572.32 550.74,568.86 551.5,568.72 552.27,565.04 553.04,562.55 553.8,564.49 554.57,563.97 555.34,566.38 556.1,567.83 556.87,571.45 557.63,574.27 558.4,576.88 559.17,578.16 559.93,581.5 560.7,582.71 561.47,584.57 562.23,586.52 563,588.46 563.76,589.6 564.53,590.55 565.3,591.42 566.06,593.08 566.83,593.32 567.59,594.21 568.36,594.68 569.13,595.82 569.89,595.28 570.66,596.42 571.43,596.52 572.19,596.6 572.96,596.66 573.72,597.3 574.49,596.91 575.26,597.37 576.02,597.69 576.79,597.81 577.56,598.05 578.32,598.22 579.09,598.23 579.85,597.85 580.62,597.67 581.39,598.46 582.15,598.64 582.92,597.93 583.68,598.39 584.45,598.58 585.22,598.8 585.98,598.58 586.75,598.47 587.52,598.84 588.28,598.92 589.05,599.27 589.81,598.62 590.58,599.39 591.35,599.07 592.11,598.84 592.88,599.47 593.65,599 594.41,598.79 595.18,599 595.94,598.84 596.71,599.35 597.48,599.04 598.24,599.24 599.01,598.63 599.77,599.04 600.54,598.87 601.31,598.38 602.07,598.45 602.84,598.3 603.61,598.68 604.37,598.61 605.14,598.36 605.9,598.51 606.67,598.77 607.44,598.85 608.2,599.23 608.97,599.22 609.74,598.9 610.5,599.1 611.27,599.54 612.03,599.81 612.8,600.08 613.57,600.36 614.33,600.3 615.1,600 615.87,600.02 616.63,600.49 617.4,600.26 618.16,600.36 618.93,600.5 619.7,600.59 620.46,600.57 621.23,600.92 621.99,600.73 622.76,601.1 623.53,601.01 624.29,600.86 625.06,600.97 625.83,601.32 626.59,600.91 627.36,601.18 628.12,601.29 628.89,601.75 629.66,601.43 630.42,601.69 631.19,601.45" fill="none" stroke="#d03030" stroke-width="1.2" stroke-linejoin="round"/>
<polyline points="504,603.3 504.77,600.52 505.53,597.75 506.3,596.36 507.06,594.72 507.83,594.28 508.6,593.66 509.36,593.68 510.13,592.94 510.9,592.41 511.66,592.07 512.43,592.38 513.19,591.63 513.96,591.39 514.73,591.41 515.49,590.92 516.26,590.78 517.03,591.03 517.79,590.57 518.56,590.55 519.32,589.29 520.09,588.66 520.86,588.51 521.62,587.51 522.39,586.74 523.15,586.04 523.92,586.15 524.69,584.63 525.45,584.81 526.22,585.16 526.99,586.51 527.75,587.35 528.52,588.05 529.28,588.63 530.05,588.93 530.82,590.19 531.58,590.42 532.35,590.46 533.12,590.52 533.88,591.33 534.65,591.1 535.41,591.47 536.18,592.44 536.95,592.27 537.71,592.85 538.48,592.92 539.25,592.62 540.01,592.21 540.78,592.16 541.54,591.69 542.31,591.29 543.08,590.19 543.84,589.33 544.61,587.31 545.37,585.62 546.14,584.4 546.91,580.02 547.67,578.19 548.44,574.13 549.21,571.02 549.97,567.64 550.74,565.11 551.5,561.03 552.27,559.87 553.04,558.48 553.8,558.5 554.57,561.21 555.34,562.53 556.1,565.23 556.87,567.48 557.63,569.66 558.4,572.82 559.17,576.3 559.93,578.07 560.7,580.81 561.47,583.67 562.23,586.22 563,586.86 563.76,588.16 564.53,588.95 565.3,590.22 566.06,591.61 566.83,592.87 567.59,593.26 568.36,594.71 569.13,594.91 569.89,594.76 570.66,595.02 571.43,595.8 572.19,595.64 572.96,595.7 573.72,596.32 574.49,596.4 575.26,596.72 576.02,596.79 576.79,596.3 577.56,596.97 578.32,596.56 579.09,596.71 579.85,597.11 580.62,597.52 581.39,596.99 582.15,597.53 582.92,597.72 583.68,597.91 584.45,597.45 585.22,597.99 585.98,598.27 586.75,598.22 587.52,598.6 588.28,598.23 589.05,598.44 589.81,598.62 590.58,598.27 591.35,598.29 592.11,599.03 592.88,598.66 593.65,598.94 594.41,598.48 595.18,598.69 595.94,599.21 596.71,599.28 597.48,599.45 598.24,598.86 599.01,599.51 599.77,599.34 600.54,599.53 601.31,599.48 602.07,599.52 602.84,599.33 603.61,599.75 604.37,599.17 605.14,599.46 605.9,599.2 606.67,599.39 607.44,599.51 608.2,599.41 608.97,599.55 609.74,599.72 610.5,599.5 611.27,599.71 612.03,600.23 612.8,600.14 613.57,600.04 614.33,599.74 615.1,599.82 615.87,600.14 616.63,600.6 617.4,600.08 618.16,600.4 618.93,600.35 619.7,600.29 620.46,600.38 621.23,600.53 621.99,600.25 622.76,600.68 623.53,600.71 624.29,600.41 625.06,600.93 625.83,600.9 626.59,600.54 627.36,601.14 628.12,600.61 628.89,600.75 629.66,600.98 630.42,601.13 631.19,600.81" fill="none" stroke="#2a2ab4" stroke-width="1.2" stroke-linejoin="round"/>
<line x1="504" y1="530.5" x2="504" y2="603.9" stroke="#1a1a1a" stroke-width="1.2"/>
<line x1="503.4" y1="603.3" x2="632.3" y2="603.3" stroke="#1a1a1a" stroke-width="1.2"/>
<line x1="500.5" y1="603.3" x2="504" y2="603.3" stroke="#1a1a1a" stroke-width="1.1"/>
<text x="499.8" y="605.5" font-size="6.4" font-family="'Liberation Serif', serif" font-weight="bold" text-anchor="end" fill="#000" stroke="#000" stroke-width="0.14">0</text>
<line x1="500.5" y1="579.2" x2="504" y2="579.2" stroke="#1a1a1a" stroke-width="1.1"/>
<text x="499.8" y="581.4" font-size="6.4" font-family="'Liberation Serif', serif" font-weight="bold" text-anchor="end" fill="#000" stroke="#000" stroke-width="0.14">50</text>
<line x1="500.5" y1="555.1" x2="504" y2="555.1" stroke="#1a1a1a" stroke-width="1.1"/>
<text x="499.8" y="557.3" font-size="6.4" font-family="'Liberation Serif', serif" font-weight="bold" text-anchor="end" fill="#000" stroke="#000" stroke-width="0.14">100</text>
<line x1="500.5" y1="531" x2="504" y2="531" stroke="#1a1a1a" stroke-width="1.1"/>
<text x="499.8" y="533.2" font-size="6.4" font-family="'Liberation Serif', serif" font-weight="bold" text-anchor="end" fill="#000" stroke="#000" stroke-width="0.14">150</text>
<line x1="519.96" y1="603.3" x2="519.96" y2="606.1" stroke="#1a1a1a" stroke-width="1"/>
<text x="521.76" y="611.7" font-size="5.7" font-family="'Liberation Serif', serif" font-weight="bold" text-anchor="end" fill="#000" transform="rotate(-45 521.76 611.7)" stroke="#000" stroke-width="0.14">2.5</text>
<line x1="535.92" y1="603.3" x2="535.92" y2="606.1" stroke="#1a1a1a" stroke-width="1"/>
<text x="537.72" y="611.7" font-size="5.7" font-family="'Liberation Serif', serif" font-weight="bold" text-anchor="end" fill="#000" transform="rotate(-45 537.72 611.7)" stroke="#000" stroke-width="0.14">5</text>
<line x1="551.89" y1="603.3" x2="551.89" y2="606.1" stroke="#1a1a1a" stroke-width="1"/>
<text x="553.69" y="611.7" font-size="5.7" font-family="'Liberation Serif', serif" font-weight="bold" text-anchor="end" fill="#000" transform="rotate(-45 553.69 611.7)" stroke="#000" stroke-width="0.14">7.5</text>
<line x1="567.85" y1="603.3" x2="567.85" y2="606.1" stroke="#1a1a1a" stroke-width="1"/>
<text x="569.65" y="611.7" font-size="5.7" font-family="'Liberation Serif', serif" font-weight="bold" text-anchor="end" fill="#000" transform="rotate(-45 569.65 611.7)" stroke="#000" stroke-width="0.14">10</text>
<line x1="583.81" y1="603.3" x2="583.81" y2="606.1" stroke="#1a1a1a" stroke-width="1"/>
<text x="585.61" y="611.7" font-size="5.7" font-family="'Liberation Serif', serif" font-weight="bold" text-anchor="end" fill="#000" transform="rotate(-45 585.61 611.7)" stroke="#000" stroke-width="0.14">12.5</text>
<line x1="599.77" y1="603.3" x2="599.77" y2="606.1" stroke="#1a1a1a" stroke-width="1"/>
<text x="601.57" y="611.7" font-size="5.7" font-family="'Liberation Serif', serif" font-weight="bold" text-anchor="end" fill="#000" transform="rotate(-45 601.57 611.7)" stroke="#000" stroke-width="0.14">15</text>
<line x1="615.74" y1="603.3" x2="615.74" y2="606.1" stroke="#1a1a1a" stroke-width="1"/>
<text x="617.54" y="611.7" font-size="5.7" font-family="'Liberation Serif', serif" font-weight="bold" text-anchor="end" fill="#000" transform="rotate(-45 617.54 611.7)" stroke="#000" stroke-width="0.14">17.5</text>
<line x1="631.7" y1="603.3" x2="631.7" y2="606.1" stroke="#1a1a1a" stroke-width="1"/>
<text x="633.5" y="611.7" font-size="5.7" font-family="'Liberation Serif', serif" font-weight="bold" text-anchor="end" fill="#000" transform="rotate(-45 633.5 611.7)" stroke="#000" stroke-width="0.14">20</text>
<text x="569.7" y="522.1" font-size="6.7" font-family="'Liberation Serif', serif" font-weight="bold" text-anchor="middle" fill="#000" stroke="#000" stroke-width="0.28">REM</text>
<text x="564.4" y="628" font-size="6.6" font-family="'Liberation Serif', serif" font-weight="bold" text-anchor="middle" fill="#000" stroke="#000" stroke-width="0.28">Frequency, Hz</text>
<text x="486.5" y="566.7" font-size="6.6" font-family="'Liberation Serif', serif" font-weight="bold" text-anchor="middle" fill="#000" transform="rotate(-90 486.5 566.7)" textLength="35.5" lengthAdjust="spacingAndGlyphs" stroke="#000" stroke-width="0.28">Power, &#956;V^2</text>
<line x1="634" y1="532.4" x2="643.8" y2="532.4" stroke="#2a2ab4" stroke-width="1.2"/>
<text x="646.7" y="534.4" font-size="5.6" font-family="'Liberation Serif', serif" font-weight="bold" text-anchor="start" fill="#000" stroke="#000" stroke-width="0.14">10m-WT</text>
<line x1="634" y1="546.5" x2="643.8" y2="546.5" stroke="#d03030" stroke-width="1.2"/>
<text x="646.7" y="548.5" font-size="5.6" font-family="'Liberation Serif', serif" font-weight="bold" text-anchor="start" fill="#000" stroke="#000" stroke-width="0.14">10m-AD</text>
<text x="0.53" y="131.4" font-size="11.6" font-family="'Liberation Sans', sans-serif" font-weight="bold" text-anchor="start" fill="#000" stroke="#000" stroke-width="0.35">B</text>
<text x="0.3" y="258.2" font-size="11.6" font-family="'Liberation Sans', sans-serif" font-weight="bold" text-anchor="start" fill="#000" stroke="#000" stroke-width="0.35">C</text>
<text x="1.15" y="385.9" font-size="11.6" font-family="'Liberation Sans', sans-serif" font-weight="bold" text-anchor="start" fill="#000" stroke="#000" stroke-width="0.35">D</text>
<text x="342.45" y="132.2" font-size="11.6" font-family="'Liberation Sans', sans-serif" font-weight="bold" text-anchor="start" fill="#000" stroke="#000" stroke-width="0.35">E</text>
<text x="502.3" y="132.2" font-size="11.6" font-family="'Liberation Sans', sans-serif" font-weight="bold" text-anchor="start" fill="#000" stroke="#000" stroke-width="0.35">H</text>
<text x="343.9" y="260.6" font-size="11.6" font-family="'Liberation Sans', sans-serif" font-weight="bold" text-anchor="start" fill="#000" stroke="#000" stroke-width="0.35">F</text>
<text x="504.45" y="260.3" font-size="11.6" font-family="'Liberation Sans', sans-serif" font-weight="bold" text-anchor="start" fill="#000" stroke="#000" stroke-width="0.35">I</text>
<text x="341.7" y="385.2" font-size="11.6" font-family="'Liberation Sans', sans-serif" font-weight="bold" text-anchor="start" fill="#000" stroke="#000" stroke-width="0.35">G</text>
<text x="500" y="386.4" font-size="11.6" font-family="'Liberation Sans', sans-serif" font-weight="bold" text-anchor="start" fill="#000" stroke="#000" stroke-width="0.35">J</text>
<text x="1.65" y="518.9" font-size="11.6" font-family="'Liberation Sans', sans-serif" font-weight="bold" text-anchor="start" fill="#000" stroke="#000" stroke-width="0.35">K</text>
<text x="160.8" y="520.3" font-size="11.6" font-family="'Liberation Sans', sans-serif" font-weight="bold" text-anchor="start" fill="#000" stroke="#000" stroke-width="0.35">L</text>
<text x="319.8" y="518.9" font-size="11.6" font-family="'Liberation Sans', sans-serif" font-weight="bold" text-anchor="start" fill="#000" stroke="#000" stroke-width="0.35">M</text>
<text x="478.65" y="519.6" font-size="11.6" font-family="'Liberation Sans', sans-serif" font-weight="bold" text-anchor="start" fill="#000" stroke="#000" stroke-width="0.35">N</text>
</svg>
</body></html>
